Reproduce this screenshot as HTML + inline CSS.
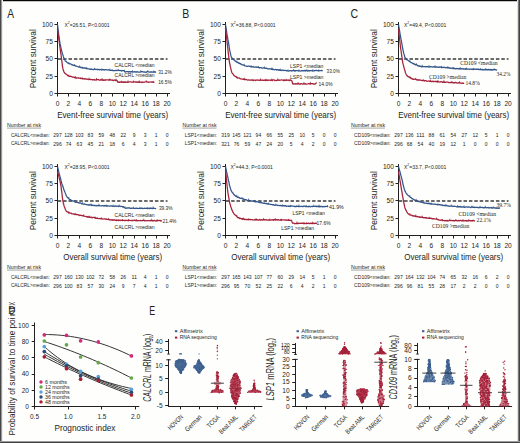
<!DOCTYPE html><html><head><meta charset="utf-8"><style>html,body{margin:0;padding:0;background:#fff;width:520px;height:443px;overflow:hidden}svg{display:block;font-family:"Liberation Sans",sans-serif}</style></head><body><svg width="520" height="443" viewBox="0 0 520 443" font-family="Liberation Sans, sans-serif">
<rect x="0" y="0" width="520" height="443" fill="#fefefd"/>
<line x1="57.50" y1="22.00" x2="57.50" y2="94.00" stroke="#231f20" stroke-width="1.0" />
<line x1="57.00" y1="93.50" x2="170.00" y2="93.50" stroke="#231f20" stroke-width="1.0" />
<line x1="54.50" y1="93.50" x2="57.50" y2="93.50" stroke="#231f20" stroke-width="1.0" />
<text x="52.90" y="95.90" font-size="6.6" fill="#231f20" text-anchor="end" >0</text>
<line x1="54.50" y1="76.50" x2="57.50" y2="76.50" stroke="#231f20" stroke-width="1.0" />
<text x="52.90" y="78.65" font-size="6.6" fill="#231f20" text-anchor="end" >25</text>
<line x1="54.50" y1="58.50" x2="57.50" y2="58.50" stroke="#231f20" stroke-width="1.0" />
<text x="52.90" y="61.40" font-size="6.6" fill="#231f20" text-anchor="end" >50</text>
<line x1="54.50" y1="41.50" x2="57.50" y2="41.50" stroke="#231f20" stroke-width="1.0" />
<text x="52.90" y="44.15" font-size="6.6" fill="#231f20" text-anchor="end" >75</text>
<line x1="54.50" y1="24.50" x2="57.50" y2="24.50" stroke="#231f20" stroke-width="1.0" />
<text x="52.90" y="26.90" font-size="6.6" fill="#231f20" text-anchor="end" >100</text>
<line x1="57.50" y1="93.50" x2="57.50" y2="96.50" stroke="#231f20" stroke-width="1.0" />
<text x="57.50" y="105.80" font-size="6.6" fill="#231f20" text-anchor="middle" >0</text>
<line x1="68.50" y1="93.50" x2="68.50" y2="96.50" stroke="#231f20" stroke-width="1.0" />
<text x="68.46" y="105.80" font-size="6.6" fill="#231f20" text-anchor="middle" >2</text>
<line x1="79.50" y1="93.50" x2="79.50" y2="96.50" stroke="#231f20" stroke-width="1.0" />
<text x="79.42" y="105.80" font-size="6.6" fill="#231f20" text-anchor="middle" >4</text>
<line x1="90.50" y1="93.50" x2="90.50" y2="96.50" stroke="#231f20" stroke-width="1.0" />
<text x="90.38" y="105.80" font-size="6.6" fill="#231f20" text-anchor="middle" >6</text>
<line x1="101.50" y1="93.50" x2="101.50" y2="96.50" stroke="#231f20" stroke-width="1.0" />
<text x="101.34" y="105.80" font-size="6.6" fill="#231f20" text-anchor="middle" >8</text>
<line x1="112.50" y1="93.50" x2="112.50" y2="96.50" stroke="#231f20" stroke-width="1.0" />
<text x="112.30" y="105.80" font-size="6.6" fill="#231f20" text-anchor="middle" >10</text>
<line x1="123.50" y1="93.50" x2="123.50" y2="96.50" stroke="#231f20" stroke-width="1.0" />
<text x="123.26" y="105.80" font-size="6.6" fill="#231f20" text-anchor="middle" >12</text>
<line x1="134.50" y1="93.50" x2="134.50" y2="96.50" stroke="#231f20" stroke-width="1.0" />
<text x="134.22" y="105.80" font-size="6.6" fill="#231f20" text-anchor="middle" >14</text>
<line x1="145.50" y1="93.50" x2="145.50" y2="96.50" stroke="#231f20" stroke-width="1.0" />
<text x="145.18" y="105.80" font-size="6.6" fill="#231f20" text-anchor="middle" >16</text>
<line x1="156.50" y1="93.50" x2="156.50" y2="96.50" stroke="#231f20" stroke-width="1.0" />
<text x="156.14" y="105.80" font-size="6.6" fill="#231f20" text-anchor="middle" >18</text>
<line x1="167.50" y1="93.50" x2="167.50" y2="96.50" stroke="#231f20" stroke-width="1.0" />
<text x="167.10" y="105.80" font-size="6.6" fill="#231f20" text-anchor="middle" >20</text>
<line x1="57.70" y1="59.00" x2="167.50" y2="59.00" stroke="#3a3a3a" stroke-width="1.4" stroke-dasharray="3.5 1.9"/>
<text x="0" y="0" font-size="9.6" fill="#231f20" text-anchor="middle" transform="translate(35.60,58.70) rotate(-90)" textLength="59" lengthAdjust="spacingAndGlyphs">Percent survival</text>
<text x="112.70" y="118.10" font-size="8.8" fill="#231f20" text-anchor="middle" textLength="111.00" lengthAdjust="spacingAndGlyphs" >Event-free survival time (years)</text>
<line x1="57.50" y1="164.00" x2="57.50" y2="236.00" stroke="#231f20" stroke-width="1.0" />
<line x1="57.00" y1="235.50" x2="170.00" y2="235.50" stroke="#231f20" stroke-width="1.0" />
<line x1="54.50" y1="235.50" x2="57.50" y2="235.50" stroke="#231f20" stroke-width="1.0" />
<text x="52.90" y="237.90" font-size="6.6" fill="#231f20" text-anchor="end" >0</text>
<line x1="54.50" y1="218.50" x2="57.50" y2="218.50" stroke="#231f20" stroke-width="1.0" />
<text x="52.90" y="220.65" font-size="6.6" fill="#231f20" text-anchor="end" >25</text>
<line x1="54.50" y1="200.50" x2="57.50" y2="200.50" stroke="#231f20" stroke-width="1.0" />
<text x="52.90" y="203.40" font-size="6.6" fill="#231f20" text-anchor="end" >50</text>
<line x1="54.50" y1="183.50" x2="57.50" y2="183.50" stroke="#231f20" stroke-width="1.0" />
<text x="52.90" y="186.15" font-size="6.6" fill="#231f20" text-anchor="end" >75</text>
<line x1="54.50" y1="166.50" x2="57.50" y2="166.50" stroke="#231f20" stroke-width="1.0" />
<text x="52.90" y="168.90" font-size="6.6" fill="#231f20" text-anchor="end" >100</text>
<line x1="57.50" y1="235.50" x2="57.50" y2="238.50" stroke="#231f20" stroke-width="1.0" />
<text x="57.50" y="247.80" font-size="6.6" fill="#231f20" text-anchor="middle" >0</text>
<line x1="68.50" y1="235.50" x2="68.50" y2="238.50" stroke="#231f20" stroke-width="1.0" />
<text x="68.46" y="247.80" font-size="6.6" fill="#231f20" text-anchor="middle" >2</text>
<line x1="79.50" y1="235.50" x2="79.50" y2="238.50" stroke="#231f20" stroke-width="1.0" />
<text x="79.42" y="247.80" font-size="6.6" fill="#231f20" text-anchor="middle" >4</text>
<line x1="90.50" y1="235.50" x2="90.50" y2="238.50" stroke="#231f20" stroke-width="1.0" />
<text x="90.38" y="247.80" font-size="6.6" fill="#231f20" text-anchor="middle" >6</text>
<line x1="101.50" y1="235.50" x2="101.50" y2="238.50" stroke="#231f20" stroke-width="1.0" />
<text x="101.34" y="247.80" font-size="6.6" fill="#231f20" text-anchor="middle" >8</text>
<line x1="112.50" y1="235.50" x2="112.50" y2="238.50" stroke="#231f20" stroke-width="1.0" />
<text x="112.30" y="247.80" font-size="6.6" fill="#231f20" text-anchor="middle" >10</text>
<line x1="123.50" y1="235.50" x2="123.50" y2="238.50" stroke="#231f20" stroke-width="1.0" />
<text x="123.26" y="247.80" font-size="6.6" fill="#231f20" text-anchor="middle" >12</text>
<line x1="134.50" y1="235.50" x2="134.50" y2="238.50" stroke="#231f20" stroke-width="1.0" />
<text x="134.22" y="247.80" font-size="6.6" fill="#231f20" text-anchor="middle" >14</text>
<line x1="145.50" y1="235.50" x2="145.50" y2="238.50" stroke="#231f20" stroke-width="1.0" />
<text x="145.18" y="247.80" font-size="6.6" fill="#231f20" text-anchor="middle" >16</text>
<line x1="156.50" y1="235.50" x2="156.50" y2="238.50" stroke="#231f20" stroke-width="1.0" />
<text x="156.14" y="247.80" font-size="6.6" fill="#231f20" text-anchor="middle" >18</text>
<line x1="167.50" y1="235.50" x2="167.50" y2="238.50" stroke="#231f20" stroke-width="1.0" />
<text x="167.10" y="247.80" font-size="6.6" fill="#231f20" text-anchor="middle" >20</text>
<line x1="57.70" y1="201.00" x2="167.50" y2="201.00" stroke="#3a3a3a" stroke-width="1.4" stroke-dasharray="3.5 1.9"/>
<text x="0" y="0" font-size="9.6" fill="#231f20" text-anchor="middle" transform="translate(35.60,200.70) rotate(-90)" textLength="59" lengthAdjust="spacingAndGlyphs">Percent survival</text>
<text x="112.70" y="260.10" font-size="8.8" fill="#231f20" text-anchor="middle" textLength="99.00" lengthAdjust="spacingAndGlyphs" >Overall survival time (years)</text>
<line x1="225.50" y1="22.00" x2="225.50" y2="94.00" stroke="#231f20" stroke-width="1.0" />
<line x1="225.00" y1="93.50" x2="338.00" y2="93.50" stroke="#231f20" stroke-width="1.0" />
<line x1="222.50" y1="93.50" x2="225.50" y2="93.50" stroke="#231f20" stroke-width="1.0" />
<text x="220.90" y="95.90" font-size="6.6" fill="#231f20" text-anchor="end" >0</text>
<line x1="222.50" y1="76.50" x2="225.50" y2="76.50" stroke="#231f20" stroke-width="1.0" />
<text x="220.90" y="78.65" font-size="6.6" fill="#231f20" text-anchor="end" >25</text>
<line x1="222.50" y1="58.50" x2="225.50" y2="58.50" stroke="#231f20" stroke-width="1.0" />
<text x="220.90" y="61.40" font-size="6.6" fill="#231f20" text-anchor="end" >50</text>
<line x1="222.50" y1="41.50" x2="225.50" y2="41.50" stroke="#231f20" stroke-width="1.0" />
<text x="220.90" y="44.15" font-size="6.6" fill="#231f20" text-anchor="end" >75</text>
<line x1="222.50" y1="24.50" x2="225.50" y2="24.50" stroke="#231f20" stroke-width="1.0" />
<text x="220.90" y="26.90" font-size="6.6" fill="#231f20" text-anchor="end" >100</text>
<line x1="225.50" y1="93.50" x2="225.50" y2="96.50" stroke="#231f20" stroke-width="1.0" />
<text x="225.50" y="105.80" font-size="6.6" fill="#231f20" text-anchor="middle" >0</text>
<line x1="236.50" y1="93.50" x2="236.50" y2="96.50" stroke="#231f20" stroke-width="1.0" />
<text x="236.46" y="105.80" font-size="6.6" fill="#231f20" text-anchor="middle" >2</text>
<line x1="247.50" y1="93.50" x2="247.50" y2="96.50" stroke="#231f20" stroke-width="1.0" />
<text x="247.42" y="105.80" font-size="6.6" fill="#231f20" text-anchor="middle" >4</text>
<line x1="258.50" y1="93.50" x2="258.50" y2="96.50" stroke="#231f20" stroke-width="1.0" />
<text x="258.38" y="105.80" font-size="6.6" fill="#231f20" text-anchor="middle" >6</text>
<line x1="269.50" y1="93.50" x2="269.50" y2="96.50" stroke="#231f20" stroke-width="1.0" />
<text x="269.34" y="105.80" font-size="6.6" fill="#231f20" text-anchor="middle" >8</text>
<line x1="280.50" y1="93.50" x2="280.50" y2="96.50" stroke="#231f20" stroke-width="1.0" />
<text x="280.30" y="105.80" font-size="6.6" fill="#231f20" text-anchor="middle" >10</text>
<line x1="291.50" y1="93.50" x2="291.50" y2="96.50" stroke="#231f20" stroke-width="1.0" />
<text x="291.26" y="105.80" font-size="6.6" fill="#231f20" text-anchor="middle" >12</text>
<line x1="302.50" y1="93.50" x2="302.50" y2="96.50" stroke="#231f20" stroke-width="1.0" />
<text x="302.22" y="105.80" font-size="6.6" fill="#231f20" text-anchor="middle" >14</text>
<line x1="313.50" y1="93.50" x2="313.50" y2="96.50" stroke="#231f20" stroke-width="1.0" />
<text x="313.18" y="105.80" font-size="6.6" fill="#231f20" text-anchor="middle" >16</text>
<line x1="324.50" y1="93.50" x2="324.50" y2="96.50" stroke="#231f20" stroke-width="1.0" />
<text x="324.14" y="105.80" font-size="6.6" fill="#231f20" text-anchor="middle" >18</text>
<line x1="335.50" y1="93.50" x2="335.50" y2="96.50" stroke="#231f20" stroke-width="1.0" />
<text x="335.10" y="105.80" font-size="6.6" fill="#231f20" text-anchor="middle" >20</text>
<line x1="225.70" y1="59.00" x2="335.50" y2="59.00" stroke="#3a3a3a" stroke-width="1.4" stroke-dasharray="3.5 1.9"/>
<text x="0" y="0" font-size="9.6" fill="#231f20" text-anchor="middle" transform="translate(203.60,58.70) rotate(-90)" textLength="59" lengthAdjust="spacingAndGlyphs">Percent survival</text>
<text x="280.70" y="118.10" font-size="8.8" fill="#231f20" text-anchor="middle" textLength="111.00" lengthAdjust="spacingAndGlyphs" >Event-free survival time (years)</text>
<line x1="225.50" y1="164.00" x2="225.50" y2="236.00" stroke="#231f20" stroke-width="1.0" />
<line x1="225.00" y1="235.50" x2="338.00" y2="235.50" stroke="#231f20" stroke-width="1.0" />
<line x1="222.50" y1="235.50" x2="225.50" y2="235.50" stroke="#231f20" stroke-width="1.0" />
<text x="220.90" y="237.90" font-size="6.6" fill="#231f20" text-anchor="end" >0</text>
<line x1="222.50" y1="218.50" x2="225.50" y2="218.50" stroke="#231f20" stroke-width="1.0" />
<text x="220.90" y="220.65" font-size="6.6" fill="#231f20" text-anchor="end" >25</text>
<line x1="222.50" y1="200.50" x2="225.50" y2="200.50" stroke="#231f20" stroke-width="1.0" />
<text x="220.90" y="203.40" font-size="6.6" fill="#231f20" text-anchor="end" >50</text>
<line x1="222.50" y1="183.50" x2="225.50" y2="183.50" stroke="#231f20" stroke-width="1.0" />
<text x="220.90" y="186.15" font-size="6.6" fill="#231f20" text-anchor="end" >75</text>
<line x1="222.50" y1="166.50" x2="225.50" y2="166.50" stroke="#231f20" stroke-width="1.0" />
<text x="220.90" y="168.90" font-size="6.6" fill="#231f20" text-anchor="end" >100</text>
<line x1="225.50" y1="235.50" x2="225.50" y2="238.50" stroke="#231f20" stroke-width="1.0" />
<text x="225.50" y="247.80" font-size="6.6" fill="#231f20" text-anchor="middle" >0</text>
<line x1="236.50" y1="235.50" x2="236.50" y2="238.50" stroke="#231f20" stroke-width="1.0" />
<text x="236.46" y="247.80" font-size="6.6" fill="#231f20" text-anchor="middle" >2</text>
<line x1="247.50" y1="235.50" x2="247.50" y2="238.50" stroke="#231f20" stroke-width="1.0" />
<text x="247.42" y="247.80" font-size="6.6" fill="#231f20" text-anchor="middle" >4</text>
<line x1="258.50" y1="235.50" x2="258.50" y2="238.50" stroke="#231f20" stroke-width="1.0" />
<text x="258.38" y="247.80" font-size="6.6" fill="#231f20" text-anchor="middle" >6</text>
<line x1="269.50" y1="235.50" x2="269.50" y2="238.50" stroke="#231f20" stroke-width="1.0" />
<text x="269.34" y="247.80" font-size="6.6" fill="#231f20" text-anchor="middle" >8</text>
<line x1="280.50" y1="235.50" x2="280.50" y2="238.50" stroke="#231f20" stroke-width="1.0" />
<text x="280.30" y="247.80" font-size="6.6" fill="#231f20" text-anchor="middle" >10</text>
<line x1="291.50" y1="235.50" x2="291.50" y2="238.50" stroke="#231f20" stroke-width="1.0" />
<text x="291.26" y="247.80" font-size="6.6" fill="#231f20" text-anchor="middle" >12</text>
<line x1="302.50" y1="235.50" x2="302.50" y2="238.50" stroke="#231f20" stroke-width="1.0" />
<text x="302.22" y="247.80" font-size="6.6" fill="#231f20" text-anchor="middle" >14</text>
<line x1="313.50" y1="235.50" x2="313.50" y2="238.50" stroke="#231f20" stroke-width="1.0" />
<text x="313.18" y="247.80" font-size="6.6" fill="#231f20" text-anchor="middle" >16</text>
<line x1="324.50" y1="235.50" x2="324.50" y2="238.50" stroke="#231f20" stroke-width="1.0" />
<text x="324.14" y="247.80" font-size="6.6" fill="#231f20" text-anchor="middle" >18</text>
<line x1="335.50" y1="235.50" x2="335.50" y2="238.50" stroke="#231f20" stroke-width="1.0" />
<text x="335.10" y="247.80" font-size="6.6" fill="#231f20" text-anchor="middle" >20</text>
<line x1="225.70" y1="201.00" x2="335.50" y2="201.00" stroke="#3a3a3a" stroke-width="1.4" stroke-dasharray="3.5 1.9"/>
<text x="0" y="0" font-size="9.6" fill="#231f20" text-anchor="middle" transform="translate(203.60,200.70) rotate(-90)" textLength="59" lengthAdjust="spacingAndGlyphs">Percent survival</text>
<text x="280.70" y="260.10" font-size="8.8" fill="#231f20" text-anchor="middle" textLength="99.00" lengthAdjust="spacingAndGlyphs" >Overall survival time (years)</text>
<line x1="398.50" y1="22.00" x2="398.50" y2="94.00" stroke="#231f20" stroke-width="1.0" />
<line x1="398.00" y1="93.50" x2="511.00" y2="93.50" stroke="#231f20" stroke-width="1.0" />
<line x1="395.50" y1="93.50" x2="398.50" y2="93.50" stroke="#231f20" stroke-width="1.0" />
<text x="393.90" y="95.90" font-size="6.6" fill="#231f20" text-anchor="end" >0</text>
<line x1="395.50" y1="76.50" x2="398.50" y2="76.50" stroke="#231f20" stroke-width="1.0" />
<text x="393.90" y="78.65" font-size="6.6" fill="#231f20" text-anchor="end" >25</text>
<line x1="395.50" y1="58.50" x2="398.50" y2="58.50" stroke="#231f20" stroke-width="1.0" />
<text x="393.90" y="61.40" font-size="6.6" fill="#231f20" text-anchor="end" >50</text>
<line x1="395.50" y1="41.50" x2="398.50" y2="41.50" stroke="#231f20" stroke-width="1.0" />
<text x="393.90" y="44.15" font-size="6.6" fill="#231f20" text-anchor="end" >75</text>
<line x1="395.50" y1="24.50" x2="398.50" y2="24.50" stroke="#231f20" stroke-width="1.0" />
<text x="393.90" y="26.90" font-size="6.6" fill="#231f20" text-anchor="end" >100</text>
<line x1="398.50" y1="93.50" x2="398.50" y2="96.50" stroke="#231f20" stroke-width="1.0" />
<text x="398.50" y="105.80" font-size="6.6" fill="#231f20" text-anchor="middle" >0</text>
<line x1="409.50" y1="93.50" x2="409.50" y2="96.50" stroke="#231f20" stroke-width="1.0" />
<text x="409.46" y="105.80" font-size="6.6" fill="#231f20" text-anchor="middle" >2</text>
<line x1="420.50" y1="93.50" x2="420.50" y2="96.50" stroke="#231f20" stroke-width="1.0" />
<text x="420.42" y="105.80" font-size="6.6" fill="#231f20" text-anchor="middle" >4</text>
<line x1="431.50" y1="93.50" x2="431.50" y2="96.50" stroke="#231f20" stroke-width="1.0" />
<text x="431.38" y="105.80" font-size="6.6" fill="#231f20" text-anchor="middle" >6</text>
<line x1="442.50" y1="93.50" x2="442.50" y2="96.50" stroke="#231f20" stroke-width="1.0" />
<text x="442.34" y="105.80" font-size="6.6" fill="#231f20" text-anchor="middle" >8</text>
<line x1="453.50" y1="93.50" x2="453.50" y2="96.50" stroke="#231f20" stroke-width="1.0" />
<text x="453.30" y="105.80" font-size="6.6" fill="#231f20" text-anchor="middle" >10</text>
<line x1="464.50" y1="93.50" x2="464.50" y2="96.50" stroke="#231f20" stroke-width="1.0" />
<text x="464.26" y="105.80" font-size="6.6" fill="#231f20" text-anchor="middle" >12</text>
<line x1="475.50" y1="93.50" x2="475.50" y2="96.50" stroke="#231f20" stroke-width="1.0" />
<text x="475.22" y="105.80" font-size="6.6" fill="#231f20" text-anchor="middle" >14</text>
<line x1="486.50" y1="93.50" x2="486.50" y2="96.50" stroke="#231f20" stroke-width="1.0" />
<text x="486.18" y="105.80" font-size="6.6" fill="#231f20" text-anchor="middle" >16</text>
<line x1="497.50" y1="93.50" x2="497.50" y2="96.50" stroke="#231f20" stroke-width="1.0" />
<text x="497.14" y="105.80" font-size="6.6" fill="#231f20" text-anchor="middle" >18</text>
<line x1="508.50" y1="93.50" x2="508.50" y2="96.50" stroke="#231f20" stroke-width="1.0" />
<text x="508.10" y="105.80" font-size="6.6" fill="#231f20" text-anchor="middle" >20</text>
<line x1="398.70" y1="59.00" x2="508.50" y2="59.00" stroke="#3a3a3a" stroke-width="1.4" stroke-dasharray="3.5 1.9"/>
<text x="0" y="0" font-size="9.6" fill="#231f20" text-anchor="middle" transform="translate(376.60,58.70) rotate(-90)" textLength="59" lengthAdjust="spacingAndGlyphs">Percent survival</text>
<text x="453.70" y="118.10" font-size="8.8" fill="#231f20" text-anchor="middle" textLength="111.00" lengthAdjust="spacingAndGlyphs" >Event-free survival time (years)</text>
<line x1="398.50" y1="164.00" x2="398.50" y2="236.00" stroke="#231f20" stroke-width="1.0" />
<line x1="398.00" y1="235.50" x2="511.00" y2="235.50" stroke="#231f20" stroke-width="1.0" />
<line x1="395.50" y1="235.50" x2="398.50" y2="235.50" stroke="#231f20" stroke-width="1.0" />
<text x="393.90" y="237.90" font-size="6.6" fill="#231f20" text-anchor="end" >0</text>
<line x1="395.50" y1="218.50" x2="398.50" y2="218.50" stroke="#231f20" stroke-width="1.0" />
<text x="393.90" y="220.65" font-size="6.6" fill="#231f20" text-anchor="end" >25</text>
<line x1="395.50" y1="200.50" x2="398.50" y2="200.50" stroke="#231f20" stroke-width="1.0" />
<text x="393.90" y="203.40" font-size="6.6" fill="#231f20" text-anchor="end" >50</text>
<line x1="395.50" y1="183.50" x2="398.50" y2="183.50" stroke="#231f20" stroke-width="1.0" />
<text x="393.90" y="186.15" font-size="6.6" fill="#231f20" text-anchor="end" >75</text>
<line x1="395.50" y1="166.50" x2="398.50" y2="166.50" stroke="#231f20" stroke-width="1.0" />
<text x="393.90" y="168.90" font-size="6.6" fill="#231f20" text-anchor="end" >100</text>
<line x1="398.50" y1="235.50" x2="398.50" y2="238.50" stroke="#231f20" stroke-width="1.0" />
<text x="398.50" y="247.80" font-size="6.6" fill="#231f20" text-anchor="middle" >0</text>
<line x1="409.50" y1="235.50" x2="409.50" y2="238.50" stroke="#231f20" stroke-width="1.0" />
<text x="409.46" y="247.80" font-size="6.6" fill="#231f20" text-anchor="middle" >2</text>
<line x1="420.50" y1="235.50" x2="420.50" y2="238.50" stroke="#231f20" stroke-width="1.0" />
<text x="420.42" y="247.80" font-size="6.6" fill="#231f20" text-anchor="middle" >4</text>
<line x1="431.50" y1="235.50" x2="431.50" y2="238.50" stroke="#231f20" stroke-width="1.0" />
<text x="431.38" y="247.80" font-size="6.6" fill="#231f20" text-anchor="middle" >6</text>
<line x1="442.50" y1="235.50" x2="442.50" y2="238.50" stroke="#231f20" stroke-width="1.0" />
<text x="442.34" y="247.80" font-size="6.6" fill="#231f20" text-anchor="middle" >8</text>
<line x1="453.50" y1="235.50" x2="453.50" y2="238.50" stroke="#231f20" stroke-width="1.0" />
<text x="453.30" y="247.80" font-size="6.6" fill="#231f20" text-anchor="middle" >10</text>
<line x1="464.50" y1="235.50" x2="464.50" y2="238.50" stroke="#231f20" stroke-width="1.0" />
<text x="464.26" y="247.80" font-size="6.6" fill="#231f20" text-anchor="middle" >12</text>
<line x1="475.50" y1="235.50" x2="475.50" y2="238.50" stroke="#231f20" stroke-width="1.0" />
<text x="475.22" y="247.80" font-size="6.6" fill="#231f20" text-anchor="middle" >14</text>
<line x1="486.50" y1="235.50" x2="486.50" y2="238.50" stroke="#231f20" stroke-width="1.0" />
<text x="486.18" y="247.80" font-size="6.6" fill="#231f20" text-anchor="middle" >16</text>
<line x1="497.50" y1="235.50" x2="497.50" y2="238.50" stroke="#231f20" stroke-width="1.0" />
<text x="497.14" y="247.80" font-size="6.6" fill="#231f20" text-anchor="middle" >18</text>
<line x1="508.50" y1="235.50" x2="508.50" y2="238.50" stroke="#231f20" stroke-width="1.0" />
<text x="508.10" y="247.80" font-size="6.6" fill="#231f20" text-anchor="middle" >20</text>
<line x1="398.70" y1="201.00" x2="508.50" y2="201.00" stroke="#3a3a3a" stroke-width="1.4" stroke-dasharray="3.5 1.9"/>
<text x="0" y="0" font-size="9.6" fill="#231f20" text-anchor="middle" transform="translate(376.60,200.70) rotate(-90)" textLength="59" lengthAdjust="spacingAndGlyphs">Percent survival</text>
<text x="453.70" y="260.10" font-size="8.8" fill="#231f20" text-anchor="middle" textLength="99.00" lengthAdjust="spacingAndGlyphs" >Overall survival time (years)</text>
<text x="0" y="0" font-size="12" fill="#231f20" transform="translate(7.2,17.9) scale(0.85,1)">A</text>
<text x="0" y="0" font-size="12" fill="#231f20" transform="translate(182.3,17.9) scale(0.88,1)">B</text>
<text x="0" y="0" font-size="12" fill="#231f20" transform="translate(350.6,17.9) scale(0.88,1)">C</text>
<polyline points="57.5,24.5 58.0,28.6 58.5,32.8 59.0,36.8 59.5,40.2 60.0,43.4 60.5,45.5 61.0,48.0 61.4,50.0 61.9,51.6 62.4,53.6 62.9,54.9 63.4,56.7 63.9,57.9 64.4,59.1 64.9,60.3 65.4,61.2 65.9,61.2 66.4,61.7 66.9,62.3 67.4,62.9 67.9,62.9 68.4,63.0 68.8,63.7 69.3,63.8 69.8,63.7 70.3,63.8 70.8,64.0 71.3,64.3 71.8,64.9 72.3,64.6 72.8,65.1 73.3,65.3 73.8,65.3 74.3,65.6 74.8,65.4 75.3,65.7 75.7,66.2 76.2,66.1 76.7,66.2 77.2,66.5 77.7,66.6 78.2,66.6 78.7,67.1 79.2,67.1 79.7,66.9 80.2,67.2 80.7,67.6 81.2,67.6 81.7,67.4 82.2,68.0 82.7,67.5 83.1,67.8 83.6,68.1 84.1,67.8 84.6,68.1 85.1,67.9 85.6,68.4 86.1,68.6 86.6,68.6 87.1,68.5 87.6,68.8 88.1,68.8 88.6,68.9 89.1,68.9 89.6,69.2 90.1,69.4 90.5,69.1 91.0,69.3 91.5,68.9 92.0,69.4 92.5,69.4 93.0,69.7 93.5,69.6 94.0,69.3 94.5,69.4 95.0,69.2 95.5,69.5 96.0,69.3 96.5,69.3 97.0,69.3 97.4,69.8 97.9,69.3 98.4,69.4 98.9,69.5 99.4,69.9 99.9,69.4 100.4,69.6 100.9,69.7 101.4,70.0 101.9,69.9 102.4,69.6 102.9,69.7 103.4,69.6 103.9,70.0 104.4,70.1 104.8,69.6 105.3,69.6 105.8,69.7 106.3,69.7 106.8,69.9 107.3,70.0 107.8,69.8 108.3,69.7 108.8,70.0 109.3,70.0 109.8,70.2 110.3,70.3 110.8,70.2 111.3,70.3 111.8,70.4 112.2,70.0 112.7,70.7 113.2,70.6 113.7,70.7 114.2,70.7 114.7,70.5 115.2,70.5 115.7,70.3 116.2,70.7 116.7,70.3 117.2,70.4 117.7,70.5 118.2,70.5 118.7,70.4 119.1,70.4 119.6,70.5 120.1,70.5 120.6,70.6 121.1,70.4 121.6,71.0 122.1,70.8 122.6,70.5 123.1,70.6 123.6,70.6 124.1,70.8 124.6,71.3 125.1,72.1 125.6,71.8 126.1,71.8 126.5,71.5 127.0,71.5 127.5,71.7 128.0,71.7 128.5,72.1 129.0,71.6 129.5,71.5 130.0,72.2 130.5,71.9 131.0,71.6 131.5,71.9 132.0,71.5 132.5,71.9 133.0,72.1 133.5,72.0 133.9,71.7 134.4,71.8 134.9,71.7 135.4,72.1 135.9,71.9 136.4,72.1 136.9,71.8 137.4,71.7 137.9,72.1 138.4,72.2 138.9,72.2 139.4,72.1 139.9,72.1 140.4,72.1 140.9,71.7 141.3,71.8 141.8,71.6 142.3,71.6 142.8,71.8 143.3,71.8 143.8,72.1 144.3,72.2 144.8,71.9 145.3,72.2 145.8,72.3 146.3,72.3 146.8,71.8 147.3,71.7 147.8,71.7 148.2,71.7 148.7,72.0 149.2,72.2 149.7,72.2 150.2,71.9 150.7,72.1 151.2,72.2 151.7,71.7 152.2,72.1 152.7,72.2 153.2,72.2 153.7,72.1 154.2,71.7 154.7,72.2 155.2,71.8 155.6,72.2 156.1,72.3" fill="none" stroke="#34568a" stroke-width="1.25" stroke-linejoin="round"/>
<line x1="68.84" y1="62.06" x2="68.84" y2="63.86" stroke="#34568a" stroke-width="0.75" />
<line x1="74.27" y1="64.00" x2="74.27" y2="65.80" stroke="#34568a" stroke-width="0.75" />
<line x1="79.69" y1="65.32" x2="79.69" y2="67.12" stroke="#34568a" stroke-width="0.75" />
<line x1="86.60" y1="66.96" x2="86.60" y2="68.76" stroke="#34568a" stroke-width="0.75" />
<line x1="94.49" y1="67.79" x2="94.49" y2="69.59" stroke="#34568a" stroke-width="0.75" />
<line x1="101.89" y1="68.32" x2="101.89" y2="70.12" stroke="#34568a" stroke-width="0.75" />
<line x1="109.78" y1="68.58" x2="109.78" y2="70.38" stroke="#34568a" stroke-width="0.75" />
<line x1="118.16" y1="68.87" x2="118.16" y2="70.67" stroke="#34568a" stroke-width="0.75" />
<line x1="124.58" y1="69.67" x2="124.58" y2="71.47" stroke="#34568a" stroke-width="0.75" />
<line x1="132.47" y1="70.29" x2="132.47" y2="72.09" stroke="#34568a" stroke-width="0.75" />
<line x1="140.85" y1="70.13" x2="140.85" y2="71.93" stroke="#34568a" stroke-width="0.75" />
<line x1="147.76" y1="70.15" x2="147.76" y2="71.95" stroke="#34568a" stroke-width="0.75" />
<line x1="153.67" y1="70.53" x2="153.67" y2="72.33" stroke="#34568a" stroke-width="0.75" />
<polyline points="57.5,29.3 58.0,33.0 58.5,36.7 59.0,40.3 59.5,44.0 60.0,48.0 60.5,51.3 61.0,54.3 61.4,57.9 61.9,61.7 62.4,65.8 62.9,68.7 63.4,70.2 63.9,71.7 64.4,72.7 64.9,73.2 65.4,73.6 65.9,74.2 66.4,74.3 66.9,74.6 67.4,75.5 67.9,75.5 68.4,75.7 68.8,76.2 69.3,76.3 69.8,76.5 70.3,76.2 70.8,76.4 71.3,76.6 71.8,76.7 72.3,77.1 72.8,77.0 73.3,77.2 73.8,77.1 74.3,77.7 74.8,77.4 75.3,77.6 75.7,78.0 76.2,77.7 76.7,78.2 77.2,77.9 77.7,78.0 78.2,78.1 78.7,77.8 79.2,78.2 79.7,78.1 80.2,78.0 80.7,78.6 81.2,78.3 81.7,78.5 82.2,78.8 82.7,78.6 83.1,78.8 83.6,78.8 84.1,79.1 84.6,78.6 85.1,79.0 85.6,78.8 86.1,78.9 86.6,79.3 87.1,79.2 87.6,79.2 88.1,79.4 88.6,79.6 89.1,79.3 89.6,79.4 90.1,79.4 90.5,79.6 91.0,79.4 91.5,79.5 92.0,79.5 92.5,79.9 93.0,79.7 93.5,79.9 94.0,80.0 94.5,79.5 95.0,79.8 95.5,80.0 96.0,80.0 96.5,79.5 97.0,79.8 97.4,79.5 97.9,79.7 98.4,79.5 98.9,80.0 99.4,80.1 99.9,80.2 100.4,79.7 100.9,80.1 101.4,80.0 101.9,79.7 102.4,80.3 102.9,79.7 103.4,80.3 103.9,79.9 104.4,79.9 104.8,80.3 105.3,80.2 105.8,79.7 106.3,79.9 106.8,80.0 107.3,79.9 107.8,79.8 108.3,79.9 108.8,80.2 109.3,79.7 109.8,80.1 110.3,79.7 110.8,80.0 111.3,80.2 111.8,80.1 112.2,79.8 112.7,80.5 113.2,80.4 113.7,80.6 114.2,80.0 114.7,80.1 115.2,80.0 115.7,80.6 116.2,80.3 116.7,80.4 117.2,80.8 117.7,82.2 118.2,81.9 118.7,81.9 119.1,82.4 119.6,82.2 120.1,82.3 120.6,81.8 121.1,81.8 121.6,82.2 122.1,81.8 122.6,82.4 123.1,82.2 123.6,82.3 124.1,81.8 124.6,82.4 125.1,81.8 125.6,82.4 126.1,82.1 126.5,82.0 127.0,82.2 127.5,82.4 128.0,82.0 128.5,82.1 129.0,81.9 129.5,81.8 130.0,81.9 130.5,81.8 131.0,81.9 131.5,82.0 132.0,82.0 132.5,82.3 133.0,82.0 133.5,82.1 133.9,82.0 134.4,81.8 134.9,81.9 135.4,81.8 135.9,82.3 136.4,82.2 136.9,81.9 137.4,82.1 137.9,82.4 138.4,81.8 138.9,82.3 139.4,82.1 139.9,82.3 140.4,82.0 140.9,82.1 141.3,82.2 141.8,82.5 142.3,82.0 142.8,82.3 143.3,82.3 143.8,82.2 144.3,82.0 144.8,82.0 145.3,81.8 145.8,81.9 146.3,81.8 146.8,81.9 147.3,81.9 147.8,81.8 148.2,82.4 148.7,82.4 149.2,82.2 149.7,82.0 150.2,81.9 150.7,82.0 151.2,82.1 151.7,81.9 152.2,82.1 152.7,81.9 153.2,82.4 153.7,82.4 154.2,81.9" fill="none" stroke="#a5223b" stroke-width="1.25" stroke-linejoin="round"/>
<line x1="68.84" y1="74.57" x2="68.84" y2="76.37" stroke="#a5223b" stroke-width="0.75" />
<line x1="75.26" y1="75.99" x2="75.26" y2="77.79" stroke="#a5223b" stroke-width="0.75" />
<line x1="82.16" y1="77.18" x2="82.16" y2="78.98" stroke="#a5223b" stroke-width="0.75" />
<line x1="89.06" y1="77.68" x2="89.06" y2="79.48" stroke="#a5223b" stroke-width="0.75" />
<line x1="96.46" y1="77.93" x2="96.46" y2="79.73" stroke="#a5223b" stroke-width="0.75" />
<line x1="101.89" y1="78.07" x2="101.89" y2="79.87" stroke="#a5223b" stroke-width="0.75" />
<line x1="109.78" y1="78.49" x2="109.78" y2="80.29" stroke="#a5223b" stroke-width="0.75" />
<line x1="116.19" y1="78.66" x2="116.19" y2="80.46" stroke="#a5223b" stroke-width="0.75" />
<line x1="121.62" y1="80.65" x2="121.62" y2="82.45" stroke="#a5223b" stroke-width="0.75" />
<line x1="128.03" y1="80.35" x2="128.03" y2="82.15" stroke="#a5223b" stroke-width="0.75" />
<line x1="133.45" y1="80.52" x2="133.45" y2="82.32" stroke="#a5223b" stroke-width="0.75" />
<line x1="139.37" y1="80.47" x2="139.37" y2="82.27" stroke="#a5223b" stroke-width="0.75" />
<line x1="146.28" y1="80.21" x2="146.28" y2="82.01" stroke="#a5223b" stroke-width="0.75" />
<line x1="153.67" y1="80.85" x2="153.67" y2="82.65" stroke="#a5223b" stroke-width="0.75" />
<polyline points="225.5,24.5 226.0,27.7 226.5,30.9 227.0,34.5 227.5,37.2 228.0,40.1 228.5,42.6 229.0,45.6 229.4,48.5 229.9,51.2 230.4,53.4 230.9,55.7 231.4,56.9 231.9,58.0 232.4,58.5 232.9,59.2 233.4,59.4 233.9,59.8 234.4,60.4 234.9,60.7 235.4,61.2 235.9,61.4 236.4,61.9 236.8,62.1 237.3,62.5 237.8,62.4 238.3,62.7 238.8,63.4 239.3,63.0 239.8,63.7 240.3,63.9 240.8,63.7 241.3,64.5 241.8,64.7 242.3,64.7 242.8,65.0 243.3,65.2 243.7,64.9 244.2,65.4 244.7,65.8 245.2,65.9 245.7,66.0 246.2,66.0 246.7,66.3 247.2,66.3 247.7,66.4 248.2,66.1 248.7,66.1 249.2,66.2 249.7,66.4 250.2,66.3 250.7,66.9 251.1,66.7 251.6,66.8 252.1,66.9 252.6,66.8 253.1,66.5 253.6,67.1 254.1,67.2 254.6,67.0 255.1,67.1 255.6,67.2 256.1,66.9 256.6,67.4 257.1,67.1 257.6,67.0 258.1,67.2 258.5,67.6 259.0,67.7 259.5,67.9 260.0,67.6 260.5,67.6 261.0,67.7 261.5,67.9 262.0,68.1 262.5,68.0 263.0,68.1 263.5,67.8 264.0,67.9 264.5,68.1 265.0,68.2 265.4,68.4 265.9,68.1 266.4,68.2 266.9,68.4 267.4,68.8 267.9,68.8 268.4,68.9 268.9,68.7 269.4,68.9 269.9,68.9 270.4,69.0 270.9,68.8 271.4,69.4 271.9,69.0 272.4,69.6 272.8,69.0 273.3,69.3 273.8,69.6 274.3,69.8 274.8,69.5 275.3,69.4 275.8,69.4 276.3,70.0 276.8,69.6 277.3,69.9 277.8,69.6 278.3,69.9 278.8,70.3 279.3,69.8 279.8,70.3 280.2,70.2 280.7,70.3 281.2,70.1 281.7,70.6 282.2,70.3 282.7,70.1 283.2,70.1 283.7,70.5 284.2,70.5 284.7,70.4 285.2,70.3 285.7,70.5 286.2,70.5 286.7,70.9 287.1,70.3 287.6,70.9 288.1,71.0 288.6,71.0 289.1,70.9 289.6,71.0 290.1,70.6 290.6,70.6 291.1,70.7 291.6,71.1 292.1,70.8 292.6,70.6 293.1,70.7 293.6,70.6 294.1,70.5 294.5,71.0 295.0,70.6 295.5,71.0 296.0,70.6 296.5,70.6 297.0,70.7 297.5,70.5 298.0,70.6 298.5,71.0 299.0,71.0 299.5,70.8 300.0,71.0 300.5,71.0 301.0,70.8 301.5,70.9 301.9,70.4 302.4,70.9 302.9,70.7 303.4,70.9 303.9,70.8 304.4,70.6 304.9,70.4 305.4,71.0 305.9,70.5 306.4,70.7 306.9,70.6 307.4,70.9 307.9,71.1 308.4,70.6 308.9,70.8 309.3,70.6 309.8,70.8 310.3,70.7 310.8,70.5 311.3,70.5 311.8,70.5 312.3,71.0 312.8,70.7 313.3,71.0 313.8,71.1 314.3,70.7 314.8,70.5 315.3,70.5 315.8,70.4 316.2,70.6 316.7,70.4 317.2,70.5 317.7,70.6 318.2,70.8 318.7,71.0 319.2,70.7 319.7,70.7 320.2,70.7 320.7,70.6 321.2,70.6 321.7,70.4 322.2,70.6 322.7,71.1" fill="none" stroke="#34568a" stroke-width="1.25" stroke-linejoin="round"/>
<line x1="236.84" y1="60.49" x2="236.84" y2="62.29" stroke="#34568a" stroke-width="0.75" />
<line x1="244.24" y1="63.78" x2="244.24" y2="65.58" stroke="#34568a" stroke-width="0.75" />
<line x1="251.15" y1="65.14" x2="251.15" y2="66.94" stroke="#34568a" stroke-width="0.75" />
<line x1="258.54" y1="66.00" x2="258.54" y2="67.80" stroke="#34568a" stroke-width="0.75" />
<line x1="264.46" y1="66.46" x2="264.46" y2="68.26" stroke="#34568a" stroke-width="0.75" />
<line x1="271.86" y1="67.40" x2="271.86" y2="69.20" stroke="#34568a" stroke-width="0.75" />
<line x1="280.25" y1="68.56" x2="280.25" y2="70.36" stroke="#34568a" stroke-width="0.75" />
<line x1="288.14" y1="69.36" x2="288.14" y2="71.16" stroke="#34568a" stroke-width="0.75" />
<line x1="293.56" y1="68.97" x2="293.56" y2="70.77" stroke="#34568a" stroke-width="0.75" />
<line x1="298.99" y1="69.40" x2="298.99" y2="71.20" stroke="#34568a" stroke-width="0.75" />
<line x1="306.88" y1="69.02" x2="306.88" y2="70.82" stroke="#34568a" stroke-width="0.75" />
<line x1="312.80" y1="69.13" x2="312.80" y2="70.93" stroke="#34568a" stroke-width="0.75" />
<line x1="318.71" y1="69.40" x2="318.71" y2="71.20" stroke="#34568a" stroke-width="0.75" />
<polyline points="225.5,27.9 226.0,32.4 226.5,36.9 227.0,41.1 227.5,45.7 228.0,50.2 228.5,54.9 229.0,58.7 229.4,62.1 229.9,64.5 230.4,66.9 230.9,68.9 231.4,71.1 231.9,72.5 232.4,73.6 232.9,73.8 233.4,74.4 233.9,75.4 234.4,76.0 234.9,76.1 235.4,76.6 235.9,76.5 236.4,77.1 236.8,77.7 237.3,77.9 237.8,78.1 238.3,77.8 238.8,77.8 239.3,78.0 239.8,78.4 240.3,78.7 240.8,79.0 241.3,78.9 241.8,79.0 242.3,79.2 242.8,79.1 243.3,79.3 243.7,79.0 244.2,79.6 244.7,79.4 245.2,79.7 245.7,79.6 246.2,79.5 246.7,79.7 247.2,80.0 247.7,80.1 248.2,79.8 248.7,79.8 249.2,80.1 249.7,80.2 250.2,80.1 250.7,80.0 251.1,80.3 251.6,79.8 252.1,80.0 252.6,80.2 253.1,80.5 253.6,80.5 254.1,80.2 254.6,80.0 255.1,80.0 255.6,80.5 256.1,80.3 256.6,80.0 257.1,79.8 257.6,80.2 258.1,80.3 258.5,80.1 259.0,80.0 259.5,80.3 260.0,80.5 260.5,80.0 261.0,80.1 261.5,80.1 262.0,80.3 262.5,80.0 263.0,80.4 263.5,80.4 264.0,80.2 264.5,80.0 265.0,80.5 265.4,80.1 265.9,80.4 266.4,80.0 266.9,80.4 267.4,80.0 267.9,80.5 268.4,80.2 268.9,80.0 269.4,80.0 269.9,80.1 270.4,80.3 270.9,80.5 271.4,79.9 271.9,80.1 272.4,80.5 272.8,79.9 273.3,79.9 273.8,79.9 274.3,80.1 274.8,80.5 275.3,80.5 275.8,80.3 276.3,80.5 276.8,80.5 277.3,80.1 277.8,80.0 278.3,80.4 278.8,79.9 279.3,80.3 279.8,80.1 280.2,80.1 280.7,80.1 281.2,80.0 281.7,79.8 282.2,80.0 282.7,80.1 283.2,80.5 283.7,79.9 284.2,80.5 284.7,80.0 285.2,80.1 285.7,80.4 286.2,80.4 286.7,79.9 287.1,80.2 287.6,80.1 288.1,80.5 288.6,80.0 289.1,80.1 289.6,80.5 290.1,79.9 290.6,80.1 291.1,80.4 291.6,80.4 292.1,81.7 292.6,83.5 293.1,84.1 293.6,83.7 294.1,84.0 294.5,84.1 295.0,83.7 295.5,83.7 296.0,84.2 296.5,83.9 297.0,83.7 297.5,84.0 298.0,83.7 298.5,83.5 299.0,84.0 299.5,84.1 300.0,83.9 300.5,84.2 301.0,83.5 301.5,83.7 301.9,83.8 302.4,84.2 302.9,84.2 303.4,83.8 303.9,83.7 304.4,83.8 304.9,84.1 305.4,83.6 305.9,84.1 306.4,84.0 306.9,84.1 307.4,84.0 307.9,83.9 308.4,83.7 308.9,83.7 309.3,83.7 309.8,84.0 310.3,83.5 310.8,84.0 311.3,83.7 311.8,83.5 312.3,83.5 312.8,83.9 313.3,83.7 313.8,84.2 314.3,84.1 314.8,84.2 315.3,83.7 315.8,83.5 316.2,83.6" fill="none" stroke="#a5223b" stroke-width="1.25" stroke-linejoin="round"/>
<line x1="236.84" y1="76.09" x2="236.84" y2="77.89" stroke="#a5223b" stroke-width="0.75" />
<line x1="244.73" y1="77.76" x2="244.73" y2="79.56" stroke="#a5223b" stroke-width="0.75" />
<line x1="253.12" y1="78.90" x2="253.12" y2="80.70" stroke="#a5223b" stroke-width="0.75" />
<line x1="260.52" y1="78.39" x2="260.52" y2="80.19" stroke="#a5223b" stroke-width="0.75" />
<line x1="265.94" y1="78.81" x2="265.94" y2="80.61" stroke="#a5223b" stroke-width="0.75" />
<line x1="271.86" y1="78.51" x2="271.86" y2="80.31" stroke="#a5223b" stroke-width="0.75" />
<line x1="277.78" y1="78.36" x2="277.78" y2="80.16" stroke="#a5223b" stroke-width="0.75" />
<line x1="286.16" y1="78.81" x2="286.16" y2="80.61" stroke="#a5223b" stroke-width="0.75" />
<line x1="292.58" y1="81.91" x2="292.58" y2="83.71" stroke="#a5223b" stroke-width="0.75" />
<line x1="298.00" y1="82.11" x2="298.00" y2="83.91" stroke="#a5223b" stroke-width="0.75" />
<line x1="303.92" y1="82.07" x2="303.92" y2="83.87" stroke="#a5223b" stroke-width="0.75" />
<line x1="310.33" y1="81.95" x2="310.33" y2="83.75" stroke="#a5223b" stroke-width="0.75" />
<line x1="316.25" y1="81.96" x2="316.25" y2="83.76" stroke="#a5223b" stroke-width="0.75" />
<polyline points="398.5,24.5 399.0,27.4 399.5,30.4 400.0,33.5 400.5,36.3 401.0,39.0 401.5,41.8 402.0,44.4 402.4,46.8 402.9,49.4 403.4,51.8 403.9,53.9 404.4,55.4 404.9,57.3 405.4,57.9 405.9,58.7 406.4,59.1 406.9,59.9 407.4,59.9 407.9,60.3 408.4,60.6 408.9,60.8 409.4,61.6 409.8,61.7 410.3,61.8 410.8,62.5 411.3,62.5 411.8,62.5 412.3,63.2 412.8,63.4 413.3,63.9 413.8,63.5 414.3,64.0 414.8,64.5 415.3,64.7 415.8,65.0 416.3,64.6 416.7,64.9 417.2,65.1 417.7,65.8 418.2,65.7 418.7,66.1 419.2,65.9 419.7,66.4 420.2,66.2 420.7,66.2 421.2,66.7 421.7,66.9 422.2,66.3 422.7,66.8 423.2,66.5 423.7,66.6 424.1,66.5 424.6,66.6 425.1,66.6 425.6,66.9 426.1,66.9 426.6,66.6 427.1,66.5 427.6,66.7 428.1,67.0 428.6,66.7 429.1,66.8 429.6,67.1 430.1,66.9 430.6,66.6 431.1,66.6 431.5,66.9 432.0,67.0 432.5,67.0 433.0,66.7 433.5,66.7 434.0,67.1 434.5,66.9 435.0,66.8 435.5,67.3 436.0,66.9 436.5,67.1 437.0,66.9 437.5,67.0 438.0,67.3 438.4,67.4 438.9,67.0 439.4,66.9 439.9,67.3 440.4,67.0 440.9,66.9 441.4,67.5 441.9,67.5 442.4,67.3 442.9,67.6 443.4,67.4 443.9,67.2 444.4,67.1 444.9,67.6 445.4,67.7 445.8,67.9 446.3,67.4 446.8,67.8 447.3,67.6 447.8,67.8 448.3,67.7 448.8,67.9 449.3,68.2 449.8,67.7 450.3,68.0 450.8,68.3 451.3,68.4 451.8,68.0 452.3,68.0 452.8,68.6 453.2,68.6 453.7,68.0 454.2,68.7 454.7,68.4 455.2,68.8 455.7,68.6 456.2,68.8 456.7,68.4 457.2,68.8 457.7,68.5 458.2,68.6 458.7,69.0 459.2,69.0 459.7,68.6 460.1,68.6 460.6,68.9 461.1,68.8 461.6,68.6 462.1,68.7 462.6,69.1 463.1,69.2 463.6,68.7 464.1,69.0 464.6,69.2 465.1,68.7 465.6,69.3 466.1,68.8 466.6,69.2 467.1,69.2 467.5,69.0 468.0,69.1 468.5,69.2 469.0,69.1 469.5,69.3 470.0,69.2 470.5,69.2 471.0,68.9 471.5,69.3 472.0,69.3 472.5,69.1 473.0,69.5 473.5,69.5 474.0,69.1 474.5,69.3 474.9,69.1 475.4,69.1 475.9,69.3 476.4,69.1 476.9,69.4 477.4,69.4 477.9,69.1 478.4,69.5 478.9,69.2 479.4,69.6 479.9,69.7 480.4,69.5 480.9,69.5 481.4,69.4 481.9,69.8 482.3,69.3 482.8,69.8 483.3,69.9 483.8,69.7 484.3,69.8 484.8,69.4 485.3,69.9 485.8,69.6 486.3,69.9 486.8,69.4 487.3,69.9 487.8,70.0 488.3,69.4 488.8,69.6 489.2,69.9 489.7,69.5 490.2,70.0 490.7,69.6 491.2,70.0 491.7,69.5 492.2,69.8 492.7,70.1 493.2,69.6 493.7,69.6 494.2,69.8 494.7,69.5 495.2,69.6 495.7,69.6 496.2,70.2 496.6,70.0 497.1,70.2" fill="none" stroke="#34568a" stroke-width="1.25" stroke-linejoin="round"/>
<line x1="409.84" y1="60.07" x2="409.84" y2="61.87" stroke="#34568a" stroke-width="0.75" />
<line x1="416.26" y1="62.99" x2="416.26" y2="64.79" stroke="#34568a" stroke-width="0.75" />
<line x1="422.17" y1="64.74" x2="422.17" y2="66.54" stroke="#34568a" stroke-width="0.75" />
<line x1="429.08" y1="65.16" x2="429.08" y2="66.96" stroke="#34568a" stroke-width="0.75" />
<line x1="435.00" y1="65.24" x2="435.00" y2="67.04" stroke="#34568a" stroke-width="0.75" />
<line x1="441.41" y1="65.93" x2="441.41" y2="67.73" stroke="#34568a" stroke-width="0.75" />
<line x1="447.82" y1="66.19" x2="447.82" y2="67.99" stroke="#34568a" stroke-width="0.75" />
<line x1="453.25" y1="67.04" x2="453.25" y2="68.84" stroke="#34568a" stroke-width="0.75" />
<line x1="460.15" y1="67.03" x2="460.15" y2="68.83" stroke="#34568a" stroke-width="0.75" />
<line x1="466.56" y1="67.56" x2="466.56" y2="69.36" stroke="#34568a" stroke-width="0.75" />
<line x1="473.47" y1="67.90" x2="473.47" y2="69.70" stroke="#34568a" stroke-width="0.75" />
<line x1="480.37" y1="67.89" x2="480.37" y2="69.69" stroke="#34568a" stroke-width="0.75" />
<line x1="485.80" y1="68.01" x2="485.80" y2="69.81" stroke="#34568a" stroke-width="0.75" />
<line x1="494.18" y1="68.22" x2="494.18" y2="70.02" stroke="#34568a" stroke-width="0.75" />
<polyline points="398.5,29.3 399.0,33.7 399.5,38.3 400.0,42.5 400.5,47.2 401.0,50.5 401.5,54.1 402.0,57.5 402.4,60.3 402.9,63.3 403.4,65.2 403.9,67.2 404.4,69.3 404.9,70.5 405.4,72.7 405.9,73.8 406.4,74.7 406.9,75.7 407.4,75.7 407.9,76.6 408.4,76.7 408.9,76.9 409.4,77.5 409.8,77.6 410.3,78.0 410.8,77.8 411.3,78.6 411.8,78.4 412.3,78.8 412.8,79.3 413.3,79.1 413.8,79.3 414.3,79.2 414.8,79.1 415.3,79.2 415.8,79.4 416.3,79.7 416.7,79.8 417.2,80.2 417.7,79.7 418.2,79.9 418.7,80.2 419.2,79.9 419.7,79.9 420.2,80.2 420.7,80.1 421.2,80.3 421.7,80.3 422.2,80.6 422.7,80.7 423.2,80.5 423.7,80.7 424.1,80.5 424.6,81.1 425.1,80.7 425.6,80.7 426.1,80.7 426.6,81.1 427.1,81.3 427.6,81.3 428.1,81.0 428.6,81.0 429.1,80.8 429.6,81.3 430.1,81.3 430.6,81.2 431.1,81.3 431.5,81.7 432.0,81.5 432.5,81.2 433.0,81.7 433.5,81.2 434.0,81.5 434.5,81.5 435.0,81.4 435.5,81.3 436.0,81.8 436.5,81.3 437.0,81.8 437.5,82.1 438.0,81.5 438.4,81.9 438.9,81.8 439.4,82.0 439.9,82.1 440.4,81.7 440.9,81.8 441.4,81.9 441.9,81.7 442.4,82.3 442.9,82.3 443.4,82.3 443.9,81.8 444.4,82.3 444.9,82.2 445.4,82.4 445.8,82.2 446.3,82.1 446.8,82.0 447.3,82.1 447.8,82.0 448.3,82.3 448.8,82.6 449.3,82.6 449.8,82.7 450.3,82.6 450.8,82.3 451.3,82.6 451.8,82.5 452.3,82.6 452.8,82.4 453.2,82.7 453.7,83.0 454.2,82.5 454.7,82.9 455.2,82.4 455.7,82.6 456.2,82.6 456.7,82.9 457.2,83.1 457.7,83.0 458.2,82.7 458.7,83.1 459.2,82.8 459.7,82.7 460.1,83.0 460.6,83.1 461.1,83.1 461.6,83.3 462.1,83.0 462.6,83.3 463.1,83.2 463.6,83.4 464.1,83.1" fill="none" stroke="#a5223b" stroke-width="1.25" stroke-linejoin="round"/>
<line x1="409.84" y1="75.97" x2="409.84" y2="77.77" stroke="#a5223b" stroke-width="0.75" />
<line x1="415.76" y1="77.81" x2="415.76" y2="79.61" stroke="#a5223b" stroke-width="0.75" />
<line x1="423.16" y1="78.86" x2="423.16" y2="80.66" stroke="#a5223b" stroke-width="0.75" />
<line x1="430.56" y1="79.57" x2="430.56" y2="81.37" stroke="#a5223b" stroke-width="0.75" />
<line x1="437.96" y1="79.93" x2="437.96" y2="81.73" stroke="#a5223b" stroke-width="0.75" />
<line x1="443.87" y1="80.19" x2="443.87" y2="81.99" stroke="#a5223b" stroke-width="0.75" />
<line x1="451.77" y1="80.89" x2="451.77" y2="82.69" stroke="#a5223b" stroke-width="0.75" />
<line x1="459.66" y1="81.13" x2="459.66" y2="82.93" stroke="#a5223b" stroke-width="0.75" />
<polyline points="57.5,166.5 58.0,168.6 58.5,170.7 59.0,173.0 59.5,174.9 60.0,176.7 60.5,178.4 61.0,180.4 61.4,181.7 61.9,184.0 62.4,185.0 62.9,186.5 63.4,188.0 63.9,189.9 64.4,190.9 64.9,192.1 65.4,193.4 65.9,194.6 66.4,196.1 66.9,196.7 67.4,197.3 67.9,197.9 68.4,197.9 68.8,198.7 69.3,199.2 69.8,199.6 70.3,200.0 70.8,199.7 71.3,200.6 71.8,200.9 72.3,201.1 72.8,200.7 73.3,201.0 73.8,201.1 74.3,201.2 74.8,202.0 75.3,202.1 75.7,202.3 76.2,202.3 76.7,202.2 77.2,202.2 77.7,202.3 78.2,202.9 78.7,202.7 79.2,202.9 79.7,203.1 80.2,202.9 80.7,203.2 81.2,203.4 81.7,203.8 82.2,203.6 82.7,203.7 83.1,204.0 83.6,204.3 84.1,204.2 84.6,203.9 85.1,204.3 85.6,204.4 86.1,204.7 86.6,204.5 87.1,204.8 87.6,204.8 88.1,204.6 88.6,205.1 89.1,204.7 89.6,205.2 90.1,204.8 90.5,204.8 91.0,205.0 91.5,205.6 92.0,204.9 92.5,205.3 93.0,205.4 93.5,205.6 94.0,205.2 94.5,205.5 95.0,205.4 95.5,205.8 96.0,205.4 96.5,205.9 97.0,205.5 97.4,205.4 97.9,205.8 98.4,205.7 98.9,205.4 99.4,205.4 99.9,205.9 100.4,205.9 100.9,206.0 101.4,205.9 101.9,205.7 102.4,205.7 102.9,205.7 103.4,206.1 103.9,205.6 104.4,206.1 104.8,205.5 105.3,205.7 105.8,205.7 106.3,206.2 106.8,205.8 107.3,206.2 107.8,205.7 108.3,205.9 108.8,206.0 109.3,206.1 109.8,206.1 110.3,206.1 110.8,205.9 111.3,205.9 111.8,205.8 112.2,206.3 112.7,206.1 113.2,206.2 113.7,206.0 114.2,206.3 114.7,206.2 115.2,205.9 115.7,206.1 116.2,206.4 116.7,206.0 117.2,206.0 117.7,206.1 118.2,206.4 118.7,206.6 119.1,206.1 119.6,206.2 120.1,206.3 120.6,206.5 121.1,206.3 121.6,206.4 122.1,206.4 122.6,207.0 123.1,206.9 123.6,206.6 124.1,207.7 124.6,207.6 125.1,208.0 125.6,208.3 126.1,208.2 126.5,208.0 127.0,207.9 127.5,208.2 128.0,207.8 128.5,207.9 129.0,208.1 129.5,207.8 130.0,208.1 130.5,208.4 131.0,208.3 131.5,208.2 132.0,208.3 132.5,208.2 133.0,208.0 133.5,208.3 133.9,208.4 134.4,208.5 134.9,208.2 135.4,208.3 135.9,208.4 136.4,208.2 136.9,208.1 137.4,208.4 137.9,208.5 138.4,208.5 138.9,208.4 139.4,208.5 139.9,208.4 140.4,208.3 140.9,208.2 141.3,208.4 141.8,208.0 142.3,208.2 142.8,208.5 143.3,208.5 143.8,208.4 144.3,208.1 144.8,208.3 145.3,208.3 145.8,208.4 146.3,208.3 146.8,208.4 147.3,208.6 147.8,208.4 148.2,208.5 148.7,208.2 149.2,208.3 149.7,208.7 150.2,208.0 150.7,208.4 151.2,208.1 151.7,208.5 152.2,208.7 152.7,208.4 153.2,208.1 153.7,208.4 154.2,208.5 154.7,208.4 155.2,208.5 155.6,208.6 156.1,208.4" fill="none" stroke="#34568a" stroke-width="1.25" stroke-linejoin="round"/>
<line x1="68.84" y1="197.08" x2="68.84" y2="198.88" stroke="#34568a" stroke-width="0.75" />
<line x1="75.26" y1="200.49" x2="75.26" y2="202.29" stroke="#34568a" stroke-width="0.75" />
<line x1="82.65" y1="202.12" x2="82.65" y2="203.92" stroke="#34568a" stroke-width="0.75" />
<line x1="91.04" y1="203.37" x2="91.04" y2="205.17" stroke="#34568a" stroke-width="0.75" />
<line x1="98.93" y1="203.83" x2="98.93" y2="205.63" stroke="#34568a" stroke-width="0.75" />
<line x1="106.33" y1="204.57" x2="106.33" y2="206.37" stroke="#34568a" stroke-width="0.75" />
<line x1="113.23" y1="204.62" x2="113.23" y2="206.42" stroke="#34568a" stroke-width="0.75" />
<line x1="119.15" y1="204.50" x2="119.15" y2="206.30" stroke="#34568a" stroke-width="0.75" />
<line x1="125.07" y1="206.36" x2="125.07" y2="208.16" stroke="#34568a" stroke-width="0.75" />
<line x1="133.45" y1="206.69" x2="133.45" y2="208.49" stroke="#34568a" stroke-width="0.75" />
<line x1="139.86" y1="206.81" x2="139.86" y2="208.61" stroke="#34568a" stroke-width="0.75" />
<line x1="147.26" y1="207.02" x2="147.26" y2="208.82" stroke="#34568a" stroke-width="0.75" />
<line x1="153.18" y1="206.48" x2="153.18" y2="208.28" stroke="#34568a" stroke-width="0.75" />
<polyline points="57.5,171.3 58.0,173.3 58.5,175.3 59.0,177.1 59.5,179.4 60.0,181.0 60.5,183.6 61.0,186.0 61.4,189.6 61.9,193.1 62.4,197.7 62.9,200.8 63.4,203.3 63.9,205.2 64.4,206.9 64.9,208.0 65.4,209.5 65.9,210.5 66.4,211.4 66.9,211.6 67.4,211.8 67.9,212.0 68.4,212.6 68.8,213.0 69.3,212.6 69.8,213.2 70.3,213.1 70.8,213.1 71.3,213.2 71.8,213.8 72.3,213.9 72.8,213.9 73.3,213.9 73.8,214.1 74.3,213.9 74.8,214.5 75.3,214.2 75.7,214.5 76.2,214.7 76.7,214.6 77.2,214.5 77.7,214.8 78.2,214.6 78.7,215.2 79.2,215.0 79.7,215.5 80.2,215.2 80.7,215.3 81.2,215.4 81.7,215.6 82.2,215.5 82.7,215.5 83.1,216.1 83.6,215.9 84.1,216.0 84.6,216.2 85.1,216.3 85.6,216.5 86.1,216.6 86.6,216.5 87.1,217.0 87.6,217.0 88.1,216.5 88.6,217.1 89.1,217.3 89.6,217.3 90.1,217.4 90.5,217.3 91.0,217.0 91.5,217.0 92.0,217.8 92.5,217.6 93.0,217.4 93.5,217.4 94.0,217.5 94.5,217.6 95.0,218.1 95.5,217.7 96.0,218.3 96.5,218.3 97.0,217.9 97.4,218.5 97.9,218.3 98.4,218.5 98.9,218.5 99.4,218.7 99.9,218.7 100.4,218.8 100.9,218.4 101.4,218.8 101.9,218.9 102.4,218.8 102.9,219.1 103.4,219.0 103.9,218.8 104.4,218.9 104.8,218.9 105.3,219.2 105.8,218.9 106.3,219.3 106.8,219.1 107.3,219.4 107.8,219.5 108.3,219.5 108.8,219.2 109.3,219.9 109.8,219.6 110.3,219.8 110.8,219.9 111.3,220.1 111.8,219.8 112.2,219.8 112.7,220.3 113.2,219.7 113.7,220.1 114.2,220.1 114.7,219.8 115.2,220.2 115.7,220.3 116.2,220.5 116.7,220.5 117.2,220.2 117.7,220.2 118.2,220.5 118.7,220.0 119.1,220.5 119.6,220.4 120.1,220.2 120.6,220.6 121.1,220.2 121.6,220.3 122.1,220.4 122.6,220.6 123.1,220.3 123.6,220.3 124.1,220.4 124.6,220.6 125.1,220.3 125.6,220.6 126.1,220.4 126.5,220.4 127.0,220.3 127.5,220.4 128.0,220.8 128.5,220.6 129.0,220.3 129.5,220.3 130.0,220.3 130.5,220.5 131.0,220.6 131.5,220.7 132.0,220.2 132.5,220.7 133.0,220.8 133.5,220.5 133.9,220.2 134.4,220.4 134.9,220.2 135.4,220.3 135.9,220.8 136.4,220.6 136.9,220.7 137.4,220.8 137.9,220.6 138.4,220.6 138.9,220.7 139.4,220.7 139.9,220.6 140.4,220.7 140.9,220.4 141.3,220.7 141.8,220.6 142.3,220.8 142.8,220.3 143.3,220.4 143.8,220.3 144.3,220.9 144.8,220.7 145.3,220.5 145.8,220.8 146.3,220.8 146.8,220.7 147.3,220.5 147.8,220.5 148.2,220.6 148.7,220.5 149.2,220.6 149.7,220.7 150.2,220.9 150.7,220.3 151.2,220.7 151.7,220.3 152.2,220.9 152.7,220.7 153.2,221.0 153.7,220.6 154.2,220.3 154.7,220.6 155.2,220.7 155.6,221.0 156.1,221.0 156.6,220.7 157.1,220.6 157.6,220.8 158.1,220.5 158.6,220.5 159.1,220.4 159.6,220.4 160.1,220.8 160.6,220.5 161.1,221.1 161.6,220.4" fill="none" stroke="#a5223b" stroke-width="1.25" stroke-linejoin="round"/>
<line x1="68.84" y1="211.36" x2="68.84" y2="213.16" stroke="#a5223b" stroke-width="0.75" />
<line x1="75.75" y1="212.89" x2="75.75" y2="214.69" stroke="#a5223b" stroke-width="0.75" />
<line x1="83.64" y1="214.27" x2="83.64" y2="216.07" stroke="#a5223b" stroke-width="0.75" />
<line x1="89.56" y1="215.67" x2="89.56" y2="217.47" stroke="#a5223b" stroke-width="0.75" />
<line x1="94.98" y1="216.46" x2="94.98" y2="218.26" stroke="#a5223b" stroke-width="0.75" />
<line x1="101.39" y1="217.23" x2="101.39" y2="219.03" stroke="#a5223b" stroke-width="0.75" />
<line x1="108.30" y1="217.95" x2="108.30" y2="219.75" stroke="#a5223b" stroke-width="0.75" />
<line x1="116.19" y1="218.88" x2="116.19" y2="220.68" stroke="#a5223b" stroke-width="0.75" />
<line x1="122.60" y1="218.96" x2="122.60" y2="220.76" stroke="#a5223b" stroke-width="0.75" />
<line x1="128.52" y1="218.96" x2="128.52" y2="220.76" stroke="#a5223b" stroke-width="0.75" />
<line x1="136.41" y1="219.02" x2="136.41" y2="220.82" stroke="#a5223b" stroke-width="0.75" />
<line x1="143.81" y1="218.67" x2="143.81" y2="220.47" stroke="#a5223b" stroke-width="0.75" />
<line x1="151.70" y1="218.73" x2="151.70" y2="220.53" stroke="#a5223b" stroke-width="0.75" />
<line x1="157.13" y1="219.03" x2="157.13" y2="220.83" stroke="#a5223b" stroke-width="0.75" />
<polyline points="225.5,166.5 226.0,168.9 226.5,171.3 227.0,174.0 227.5,175.9 228.0,178.1 228.5,180.7 229.0,182.5 229.4,185.0 229.9,186.6 230.4,188.2 230.9,190.0 231.4,190.9 231.9,191.9 232.4,192.6 232.9,192.9 233.4,193.9 233.9,194.6 234.4,194.9 234.9,195.7 235.4,195.6 235.9,196.5 236.4,196.6 236.8,196.4 237.3,197.1 237.8,197.4 238.3,197.1 238.8,197.5 239.3,198.0 239.8,197.8 240.3,198.4 240.8,198.3 241.3,198.2 241.8,198.5 242.3,198.8 242.8,199.0 243.3,198.8 243.7,199.4 244.2,199.2 244.7,199.5 245.2,199.6 245.7,199.6 246.2,199.7 246.7,200.1 247.2,200.3 247.7,200.3 248.2,200.3 248.7,200.2 249.2,200.7 249.7,200.6 250.2,200.8 250.7,200.6 251.1,200.9 251.6,201.2 252.1,201.2 252.6,201.1 253.1,201.0 253.6,201.2 254.1,201.6 254.6,201.6 255.1,201.6 255.6,201.9 256.1,201.9 256.6,201.6 257.1,201.5 257.6,201.8 258.1,202.0 258.5,202.2 259.0,202.4 259.5,202.6 260.0,202.1 260.5,202.7 261.0,202.9 261.5,202.7 262.0,202.6 262.5,203.1 263.0,203.2 263.5,203.2 264.0,203.4 264.5,203.1 265.0,203.1 265.4,203.5 265.9,203.7 266.4,203.4 266.9,203.9 267.4,204.1 267.9,203.7 268.4,204.1 268.9,204.0 269.4,204.0 269.9,204.1 270.4,204.5 270.9,204.6 271.4,204.5 271.9,204.3 272.4,204.9 272.8,204.9 273.3,204.6 273.8,204.9 274.3,205.2 274.8,205.3 275.3,205.1 275.8,205.1 276.3,205.0 276.8,205.1 277.3,205.1 277.8,205.5 278.3,205.3 278.8,205.5 279.3,205.5 279.8,205.6 280.2,205.4 280.7,205.3 281.2,206.0 281.7,205.6 282.2,205.5 282.7,205.9 283.2,205.6 283.7,205.9 284.2,205.8 284.7,206.0 285.2,205.6 285.7,205.7 286.2,206.4 286.7,206.3 287.1,206.1 287.6,206.2 288.1,206.0 288.6,206.4 289.1,206.1 289.6,206.5 290.1,206.4 290.6,206.5 291.1,206.1 291.6,205.9 292.1,206.0 292.6,206.0 293.1,206.0 293.6,206.0 294.1,206.3 294.5,206.6 295.0,206.3 295.5,206.6 296.0,206.6 296.5,206.0 297.0,206.4 297.5,206.3 298.0,206.1 298.5,206.7 299.0,206.2 299.5,206.5 300.0,206.7 300.5,206.5 301.0,206.3 301.5,206.4 301.9,206.2 302.4,206.7 302.9,206.7 303.4,206.2 303.9,206.1 304.4,206.2 304.9,206.3 305.4,206.7 305.9,206.7 306.4,206.1 306.9,206.6 307.4,206.6 307.9,206.5 308.4,206.8 308.9,206.1 309.3,206.2 309.8,206.6 310.3,206.8 310.8,206.6 311.3,206.3 311.8,206.5 312.3,206.7 312.8,206.2 313.3,206.4 313.8,206.3 314.3,206.5 314.8,206.3 315.3,206.3 315.8,206.2 316.2,206.6 316.7,206.2 317.2,206.7 317.7,206.3 318.2,206.2 318.7,206.8 319.2,206.3 319.7,206.8 320.2,206.8 320.7,206.3 321.2,206.5 321.7,206.3 322.2,206.8 322.7,206.8 323.2,206.6 323.6,206.5 324.1,206.4 324.6,206.8 325.1,206.5 325.6,206.7 326.1,206.3 326.6,206.4 327.1,206.3 327.6,206.7 328.1,206.3" fill="none" stroke="#34568a" stroke-width="1.25" stroke-linejoin="round"/>
<line x1="236.84" y1="194.77" x2="236.84" y2="196.57" stroke="#34568a" stroke-width="0.75" />
<line x1="242.27" y1="197.20" x2="242.27" y2="199.00" stroke="#34568a" stroke-width="0.75" />
<line x1="248.68" y1="198.56" x2="248.68" y2="200.36" stroke="#34568a" stroke-width="0.75" />
<line x1="254.11" y1="200.01" x2="254.11" y2="201.81" stroke="#34568a" stroke-width="0.75" />
<line x1="260.52" y1="201.13" x2="260.52" y2="202.93" stroke="#34568a" stroke-width="0.75" />
<line x1="268.41" y1="202.46" x2="268.41" y2="204.26" stroke="#34568a" stroke-width="0.75" />
<line x1="275.81" y1="203.53" x2="275.81" y2="205.33" stroke="#34568a" stroke-width="0.75" />
<line x1="282.71" y1="204.30" x2="282.71" y2="206.10" stroke="#34568a" stroke-width="0.75" />
<line x1="290.60" y1="204.85" x2="290.60" y2="206.65" stroke="#34568a" stroke-width="0.75" />
<line x1="298.99" y1="204.59" x2="298.99" y2="206.39" stroke="#34568a" stroke-width="0.75" />
<line x1="305.89" y1="205.11" x2="305.89" y2="206.91" stroke="#34568a" stroke-width="0.75" />
<line x1="313.78" y1="204.71" x2="313.78" y2="206.51" stroke="#34568a" stroke-width="0.75" />
<line x1="319.21" y1="204.72" x2="319.21" y2="206.52" stroke="#34568a" stroke-width="0.75" />
<line x1="327.59" y1="205.13" x2="327.59" y2="206.93" stroke="#34568a" stroke-width="0.75" />
<polyline points="225.5,169.9 226.0,174.7 226.5,179.8 227.0,185.0 227.5,189.2 228.0,193.3 228.5,196.2 229.0,198.9 229.4,201.7 229.9,203.5 230.4,205.2 230.9,207.0 231.4,208.3 231.9,210.0 232.4,210.6 232.9,212.3 233.4,212.6 233.9,213.9 234.4,214.4 234.9,214.6 235.4,215.3 235.9,215.6 236.4,216.0 236.8,216.4 237.3,217.3 237.8,217.7 238.3,217.9 238.8,217.6 239.3,218.0 239.8,218.6 240.3,218.1 240.8,218.7 241.3,218.6 241.8,219.2 242.3,218.6 242.8,219.3 243.3,219.0 243.7,218.9 244.2,219.6 244.7,219.4 245.2,219.2 245.7,219.5 246.2,219.8 246.7,219.4 247.2,219.7 247.7,219.4 248.2,219.4 248.7,219.9 249.2,219.5 249.7,219.4 250.2,219.4 250.7,219.8 251.1,219.7 251.6,219.6 252.1,219.6 252.6,219.9 253.1,219.9 253.6,220.0 254.1,219.9 254.6,219.6 255.1,219.5 255.6,220.0 256.1,219.8 256.6,219.5 257.1,220.1 257.6,219.7 258.1,220.1 258.5,220.1 259.0,219.9 259.5,219.5 260.0,220.2 260.5,219.9 261.0,220.1 261.5,219.7 262.0,219.7 262.5,220.1 263.0,219.8 263.5,219.7 264.0,220.0 264.5,219.6 265.0,219.9 265.4,219.9 265.9,219.9 266.4,219.6 266.9,220.1 267.4,220.1 267.9,220.2 268.4,219.8 268.9,220.1 269.4,219.8 269.9,220.1 270.4,220.2 270.9,220.2 271.4,219.9 271.9,219.9 272.4,219.9 272.8,220.0 273.3,219.6 273.8,220.3 274.3,219.7 274.8,219.7 275.3,219.7 275.8,220.2 276.3,219.6 276.8,219.7 277.3,220.1 277.8,219.8 278.3,219.6 278.8,220.0 279.3,220.0 279.8,220.0 280.2,220.1 280.7,219.7 281.2,220.3 281.7,219.7 282.2,219.8 282.7,220.0 283.2,220.0 283.7,219.9 284.2,219.8 284.7,220.0 285.2,219.8 285.7,220.2 286.2,220.4 286.7,219.9 287.1,220.2 287.6,220.3 288.1,219.9 288.6,220.4 289.1,220.1 289.6,220.2 290.1,220.5 290.6,220.3 291.1,220.2 291.6,220.6 292.1,222.0 292.6,223.2 293.1,223.2 293.6,223.2 294.1,223.3 294.5,223.7 295.0,223.6 295.5,223.6 296.0,223.6 296.5,223.6 297.0,223.0 297.5,223.7 298.0,223.7 298.5,223.2 299.0,223.3 299.5,223.4 300.0,223.3 300.5,223.4 301.0,223.1 301.5,223.3 301.9,223.4 302.4,223.0 302.9,223.1 303.4,223.7 303.9,223.5 304.4,223.4 304.9,223.6 305.4,223.6 305.9,223.6 306.4,223.0 306.9,223.5 307.4,223.2 307.9,223.5 308.4,223.2 308.9,223.4 309.3,223.7 309.8,223.4 310.3,223.2 310.8,223.4 311.3,223.3 311.8,223.7 312.3,223.2 312.8,223.5 313.3,223.1 313.8,223.4 314.3,223.7 314.8,223.4 315.3,223.2 315.8,223.3 316.2,223.4 316.7,223.1 317.2,223.1" fill="none" stroke="#a5223b" stroke-width="1.25" stroke-linejoin="round"/>
<line x1="236.84" y1="214.78" x2="236.84" y2="216.58" stroke="#a5223b" stroke-width="0.75" />
<line x1="243.26" y1="217.44" x2="243.26" y2="219.24" stroke="#a5223b" stroke-width="0.75" />
<line x1="248.68" y1="218.26" x2="248.68" y2="220.06" stroke="#a5223b" stroke-width="0.75" />
<line x1="256.08" y1="218.17" x2="256.08" y2="219.97" stroke="#a5223b" stroke-width="0.75" />
<line x1="263.48" y1="218.06" x2="263.48" y2="219.86" stroke="#a5223b" stroke-width="0.75" />
<line x1="269.89" y1="218.49" x2="269.89" y2="220.29" stroke="#a5223b" stroke-width="0.75" />
<line x1="275.31" y1="218.07" x2="275.31" y2="219.87" stroke="#a5223b" stroke-width="0.75" />
<line x1="281.23" y1="218.67" x2="281.23" y2="220.47" stroke="#a5223b" stroke-width="0.75" />
<line x1="288.63" y1="218.82" x2="288.63" y2="220.62" stroke="#a5223b" stroke-width="0.75" />
<line x1="297.01" y1="221.44" x2="297.01" y2="223.24" stroke="#a5223b" stroke-width="0.75" />
<line x1="303.92" y1="221.95" x2="303.92" y2="223.75" stroke="#a5223b" stroke-width="0.75" />
<line x1="312.30" y1="221.61" x2="312.30" y2="223.41" stroke="#a5223b" stroke-width="0.75" />
<polyline points="398.5,166.5 399.0,168.4 399.5,170.2 400.0,171.9 400.5,173.9 401.0,175.8 401.5,177.6 402.0,179.4 402.4,181.2 402.9,183.6 403.4,185.8 403.9,187.6 404.4,189.3 404.9,190.8 405.4,191.6 405.9,192.8 406.4,193.4 406.9,194.1 407.4,194.8 407.9,195.2 408.4,195.6 408.9,195.9 409.4,196.3 409.8,196.9 410.3,197.4 410.8,197.3 411.3,197.9 411.8,198.6 412.3,198.5 412.8,199.0 413.3,199.3 413.8,199.4 414.3,200.2 414.8,200.0 415.3,200.5 415.8,200.3 416.3,200.5 416.7,200.9 417.2,200.8 417.7,201.2 418.2,201.4 418.7,201.7 419.2,201.4 419.7,201.6 420.2,202.2 420.7,202.2 421.2,201.9 421.7,202.1 422.2,202.3 422.7,202.6 423.2,202.6 423.7,202.9 424.1,203.0 424.6,203.0 425.1,203.1 425.6,203.2 426.1,203.1 426.6,203.4 427.1,203.4 427.6,203.6 428.1,203.1 428.6,203.7 429.1,203.2 429.6,203.8 430.1,203.7 430.6,203.7 431.1,204.1 431.5,203.8 432.0,204.1 432.5,204.2 433.0,204.1 433.5,204.0 434.0,204.1 434.5,204.2 435.0,204.4 435.5,204.2 436.0,204.3 436.5,204.5 437.0,204.5 437.5,204.5 438.0,204.9 438.4,204.7 438.9,204.7 439.4,204.6 439.9,204.8 440.4,204.7 440.9,205.1 441.4,205.1 441.9,204.8 442.4,205.5 442.9,205.1 443.4,205.5 443.9,205.6 444.4,205.7 444.9,205.2 445.4,205.5 445.8,205.8 446.3,205.3 446.8,205.7 447.3,205.7 447.8,206.1 448.3,206.0 448.8,205.9 449.3,206.3 449.8,206.0 450.3,206.0 450.8,206.2 451.3,206.0 451.8,206.2 452.3,206.1 452.8,206.5 453.2,206.4 453.7,206.3 454.2,206.1 454.7,206.3 455.2,206.4 455.7,206.5 456.2,206.6 456.7,206.8 457.2,206.9 457.7,206.6 458.2,206.7 458.7,207.0 459.2,206.6 459.7,206.7 460.1,207.0 460.6,206.5 461.1,206.7 461.6,207.2 462.1,207.1 462.6,206.9 463.1,206.6 463.6,207.2 464.1,207.1 464.6,207.3 465.1,207.3 465.6,207.0 466.1,206.8 466.6,206.9 467.1,207.1 467.5,207.1 468.0,206.9 468.5,206.9 469.0,207.2 469.5,207.2 470.0,207.1 470.5,207.6 471.0,207.3 471.5,206.9 472.0,207.2 472.5,207.1 473.0,207.4 473.5,207.0 474.0,207.2 474.5,207.6 474.9,207.4 475.4,207.5 475.9,207.2 476.4,207.4 476.9,207.5 477.4,207.3 477.9,207.6 478.4,207.5 478.9,207.8 479.4,207.6 479.9,207.5 480.4,207.3 480.9,207.7 481.4,207.3 481.9,207.3 482.3,207.4 482.8,207.6 483.3,207.8 483.8,207.7 484.3,207.9 484.8,207.3 485.3,207.3 485.8,207.6 486.3,207.8 486.8,207.6 487.3,207.5 487.8,207.6 488.3,207.5 488.8,208.0 489.2,207.8 489.7,207.7 490.2,207.8 490.7,207.7 491.2,207.5 491.7,208.1 492.2,207.9 492.7,208.2 493.2,207.8 493.7,207.7 494.2,207.6 494.7,208.2 495.2,208.2 495.7,207.8 496.2,208.3 496.6,208.2 497.1,207.9 497.6,208.1 498.1,208.4 498.6,208.0 499.1,208.4 499.6,207.9 500.1,208.0" fill="none" stroke="#34568a" stroke-width="1.25" stroke-linejoin="round"/>
<line x1="409.84" y1="195.33" x2="409.84" y2="197.13" stroke="#34568a" stroke-width="0.75" />
<line x1="416.26" y1="198.87" x2="416.26" y2="200.67" stroke="#34568a" stroke-width="0.75" />
<line x1="424.15" y1="201.38" x2="424.15" y2="203.18" stroke="#34568a" stroke-width="0.75" />
<line x1="431.05" y1="202.52" x2="431.05" y2="204.32" stroke="#34568a" stroke-width="0.75" />
<line x1="437.96" y1="203.25" x2="437.96" y2="205.05" stroke="#34568a" stroke-width="0.75" />
<line x1="445.85" y1="204.25" x2="445.85" y2="206.05" stroke="#34568a" stroke-width="0.75" />
<line x1="451.27" y1="204.42" x2="451.27" y2="206.22" stroke="#34568a" stroke-width="0.75" />
<line x1="457.68" y1="204.99" x2="457.68" y2="206.79" stroke="#34568a" stroke-width="0.75" />
<line x1="464.10" y1="205.48" x2="464.10" y2="207.28" stroke="#34568a" stroke-width="0.75" />
<line x1="471.99" y1="205.60" x2="471.99" y2="207.40" stroke="#34568a" stroke-width="0.75" />
<line x1="479.88" y1="205.85" x2="479.88" y2="207.65" stroke="#34568a" stroke-width="0.75" />
<line x1="485.30" y1="205.73" x2="485.30" y2="207.53" stroke="#34568a" stroke-width="0.75" />
<line x1="493.19" y1="206.24" x2="493.19" y2="208.04" stroke="#34568a" stroke-width="0.75" />
<polyline points="398.5,171.3 399.0,174.3 399.5,177.4 400.0,180.6 400.5,183.3 401.0,186.3 401.5,189.6 402.0,192.1 402.4,195.1 402.9,197.5 403.4,200.3 403.9,203.1 404.4,205.4 404.9,208.0 405.4,208.9 405.9,210.2 406.4,210.9 406.9,212.1 407.4,212.8 407.9,213.5 408.4,213.8 408.9,214.2 409.4,214.9 409.8,214.8 410.3,214.8 410.8,215.1 411.3,215.2 411.8,215.2 412.3,215.8 412.8,215.7 413.3,215.7 413.8,216.2 414.3,215.8 414.8,216.0 415.3,216.5 415.8,216.1 416.3,216.7 416.7,216.7 417.2,216.4 417.7,216.6 418.2,216.9 418.7,216.8 419.2,217.3 419.7,216.8 420.2,217.4 420.7,217.2 421.2,217.1 421.7,217.3 422.2,217.2 422.7,217.3 423.2,217.8 423.7,217.7 424.1,217.6 424.6,217.6 425.1,217.9 425.6,217.7 426.1,218.2 426.6,217.7 427.1,218.1 427.6,218.1 428.1,218.0 428.6,218.4 429.1,218.2 429.6,218.4 430.1,218.3 430.6,218.4 431.1,218.2 431.5,218.3 432.0,218.9 432.5,218.6 433.0,218.9 433.5,218.6 434.0,218.9 434.5,218.9 435.0,219.0 435.5,219.0 436.0,218.9 436.5,219.1 437.0,219.1 437.5,219.6 438.0,219.4 438.4,219.5 438.9,220.0 439.4,220.0 439.9,220.2 440.4,220.3 440.9,219.9 441.4,220.1 441.9,220.0 442.4,220.6 442.9,220.4 443.4,220.5 443.9,220.7 444.4,220.8 444.9,220.5 445.4,220.9 445.8,220.6 446.3,220.8 446.8,220.4 447.3,220.4 447.8,221.0 448.3,220.8 448.8,220.8 449.3,220.3 449.8,220.3 450.3,220.5 450.8,220.5 451.3,220.6 451.8,220.3 452.3,220.5 452.8,220.8 453.2,220.4 453.7,220.9 454.2,220.7 454.7,220.8 455.2,220.5 455.7,220.6 456.2,220.6 456.7,220.3 457.2,220.9 457.7,220.9 458.2,220.5 458.7,220.3 459.2,220.9 459.7,220.7 460.1,220.3 460.6,220.5 461.1,220.4 461.6,220.9 462.1,220.5 462.6,221.0 463.1,220.8 463.6,220.8 464.1,220.6 464.6,220.8 465.1,220.9 465.6,220.5 466.1,220.4 466.6,221.0 467.1,220.6 467.5,221.0 468.0,220.8 468.5,220.8 469.0,220.8 469.5,220.6 470.0,220.4 470.5,220.8 471.0,220.6 471.5,220.7 472.0,221.0 472.5,220.4 473.0,220.8 473.5,220.3 474.0,220.8 474.5,220.9 474.9,220.5" fill="none" stroke="#a5223b" stroke-width="1.25" stroke-linejoin="round"/>
<line x1="409.84" y1="213.17" x2="409.84" y2="214.97" stroke="#a5223b" stroke-width="0.75" />
<line x1="415.76" y1="214.50" x2="415.76" y2="216.30" stroke="#a5223b" stroke-width="0.75" />
<line x1="422.17" y1="215.55" x2="422.17" y2="217.35" stroke="#a5223b" stroke-width="0.75" />
<line x1="429.57" y1="216.85" x2="429.57" y2="218.65" stroke="#a5223b" stroke-width="0.75" />
<line x1="436.48" y1="217.51" x2="436.48" y2="219.31" stroke="#a5223b" stroke-width="0.75" />
<line x1="442.39" y1="218.95" x2="442.39" y2="220.75" stroke="#a5223b" stroke-width="0.75" />
<line x1="449.79" y1="218.74" x2="449.79" y2="220.54" stroke="#a5223b" stroke-width="0.75" />
<line x1="455.71" y1="219.02" x2="455.71" y2="220.82" stroke="#a5223b" stroke-width="0.75" />
<line x1="463.11" y1="219.24" x2="463.11" y2="221.04" stroke="#a5223b" stroke-width="0.75" />
<line x1="468.53" y1="219.23" x2="468.53" y2="221.03" stroke="#a5223b" stroke-width="0.75" />
<text x="64.50" y="26.50" font-size="5" fill="#231f20">X<tspan font-size="3.4" dy="-2.2">2</tspan><tspan dy="2.2">=26.51, P&lt;0.0001</tspan></text>
<text x="230.50" y="26.50" font-size="5" fill="#231f20">X<tspan font-size="3.4" dy="-2.2">2</tspan><tspan dy="2.2">=36.88, P&lt;0.0001</tspan></text>
<text x="404.00" y="26.50" font-size="5" fill="#231f20">X<tspan font-size="3.4" dy="-2.2">2</tspan><tspan dy="2.2">=49.4, P&lt;0.0001</tspan></text>
<text x="64.50" y="168.50" font-size="5" fill="#231f20">X<tspan font-size="3.4" dy="-2.2">2</tspan><tspan dy="2.2">=28.95, P&lt;0.0001</tspan></text>
<text x="230.50" y="168.50" font-size="5" fill="#231f20">X<tspan font-size="3.4" dy="-2.2">2</tspan><tspan dy="2.2">=44.3, P&lt;0.0001</tspan></text>
<text x="404.00" y="168.50" font-size="5" fill="#231f20">X<tspan font-size="3.4" dy="-2.2">2</tspan><tspan dy="2.2">=33.7, P&lt;0.0001</tspan></text>
<text x="114.60" y="66.80" font-size="5.4" fill="#231f20" text-anchor="start" textLength="39.90" lengthAdjust="spacingAndGlyphs" >CALCRL &lt;median</text>
<text x="114.60" y="77.30" font-size="5.4" fill="#231f20" text-anchor="start" textLength="39.90" lengthAdjust="spacingAndGlyphs" >CALCRL &gt;median</text>
<text x="158.20" y="73.50" font-size="5.4" fill="#231f20" text-anchor="start" textLength="13.60" lengthAdjust="spacingAndGlyphs" >31.2%</text>
<text x="158.20" y="83.80" font-size="5.4" fill="#231f20" text-anchor="start" textLength="13.60" lengthAdjust="spacingAndGlyphs" >16.5%</text>
<text x="290.00" y="67.80" font-size="5.4" fill="#231f20" text-anchor="start" textLength="33.40" lengthAdjust="spacingAndGlyphs" >LSP1 &lt;median</text>
<text x="290.00" y="78.80" font-size="5.4" fill="#231f20" text-anchor="start" textLength="33.40" lengthAdjust="spacingAndGlyphs" >LSP1 &gt;median</text>
<text x="326.60" y="72.70" font-size="5.4" fill="#231f20" text-anchor="start" textLength="13.20" lengthAdjust="spacingAndGlyphs" >33.0%</text>
<text x="318.60" y="85.80" font-size="5.4" fill="#231f20" text-anchor="start" textLength="14.00" lengthAdjust="spacingAndGlyphs" >14.0%</text>
<text x="460.20" y="65.10" font-size="5.4" fill="#231f20" text-anchor="start" textLength="37.40" lengthAdjust="spacingAndGlyphs" font-family="Liberation Serif, serif">CD109 &lt;median</text>
<text x="429.00" y="79.40" font-size="5.4" fill="#231f20" text-anchor="start" textLength="37.30" lengthAdjust="spacingAndGlyphs" font-family="Liberation Serif, serif">CD109 &gt;median</text>
<text x="496.50" y="76.00" font-size="5.4" fill="#231f20" text-anchor="start" textLength="13.90" lengthAdjust="spacingAndGlyphs" font-family="Liberation Serif, serif">34.2%</text>
<text x="465.40" y="85.00" font-size="5.4" fill="#231f20" text-anchor="start" textLength="14.40" lengthAdjust="spacingAndGlyphs" font-family="Liberation Serif, serif">14.8%</text>
<text x="114.60" y="216.50" font-size="5.4" fill="#231f20" text-anchor="start" textLength="39.90" lengthAdjust="spacingAndGlyphs" >CALCRL &lt;median</text>
<text x="114.60" y="229.20" font-size="5.4" fill="#231f20" text-anchor="start" textLength="39.90" lengthAdjust="spacingAndGlyphs" >CALCRL &gt;median</text>
<text x="158.90" y="210.30" font-size="5.4" fill="#231f20" text-anchor="start" textLength="13.70" lengthAdjust="spacingAndGlyphs" >39.3%</text>
<text x="162.50" y="223.10" font-size="5.4" fill="#231f20" text-anchor="start" textLength="14.00" lengthAdjust="spacingAndGlyphs" >21.4%</text>
<text x="292.50" y="214.50" font-size="5.4" fill="#231f20" text-anchor="start" textLength="32.40" lengthAdjust="spacingAndGlyphs" >LSP1 &lt;median</text>
<text x="281.20" y="230.30" font-size="5.4" fill="#231f20" text-anchor="start" textLength="32.90" lengthAdjust="spacingAndGlyphs" >LSP1 &gt;median</text>
<text x="328.90" y="208.80" font-size="5.4" fill="#231f20" text-anchor="start" textLength="14.90" lengthAdjust="spacingAndGlyphs" >41.9%</text>
<text x="316.60" y="225.20" font-size="5.4" fill="#231f20" text-anchor="start" textLength="14.00" lengthAdjust="spacingAndGlyphs" >17.6%</text>
<text x="458.40" y="215.50" font-size="5.4" fill="#231f20" text-anchor="start" textLength="37.80" lengthAdjust="spacingAndGlyphs" font-family="Liberation Serif, serif">CD109 &lt;median</text>
<text x="432.00" y="228.00" font-size="5.4" fill="#231f20" text-anchor="start" textLength="37.40" lengthAdjust="spacingAndGlyphs" font-family="Liberation Serif, serif">CD109 &gt;median</text>
<text x="496.50" y="206.70" font-size="5.4" fill="#231f20" text-anchor="start" textLength="14.40" lengthAdjust="spacingAndGlyphs" font-family="Liberation Serif, serif">39.7%</text>
<text x="476.60" y="222.40" font-size="5.4" fill="#231f20" text-anchor="start" textLength="14.40" lengthAdjust="spacingAndGlyphs" font-family="Liberation Serif, serif">22.1%</text>
<text x="7.00" y="127.30" font-size="4.6" fill="#231f20" text-anchor="start" textLength="34.00" lengthAdjust="spacingAndGlyphs" >Number at risk</text>
<line x1="7.00" y1="128.10" x2="41.00" y2="128.10" stroke="#231f20" stroke-width="0.4" />
<text x="49.90" y="136.60" font-size="5.6" fill="#231f20" text-anchor="end" textLength="39.00" lengthAdjust="spacingAndGlyphs" >CALCRL&lt;median:</text>
<text x="57.50" y="136.70" font-size="5.7" fill="#231f20" text-anchor="middle" textLength="8.40" lengthAdjust="spacingAndGlyphs" >297</text>
<text x="68.46" y="136.70" font-size="5.7" fill="#231f20" text-anchor="middle" textLength="8.40" lengthAdjust="spacingAndGlyphs" >128</text>
<text x="79.42" y="136.70" font-size="5.7" fill="#231f20" text-anchor="middle" textLength="8.40" lengthAdjust="spacingAndGlyphs" >103</text>
<text x="90.38" y="136.70" font-size="5.7" fill="#231f20" text-anchor="middle" textLength="5.60" lengthAdjust="spacingAndGlyphs" >83</text>
<text x="101.34" y="136.70" font-size="5.7" fill="#231f20" text-anchor="middle" textLength="5.60" lengthAdjust="spacingAndGlyphs" >59</text>
<text x="112.30" y="136.70" font-size="5.7" fill="#231f20" text-anchor="middle" textLength="5.60" lengthAdjust="spacingAndGlyphs" >48</text>
<text x="123.26" y="136.70" font-size="5.7" fill="#231f20" text-anchor="middle" textLength="5.60" lengthAdjust="spacingAndGlyphs" >22</text>
<text x="134.22" y="136.70" font-size="5.7" fill="#231f20" text-anchor="middle" textLength="2.80" lengthAdjust="spacingAndGlyphs" >9</text>
<text x="145.18" y="136.70" font-size="5.7" fill="#231f20" text-anchor="middle" textLength="2.80" lengthAdjust="spacingAndGlyphs" >3</text>
<text x="156.14" y="136.70" font-size="5.7" fill="#231f20" text-anchor="middle" textLength="2.80" lengthAdjust="spacingAndGlyphs" >1</text>
<text x="167.10" y="136.70" font-size="5.7" fill="#231f20" text-anchor="middle" textLength="2.80" lengthAdjust="spacingAndGlyphs" >0</text>
<text x="49.90" y="145.40" font-size="5.6" fill="#231f20" text-anchor="end" textLength="39.00" lengthAdjust="spacingAndGlyphs" >CALCRL&gt;median:</text>
<text x="57.50" y="145.50" font-size="5.7" fill="#231f20" text-anchor="middle" textLength="8.40" lengthAdjust="spacingAndGlyphs" >296</text>
<text x="68.46" y="145.50" font-size="5.7" fill="#231f20" text-anchor="middle" textLength="5.60" lengthAdjust="spacingAndGlyphs" >74</text>
<text x="79.42" y="145.50" font-size="5.7" fill="#231f20" text-anchor="middle" textLength="5.60" lengthAdjust="spacingAndGlyphs" >63</text>
<text x="90.38" y="145.50" font-size="5.7" fill="#231f20" text-anchor="middle" textLength="5.60" lengthAdjust="spacingAndGlyphs" >45</text>
<text x="101.34" y="145.50" font-size="5.7" fill="#231f20" text-anchor="middle" textLength="5.60" lengthAdjust="spacingAndGlyphs" >21</text>
<text x="112.30" y="145.50" font-size="5.7" fill="#231f20" text-anchor="middle" textLength="5.60" lengthAdjust="spacingAndGlyphs" >18</text>
<text x="123.26" y="145.50" font-size="5.7" fill="#231f20" text-anchor="middle" textLength="2.80" lengthAdjust="spacingAndGlyphs" >6</text>
<text x="134.22" y="145.50" font-size="5.7" fill="#231f20" text-anchor="middle" textLength="2.80" lengthAdjust="spacingAndGlyphs" >4</text>
<text x="145.18" y="145.50" font-size="5.7" fill="#231f20" text-anchor="middle" textLength="2.80" lengthAdjust="spacingAndGlyphs" >3</text>
<text x="156.14" y="145.50" font-size="5.7" fill="#231f20" text-anchor="middle" textLength="2.80" lengthAdjust="spacingAndGlyphs" >1</text>
<text x="167.10" y="145.50" font-size="5.7" fill="#231f20" text-anchor="middle" textLength="2.80" lengthAdjust="spacingAndGlyphs" >0</text>
<text x="182.50" y="127.30" font-size="4.6" fill="#231f20" text-anchor="start" textLength="34.00" lengthAdjust="spacingAndGlyphs" >Number at risk</text>
<line x1="182.50" y1="128.10" x2="216.50" y2="128.10" stroke="#231f20" stroke-width="0.4" />
<text x="217.10" y="136.60" font-size="5.6" fill="#231f20" text-anchor="end" textLength="32.30" lengthAdjust="spacingAndGlyphs" >LSP1&lt;median:</text>
<text x="225.50" y="136.70" font-size="5.7" fill="#231f20" text-anchor="middle" textLength="8.40" lengthAdjust="spacingAndGlyphs" >319</text>
<text x="236.46" y="136.70" font-size="5.7" fill="#231f20" text-anchor="middle" textLength="8.40" lengthAdjust="spacingAndGlyphs" >145</text>
<text x="247.42" y="136.70" font-size="5.7" fill="#231f20" text-anchor="middle" textLength="8.40" lengthAdjust="spacingAndGlyphs" >121</text>
<text x="258.38" y="136.70" font-size="5.7" fill="#231f20" text-anchor="middle" textLength="5.60" lengthAdjust="spacingAndGlyphs" >94</text>
<text x="269.34" y="136.70" font-size="5.7" fill="#231f20" text-anchor="middle" textLength="5.60" lengthAdjust="spacingAndGlyphs" >66</text>
<text x="280.30" y="136.70" font-size="5.7" fill="#231f20" text-anchor="middle" textLength="5.60" lengthAdjust="spacingAndGlyphs" >55</text>
<text x="291.26" y="136.70" font-size="5.7" fill="#231f20" text-anchor="middle" textLength="5.60" lengthAdjust="spacingAndGlyphs" >25</text>
<text x="302.22" y="136.70" font-size="5.7" fill="#231f20" text-anchor="middle" textLength="5.60" lengthAdjust="spacingAndGlyphs" >10</text>
<text x="313.18" y="136.70" font-size="5.7" fill="#231f20" text-anchor="middle" textLength="2.80" lengthAdjust="spacingAndGlyphs" >5</text>
<text x="324.14" y="136.70" font-size="5.7" fill="#231f20" text-anchor="middle" textLength="2.80" lengthAdjust="spacingAndGlyphs" >0</text>
<text x="335.10" y="136.70" font-size="5.7" fill="#231f20" text-anchor="middle" textLength="2.80" lengthAdjust="spacingAndGlyphs" >0</text>
<text x="217.10" y="145.40" font-size="5.6" fill="#231f20" text-anchor="end" textLength="32.30" lengthAdjust="spacingAndGlyphs" >LSP1&gt;median:</text>
<text x="225.50" y="145.50" font-size="5.7" fill="#231f20" text-anchor="middle" textLength="8.40" lengthAdjust="spacingAndGlyphs" >321</text>
<text x="236.46" y="145.50" font-size="5.7" fill="#231f20" text-anchor="middle" textLength="5.60" lengthAdjust="spacingAndGlyphs" >76</text>
<text x="247.42" y="145.50" font-size="5.7" fill="#231f20" text-anchor="middle" textLength="5.60" lengthAdjust="spacingAndGlyphs" >59</text>
<text x="258.38" y="145.50" font-size="5.7" fill="#231f20" text-anchor="middle" textLength="5.60" lengthAdjust="spacingAndGlyphs" >47</text>
<text x="269.34" y="145.50" font-size="5.7" fill="#231f20" text-anchor="middle" textLength="5.60" lengthAdjust="spacingAndGlyphs" >24</text>
<text x="280.30" y="145.50" font-size="5.7" fill="#231f20" text-anchor="middle" textLength="5.60" lengthAdjust="spacingAndGlyphs" >20</text>
<text x="291.26" y="145.50" font-size="5.7" fill="#231f20" text-anchor="middle" textLength="2.80" lengthAdjust="spacingAndGlyphs" >5</text>
<text x="302.22" y="145.50" font-size="5.7" fill="#231f20" text-anchor="middle" textLength="2.80" lengthAdjust="spacingAndGlyphs" >4</text>
<text x="313.18" y="145.50" font-size="5.7" fill="#231f20" text-anchor="middle" textLength="2.80" lengthAdjust="spacingAndGlyphs" >2</text>
<text x="324.14" y="145.50" font-size="5.7" fill="#231f20" text-anchor="middle" textLength="2.80" lengthAdjust="spacingAndGlyphs" >0</text>
<text x="335.10" y="145.50" font-size="5.7" fill="#231f20" text-anchor="middle" textLength="2.80" lengthAdjust="spacingAndGlyphs" >0</text>
<text x="351.00" y="127.30" font-size="4.6" fill="#231f20" text-anchor="start" textLength="34.00" lengthAdjust="spacingAndGlyphs" >Number at risk</text>
<line x1="351.00" y1="128.10" x2="385.00" y2="128.10" stroke="#231f20" stroke-width="0.4" />
<text x="390.70" y="136.60" font-size="5.6" fill="#231f20" text-anchor="end" textLength="36.60" lengthAdjust="spacingAndGlyphs" >CD109&lt;median:</text>
<text x="398.50" y="136.70" font-size="5.7" fill="#231f20" text-anchor="middle" textLength="8.40" lengthAdjust="spacingAndGlyphs" >297</text>
<text x="409.46" y="136.70" font-size="5.7" fill="#231f20" text-anchor="middle" textLength="8.40" lengthAdjust="spacingAndGlyphs" >136</text>
<text x="420.42" y="136.70" font-size="5.7" fill="#231f20" text-anchor="middle" textLength="8.40" lengthAdjust="spacingAndGlyphs" >111</text>
<text x="431.38" y="136.70" font-size="5.7" fill="#231f20" text-anchor="middle" textLength="5.60" lengthAdjust="spacingAndGlyphs" >88</text>
<text x="442.34" y="136.70" font-size="5.7" fill="#231f20" text-anchor="middle" textLength="5.60" lengthAdjust="spacingAndGlyphs" >61</text>
<text x="453.30" y="136.70" font-size="5.7" fill="#231f20" text-anchor="middle" textLength="5.60" lengthAdjust="spacingAndGlyphs" >54</text>
<text x="464.26" y="136.70" font-size="5.7" fill="#231f20" text-anchor="middle" textLength="5.60" lengthAdjust="spacingAndGlyphs" >27</text>
<text x="475.22" y="136.70" font-size="5.7" fill="#231f20" text-anchor="middle" textLength="5.60" lengthAdjust="spacingAndGlyphs" >12</text>
<text x="486.18" y="136.70" font-size="5.7" fill="#231f20" text-anchor="middle" textLength="2.80" lengthAdjust="spacingAndGlyphs" >5</text>
<text x="497.14" y="136.70" font-size="5.7" fill="#231f20" text-anchor="middle" textLength="2.80" lengthAdjust="spacingAndGlyphs" >1</text>
<text x="508.10" y="136.70" font-size="5.7" fill="#231f20" text-anchor="middle" textLength="2.80" lengthAdjust="spacingAndGlyphs" >0</text>
<text x="390.70" y="145.40" font-size="5.6" fill="#231f20" text-anchor="end" textLength="36.60" lengthAdjust="spacingAndGlyphs" >CD109&gt;median:</text>
<text x="398.50" y="145.50" font-size="5.7" fill="#231f20" text-anchor="middle" textLength="8.40" lengthAdjust="spacingAndGlyphs" >296</text>
<text x="409.46" y="145.50" font-size="5.7" fill="#231f20" text-anchor="middle" textLength="5.60" lengthAdjust="spacingAndGlyphs" >68</text>
<text x="420.42" y="145.50" font-size="5.7" fill="#231f20" text-anchor="middle" textLength="5.60" lengthAdjust="spacingAndGlyphs" >54</text>
<text x="431.38" y="145.50" font-size="5.7" fill="#231f20" text-anchor="middle" textLength="5.60" lengthAdjust="spacingAndGlyphs" >40</text>
<text x="442.34" y="145.50" font-size="5.7" fill="#231f20" text-anchor="middle" textLength="5.60" lengthAdjust="spacingAndGlyphs" >19</text>
<text x="453.30" y="145.50" font-size="5.7" fill="#231f20" text-anchor="middle" textLength="5.60" lengthAdjust="spacingAndGlyphs" >12</text>
<text x="464.26" y="145.50" font-size="5.7" fill="#231f20" text-anchor="middle" textLength="2.80" lengthAdjust="spacingAndGlyphs" >1</text>
<text x="475.22" y="145.50" font-size="5.7" fill="#231f20" text-anchor="middle" textLength="2.80" lengthAdjust="spacingAndGlyphs" >0</text>
<text x="486.18" y="145.50" font-size="5.7" fill="#231f20" text-anchor="middle" textLength="2.80" lengthAdjust="spacingAndGlyphs" >0</text>
<text x="497.14" y="145.50" font-size="5.7" fill="#231f20" text-anchor="middle" textLength="2.80" lengthAdjust="spacingAndGlyphs" >0</text>
<text x="508.10" y="145.50" font-size="5.7" fill="#231f20" text-anchor="middle" textLength="2.80" lengthAdjust="spacingAndGlyphs" >0</text>
<text x="7.00" y="269.30" font-size="4.6" fill="#231f20" text-anchor="start" textLength="34.00" lengthAdjust="spacingAndGlyphs" >Number at risk</text>
<line x1="7.00" y1="270.10" x2="41.00" y2="270.10" stroke="#231f20" stroke-width="0.4" />
<text x="49.90" y="278.60" font-size="5.6" fill="#231f20" text-anchor="end" textLength="39.00" lengthAdjust="spacingAndGlyphs" >CALCRL&lt;median:</text>
<text x="57.50" y="278.70" font-size="5.7" fill="#231f20" text-anchor="middle" textLength="8.40" lengthAdjust="spacingAndGlyphs" >297</text>
<text x="68.46" y="278.70" font-size="5.7" fill="#231f20" text-anchor="middle" textLength="8.40" lengthAdjust="spacingAndGlyphs" >160</text>
<text x="79.42" y="278.70" font-size="5.7" fill="#231f20" text-anchor="middle" textLength="8.40" lengthAdjust="spacingAndGlyphs" >130</text>
<text x="90.38" y="278.70" font-size="5.7" fill="#231f20" text-anchor="middle" textLength="8.40" lengthAdjust="spacingAndGlyphs" >102</text>
<text x="101.34" y="278.70" font-size="5.7" fill="#231f20" text-anchor="middle" textLength="5.60" lengthAdjust="spacingAndGlyphs" >72</text>
<text x="112.30" y="278.70" font-size="5.7" fill="#231f20" text-anchor="middle" textLength="5.60" lengthAdjust="spacingAndGlyphs" >58</text>
<text x="123.26" y="278.70" font-size="5.7" fill="#231f20" text-anchor="middle" textLength="5.60" lengthAdjust="spacingAndGlyphs" >26</text>
<text x="134.22" y="278.70" font-size="5.7" fill="#231f20" text-anchor="middle" textLength="5.60" lengthAdjust="spacingAndGlyphs" >11</text>
<text x="145.18" y="278.70" font-size="5.7" fill="#231f20" text-anchor="middle" textLength="2.80" lengthAdjust="spacingAndGlyphs" >4</text>
<text x="156.14" y="278.70" font-size="5.7" fill="#231f20" text-anchor="middle" textLength="2.80" lengthAdjust="spacingAndGlyphs" >1</text>
<text x="167.10" y="278.70" font-size="5.7" fill="#231f20" text-anchor="middle" textLength="2.80" lengthAdjust="spacingAndGlyphs" >0</text>
<text x="49.90" y="287.40" font-size="5.6" fill="#231f20" text-anchor="end" textLength="39.00" lengthAdjust="spacingAndGlyphs" >CALCRL&gt;median:</text>
<text x="57.50" y="287.50" font-size="5.7" fill="#231f20" text-anchor="middle" textLength="8.40" lengthAdjust="spacingAndGlyphs" >296</text>
<text x="68.46" y="287.50" font-size="5.7" fill="#231f20" text-anchor="middle" textLength="8.40" lengthAdjust="spacingAndGlyphs" >100</text>
<text x="79.42" y="287.50" font-size="5.7" fill="#231f20" text-anchor="middle" textLength="5.60" lengthAdjust="spacingAndGlyphs" >83</text>
<text x="90.38" y="287.50" font-size="5.7" fill="#231f20" text-anchor="middle" textLength="5.60" lengthAdjust="spacingAndGlyphs" >57</text>
<text x="101.34" y="287.50" font-size="5.7" fill="#231f20" text-anchor="middle" textLength="5.60" lengthAdjust="spacingAndGlyphs" >30</text>
<text x="112.30" y="287.50" font-size="5.7" fill="#231f20" text-anchor="middle" textLength="5.60" lengthAdjust="spacingAndGlyphs" >24</text>
<text x="123.26" y="287.50" font-size="5.7" fill="#231f20" text-anchor="middle" textLength="2.80" lengthAdjust="spacingAndGlyphs" >9</text>
<text x="134.22" y="287.50" font-size="5.7" fill="#231f20" text-anchor="middle" textLength="2.80" lengthAdjust="spacingAndGlyphs" >7</text>
<text x="145.18" y="287.50" font-size="5.7" fill="#231f20" text-anchor="middle" textLength="2.80" lengthAdjust="spacingAndGlyphs" >4</text>
<text x="156.14" y="287.50" font-size="5.7" fill="#231f20" text-anchor="middle" textLength="2.80" lengthAdjust="spacingAndGlyphs" >1</text>
<text x="167.10" y="287.50" font-size="5.7" fill="#231f20" text-anchor="middle" textLength="2.80" lengthAdjust="spacingAndGlyphs" >0</text>
<text x="182.50" y="269.30" font-size="4.6" fill="#231f20" text-anchor="start" textLength="34.00" lengthAdjust="spacingAndGlyphs" >Number at risk</text>
<line x1="182.50" y1="270.10" x2="216.50" y2="270.10" stroke="#231f20" stroke-width="0.4" />
<text x="217.10" y="278.60" font-size="5.6" fill="#231f20" text-anchor="end" textLength="32.30" lengthAdjust="spacingAndGlyphs" >LSP1&lt;median:</text>
<text x="225.50" y="278.70" font-size="5.7" fill="#231f20" text-anchor="middle" textLength="8.40" lengthAdjust="spacingAndGlyphs" >297</text>
<text x="236.46" y="278.70" font-size="5.7" fill="#231f20" text-anchor="middle" textLength="8.40" lengthAdjust="spacingAndGlyphs" >165</text>
<text x="247.42" y="278.70" font-size="5.7" fill="#231f20" text-anchor="middle" textLength="8.40" lengthAdjust="spacingAndGlyphs" >143</text>
<text x="258.38" y="278.70" font-size="5.7" fill="#231f20" text-anchor="middle" textLength="8.40" lengthAdjust="spacingAndGlyphs" >107</text>
<text x="269.34" y="278.70" font-size="5.7" fill="#231f20" text-anchor="middle" textLength="5.60" lengthAdjust="spacingAndGlyphs" >77</text>
<text x="280.30" y="278.70" font-size="5.7" fill="#231f20" text-anchor="middle" textLength="5.60" lengthAdjust="spacingAndGlyphs" >60</text>
<text x="291.26" y="278.70" font-size="5.7" fill="#231f20" text-anchor="middle" textLength="5.60" lengthAdjust="spacingAndGlyphs" >29</text>
<text x="302.22" y="278.70" font-size="5.7" fill="#231f20" text-anchor="middle" textLength="5.60" lengthAdjust="spacingAndGlyphs" >14</text>
<text x="313.18" y="278.70" font-size="5.7" fill="#231f20" text-anchor="middle" textLength="2.80" lengthAdjust="spacingAndGlyphs" >5</text>
<text x="324.14" y="278.70" font-size="5.7" fill="#231f20" text-anchor="middle" textLength="2.80" lengthAdjust="spacingAndGlyphs" >1</text>
<text x="335.10" y="278.70" font-size="5.7" fill="#231f20" text-anchor="middle" textLength="2.80" lengthAdjust="spacingAndGlyphs" >0</text>
<text x="217.10" y="287.40" font-size="5.6" fill="#231f20" text-anchor="end" textLength="32.30" lengthAdjust="spacingAndGlyphs" >LSP1&gt;median:</text>
<text x="225.50" y="287.50" font-size="5.7" fill="#231f20" text-anchor="middle" textLength="8.40" lengthAdjust="spacingAndGlyphs" >296</text>
<text x="236.46" y="287.50" font-size="5.7" fill="#231f20" text-anchor="middle" textLength="5.60" lengthAdjust="spacingAndGlyphs" >95</text>
<text x="247.42" y="287.50" font-size="5.7" fill="#231f20" text-anchor="middle" textLength="5.60" lengthAdjust="spacingAndGlyphs" >70</text>
<text x="258.38" y="287.50" font-size="5.7" fill="#231f20" text-anchor="middle" textLength="5.60" lengthAdjust="spacingAndGlyphs" >52</text>
<text x="269.34" y="287.50" font-size="5.7" fill="#231f20" text-anchor="middle" textLength="5.60" lengthAdjust="spacingAndGlyphs" >25</text>
<text x="280.30" y="287.50" font-size="5.7" fill="#231f20" text-anchor="middle" textLength="5.60" lengthAdjust="spacingAndGlyphs" >22</text>
<text x="291.26" y="287.50" font-size="5.7" fill="#231f20" text-anchor="middle" textLength="2.80" lengthAdjust="spacingAndGlyphs" >6</text>
<text x="302.22" y="287.50" font-size="5.7" fill="#231f20" text-anchor="middle" textLength="2.80" lengthAdjust="spacingAndGlyphs" >4</text>
<text x="313.18" y="287.50" font-size="5.7" fill="#231f20" text-anchor="middle" textLength="2.80" lengthAdjust="spacingAndGlyphs" >2</text>
<text x="324.14" y="287.50" font-size="5.7" fill="#231f20" text-anchor="middle" textLength="2.80" lengthAdjust="spacingAndGlyphs" >1</text>
<text x="335.10" y="287.50" font-size="5.7" fill="#231f20" text-anchor="middle" textLength="2.80" lengthAdjust="spacingAndGlyphs" >0</text>
<text x="351.00" y="269.30" font-size="4.6" fill="#231f20" text-anchor="start" textLength="34.00" lengthAdjust="spacingAndGlyphs" >Number at risk</text>
<line x1="351.00" y1="270.10" x2="385.00" y2="270.10" stroke="#231f20" stroke-width="0.4" />
<text x="390.70" y="278.60" font-size="5.6" fill="#231f20" text-anchor="end" textLength="36.60" lengthAdjust="spacingAndGlyphs" >CD109&lt;median:</text>
<text x="398.50" y="278.70" font-size="5.7" fill="#231f20" text-anchor="middle" textLength="8.40" lengthAdjust="spacingAndGlyphs" >297</text>
<text x="409.46" y="278.70" font-size="5.7" fill="#231f20" text-anchor="middle" textLength="8.40" lengthAdjust="spacingAndGlyphs" >164</text>
<text x="420.42" y="278.70" font-size="5.7" fill="#231f20" text-anchor="middle" textLength="8.40" lengthAdjust="spacingAndGlyphs" >132</text>
<text x="431.38" y="278.70" font-size="5.7" fill="#231f20" text-anchor="middle" textLength="8.40" lengthAdjust="spacingAndGlyphs" >104</text>
<text x="442.34" y="278.70" font-size="5.7" fill="#231f20" text-anchor="middle" textLength="5.60" lengthAdjust="spacingAndGlyphs" >74</text>
<text x="453.30" y="278.70" font-size="5.7" fill="#231f20" text-anchor="middle" textLength="5.60" lengthAdjust="spacingAndGlyphs" >65</text>
<text x="464.26" y="278.70" font-size="5.7" fill="#231f20" text-anchor="middle" textLength="5.60" lengthAdjust="spacingAndGlyphs" >32</text>
<text x="475.22" y="278.70" font-size="5.7" fill="#231f20" text-anchor="middle" textLength="5.60" lengthAdjust="spacingAndGlyphs" >16</text>
<text x="486.18" y="278.70" font-size="5.7" fill="#231f20" text-anchor="middle" textLength="2.80" lengthAdjust="spacingAndGlyphs" >6</text>
<text x="497.14" y="278.70" font-size="5.7" fill="#231f20" text-anchor="middle" textLength="2.80" lengthAdjust="spacingAndGlyphs" >2</text>
<text x="508.10" y="278.70" font-size="5.7" fill="#231f20" text-anchor="middle" textLength="2.80" lengthAdjust="spacingAndGlyphs" >0</text>
<text x="390.70" y="287.40" font-size="5.6" fill="#231f20" text-anchor="end" textLength="36.60" lengthAdjust="spacingAndGlyphs" >CD109&gt;median:</text>
<text x="398.50" y="287.50" font-size="5.7" fill="#231f20" text-anchor="middle" textLength="8.40" lengthAdjust="spacingAndGlyphs" >296</text>
<text x="409.46" y="287.50" font-size="5.7" fill="#231f20" text-anchor="middle" textLength="5.60" lengthAdjust="spacingAndGlyphs" >96</text>
<text x="420.42" y="287.50" font-size="5.7" fill="#231f20" text-anchor="middle" textLength="5.60" lengthAdjust="spacingAndGlyphs" >81</text>
<text x="431.38" y="287.50" font-size="5.7" fill="#231f20" text-anchor="middle" textLength="5.60" lengthAdjust="spacingAndGlyphs" >55</text>
<text x="442.34" y="287.50" font-size="5.7" fill="#231f20" text-anchor="middle" textLength="5.60" lengthAdjust="spacingAndGlyphs" >28</text>
<text x="453.30" y="287.50" font-size="5.7" fill="#231f20" text-anchor="middle" textLength="5.60" lengthAdjust="spacingAndGlyphs" >17</text>
<text x="464.26" y="287.50" font-size="5.7" fill="#231f20" text-anchor="middle" textLength="2.80" lengthAdjust="spacingAndGlyphs" >2</text>
<text x="475.22" y="287.50" font-size="5.7" fill="#231f20" text-anchor="middle" textLength="2.80" lengthAdjust="spacingAndGlyphs" >2</text>
<text x="486.18" y="287.50" font-size="5.7" fill="#231f20" text-anchor="middle" textLength="2.80" lengthAdjust="spacingAndGlyphs" >0</text>
<text x="497.14" y="287.50" font-size="5.7" fill="#231f20" text-anchor="middle" textLength="2.80" lengthAdjust="spacingAndGlyphs" >0</text>
<text x="508.10" y="287.50" font-size="5.7" fill="#231f20" text-anchor="middle" textLength="2.80" lengthAdjust="spacingAndGlyphs" >0</text>
<line x1="34.50" y1="322.50" x2="34.50" y2="407.00" stroke="#231f20" stroke-width="1.0" />
<line x1="34.00" y1="406.50" x2="139.30" y2="406.50" stroke="#231f20" stroke-width="1.0" />
<line x1="31.70" y1="406.50" x2="34.50" y2="406.50" stroke="#231f20" stroke-width="1.0" />
<text x="28.90" y="408.80" font-size="6.5" fill="#231f20" text-anchor="end" >0</text>
<line x1="31.70" y1="390.50" x2="34.50" y2="390.50" stroke="#231f20" stroke-width="1.0" />
<text x="28.90" y="392.59" font-size="6.5" fill="#231f20" text-anchor="end" >20</text>
<line x1="31.70" y1="374.50" x2="34.50" y2="374.50" stroke="#231f20" stroke-width="1.0" />
<text x="28.90" y="376.38" font-size="6.5" fill="#231f20" text-anchor="end" >40</text>
<line x1="31.70" y1="357.50" x2="34.50" y2="357.50" stroke="#231f20" stroke-width="1.0" />
<text x="28.90" y="360.16" font-size="6.5" fill="#231f20" text-anchor="end" >60</text>
<line x1="31.70" y1="341.50" x2="34.50" y2="341.50" stroke="#231f20" stroke-width="1.0" />
<text x="28.90" y="343.95" font-size="6.5" fill="#231f20" text-anchor="end" >80</text>
<line x1="31.70" y1="325.50" x2="34.50" y2="325.50" stroke="#231f20" stroke-width="1.0" />
<text x="28.90" y="327.74" font-size="6.5" fill="#231f20" text-anchor="end" >100</text>
<line x1="34.50" y1="406.50" x2="34.50" y2="409.50" stroke="#231f20" stroke-width="1.0" />
<text x="34.50" y="418.60" font-size="6.5" fill="#231f20" text-anchor="middle" >0.5</text>
<line x1="68.50" y1="406.50" x2="68.50" y2="409.50" stroke="#231f20" stroke-width="1.0" />
<text x="68.20" y="418.60" font-size="6.5" fill="#231f20" text-anchor="middle" >1.0</text>
<line x1="101.50" y1="406.50" x2="101.50" y2="409.50" stroke="#231f20" stroke-width="1.0" />
<text x="101.90" y="418.60" font-size="6.5" fill="#231f20" text-anchor="middle" >1.5</text>
<line x1="135.50" y1="406.50" x2="135.50" y2="409.50" stroke="#231f20" stroke-width="1.0" />
<text x="135.60" y="418.60" font-size="6.5" fill="#231f20" text-anchor="middle" >2.0</text>
<text x="85.00" y="430.50" font-size="9.0" fill="#231f20" text-anchor="middle" textLength="61.00" lengthAdjust="spacingAndGlyphs" >Prognostic index</text>
<text x="0" y="0" font-size="9" fill="#231f20" transform="translate(15.4,435.5) rotate(-90)" textLength="118" lengthAdjust="spacingAndGlyphs">Probability of survival to time poi</text>
<text x="0" y="0" font-size="9" fill="#231f20" transform="translate(15.4,316.2) rotate(-90)" textLength="9.6" lengthAdjust="spacingAndGlyphs">nt</text>
<text x="0" y="0" font-size="11.4" fill="#231f20" transform="translate(8.2,314.4) scale(0.86,1)">D</text>
<text x="0" y="0" font-size="8.4" fill="#231f20" transform="translate(15.0,305.4) rotate(-90)" textLength="3.6" lengthAdjust="spacingAndGlyphs">X</text>
<path d="M44.30,334.50 C45.03,334.51 47.20,334.52 48.65,334.55 C50.11,334.59 51.56,334.64 53.01,334.71 C54.46,334.79 55.91,334.88 57.36,334.98 C58.82,335.09 60.27,335.22 61.72,335.36 C63.17,335.50 64.62,335.66 66.07,335.84 C67.53,336.02 68.98,336.22 70.43,336.43 C71.88,336.65 73.33,336.88 74.78,337.13 C76.24,337.38 77.69,337.65 79.14,337.94 C80.59,338.23 82.04,338.53 83.50,338.85 C84.95,339.18 86.40,339.52 87.85,339.87 C89.30,340.23 90.75,340.61 92.20,341.00 C93.66,341.40 95.11,341.81 96.56,342.24 C98.01,342.67 99.46,343.12 100.91,343.58 C102.37,344.05 103.82,344.53 105.27,345.03 C106.72,345.54 108.17,346.06 109.62,346.59 C111.08,347.13 112.53,347.69 113.98,348.26 C115.43,348.83 116.88,349.42 118.33,350.03 C119.79,350.64 121.24,351.27 122.69,351.91 C124.14,352.56 125.59,353.22 127.04,353.90 C128.50,354.58 130.67,355.65 131.40,356.00" fill="none" stroke="#2a2a2a" stroke-width="0.95"/>
<path d="M44.30,341.50 C45.03,341.74 47.20,342.44 48.65,342.92 C50.11,343.40 51.56,343.89 53.01,344.39 C54.46,344.88 55.91,345.38 57.36,345.89 C58.82,346.40 60.27,346.92 61.72,347.44 C63.17,347.97 64.62,348.50 66.07,349.04 C67.53,349.57 68.98,350.12 70.43,350.67 C71.88,351.22 73.33,351.78 74.78,352.35 C76.24,352.91 77.69,353.48 79.14,354.07 C80.59,354.65 82.04,355.23 83.50,355.83 C84.95,356.42 86.40,357.02 87.85,357.63 C89.30,358.24 90.75,358.85 92.20,359.48 C93.66,360.10 95.11,360.73 96.56,361.37 C98.01,362.00 99.46,362.65 100.91,363.30 C102.37,363.95 103.82,364.61 105.27,365.27 C106.72,365.93 108.17,366.61 109.62,367.29 C111.08,367.96 112.53,368.65 113.98,369.34 C115.43,370.04 116.88,370.74 118.33,371.45 C119.79,372.15 121.24,372.87 122.69,373.59 C124.14,374.31 125.59,375.04 127.04,375.77 C128.50,376.51 130.67,377.63 131.40,378.00" fill="none" stroke="#2a2a2a" stroke-width="0.95"/>
<path d="M44.30,346.60 C45.03,347.24 47.20,349.20 48.65,350.43 C50.11,351.66 51.56,352.85 53.01,353.99 C54.46,355.14 55.91,356.24 57.36,357.31 C58.82,358.37 60.27,359.40 61.72,360.39 C63.17,361.38 64.62,362.33 66.07,363.25 C67.53,364.17 68.98,365.06 70.43,365.92 C71.88,366.77 73.33,367.60 74.78,368.39 C76.24,369.19 77.69,369.96 79.14,370.70 C80.59,371.44 82.04,372.15 83.50,372.84 C84.95,373.53 86.40,374.19 87.85,374.84 C89.30,375.48 90.75,376.09 92.20,376.69 C93.66,377.29 95.11,377.86 96.56,378.41 C98.01,378.97 99.46,379.50 100.91,380.02 C102.37,380.53 103.82,381.03 105.27,381.51 C106.72,381.99 108.17,382.45 109.62,382.89 C111.08,383.34 112.53,383.77 113.98,384.18 C115.43,384.60 116.88,385.00 118.33,385.38 C119.79,385.77 121.24,386.14 122.69,386.50 C124.14,386.86 125.59,387.20 127.04,387.54 C128.50,387.87 130.67,388.34 131.40,388.50" fill="none" stroke="#2a2a2a" stroke-width="0.95"/>
<path d="M44.30,351.60 C45.03,352.06 47.20,353.44 48.65,354.33 C50.11,355.23 51.56,356.11 53.01,356.97 C54.46,357.84 55.91,358.68 57.36,359.52 C58.82,360.35 60.27,361.17 61.72,361.97 C63.17,362.77 64.62,363.56 66.07,364.33 C67.53,365.11 68.98,365.87 70.43,366.61 C71.88,367.36 73.33,368.09 74.78,368.81 C76.24,369.53 77.69,370.24 79.14,370.94 C80.59,371.63 82.04,372.31 83.50,372.98 C84.95,373.65 86.40,374.31 87.85,374.95 C89.30,375.60 90.75,376.23 92.20,376.86 C93.66,377.48 95.11,378.09 96.56,378.69 C98.01,379.29 99.46,379.88 100.91,380.46 C102.37,381.04 103.82,381.61 105.27,382.17 C106.72,382.73 108.17,383.27 109.62,383.81 C111.08,384.35 112.53,384.88 113.98,385.40 C115.43,385.92 116.88,386.43 118.33,386.93 C119.79,387.43 121.24,387.92 122.69,388.40 C124.14,388.89 125.59,389.36 127.04,389.83 C128.50,390.29 130.67,390.97 131.40,391.20" fill="none" stroke="#2a2a2a" stroke-width="0.95"/>
<path d="M44.30,354.20 C45.03,354.61 47.20,355.85 48.65,356.66 C50.11,357.47 51.56,358.27 53.01,359.06 C54.46,359.85 55.91,360.63 57.36,361.40 C58.82,362.17 60.27,362.92 61.72,363.67 C63.17,364.42 64.62,365.16 66.07,365.90 C67.53,366.63 68.98,367.35 70.43,368.06 C71.88,368.77 73.33,369.48 74.78,370.17 C76.24,370.86 77.69,371.55 79.14,372.23 C80.59,372.90 82.04,373.57 83.50,374.23 C84.95,374.89 86.40,375.54 87.85,376.18 C89.30,376.83 90.75,377.46 92.20,378.09 C93.66,378.72 95.11,379.33 96.56,379.94 C98.01,380.56 99.46,381.16 100.91,381.75 C102.37,382.35 103.82,382.94 105.27,383.52 C106.72,384.10 108.17,384.67 109.62,385.24 C111.08,385.80 112.53,386.36 113.98,386.91 C115.43,387.46 116.88,388.01 118.33,388.54 C119.79,389.08 121.24,389.61 122.69,390.14 C124.14,390.66 125.59,391.18 127.04,391.69 C128.50,392.20 130.67,392.95 131.40,393.20" fill="none" stroke="#2a2a2a" stroke-width="0.95"/>
<path d="M44.30,356.80 C45.03,357.17 47.20,358.30 48.65,359.04 C50.11,359.78 51.56,360.52 53.01,361.25 C54.46,361.97 55.91,362.70 57.36,363.41 C58.82,364.13 60.27,364.84 61.72,365.54 C63.17,366.24 64.62,366.94 66.07,367.63 C67.53,368.32 68.98,369.01 70.43,369.69 C71.88,370.37 73.33,371.04 74.78,371.71 C76.24,372.37 77.69,373.04 79.14,373.69 C80.59,374.35 82.04,375.00 83.50,375.64 C84.95,376.29 86.40,376.93 87.85,377.56 C89.30,378.19 90.75,378.82 92.20,379.44 C93.66,380.07 95.11,380.68 96.56,381.29 C98.01,381.91 99.46,382.51 100.91,383.11 C102.37,383.72 103.82,384.31 105.27,384.90 C106.72,385.49 108.17,386.08 109.62,386.66 C111.08,387.24 112.53,387.82 113.98,388.39 C115.43,388.96 116.88,389.52 118.33,390.08 C119.79,390.64 121.24,391.20 122.69,391.75 C124.14,392.30 125.59,392.85 127.04,393.39 C128.50,393.93 130.67,394.73 131.40,395.00" fill="none" stroke="#2a2a2a" stroke-width="0.95"/>
<circle cx="44.3" cy="334.9" r="1.85" fill="#d42a7c"/>
<circle cx="66.5" cy="335.3" r="1.85" fill="#d42a7c"/>
<circle cx="80.6" cy="340.8" r="1.85" fill="#d42a7c"/>
<circle cx="98.3" cy="341.9" r="1.85" fill="#d42a7c"/>
<circle cx="131.4" cy="355.9" r="1.85" fill="#d42a7c"/>
<circle cx="44.3" cy="341.0" r="1.85" fill="#63a845"/>
<circle cx="66.5" cy="344.8" r="1.85" fill="#63a845"/>
<circle cx="80.6" cy="357.0" r="1.85" fill="#63a845"/>
<circle cx="98.3" cy="362.7" r="1.85" fill="#63a845"/>
<circle cx="131.4" cy="378.0" r="1.85" fill="#63a845"/>
<circle cx="44.3" cy="346.6" r="1.85" fill="#5aa2dc"/>
<circle cx="66.5" cy="364.2" r="1.85" fill="#5aa2dc"/>
<circle cx="80.6" cy="371.3" r="1.85" fill="#5aa2dc"/>
<circle cx="98.3" cy="376.5" r="1.85" fill="#5aa2dc"/>
<circle cx="131.4" cy="389.3" r="1.85" fill="#5aa2dc"/>
<circle cx="44.3" cy="351.6" r="1.85" fill="#2b4a78"/>
<circle cx="66.5" cy="365.8" r="1.85" fill="#2b4a78"/>
<circle cx="80.6" cy="375.8" r="1.85" fill="#2b4a78"/>
<circle cx="98.3" cy="379.2" r="1.85" fill="#2b4a78"/>
<circle cx="131.4" cy="392.3" r="1.85" fill="#2b4a78"/>
<circle cx="44.3" cy="356.8" r="1.85" fill="#a81f33"/>
<circle cx="66.5" cy="368.7" r="1.85" fill="#a81f33"/>
<circle cx="80.6" cy="379.2" r="1.85" fill="#a81f33"/>
<circle cx="98.3" cy="380.5" r="1.85" fill="#a81f33"/>
<circle cx="131.4" cy="395.0" r="1.85" fill="#a81f33"/>
<circle cx="41" cy="382.00" r="1.7" fill="#d42a7c"/>
<text x="45.00" y="383.70" font-size="4.9" fill="#231f20" text-anchor="start" textLength="22.00" lengthAdjust="spacingAndGlyphs" >6 months</text>
<circle cx="41" cy="386.98" r="1.7" fill="#63a845"/>
<text x="45.00" y="388.68" font-size="4.9" fill="#231f20" text-anchor="start" textLength="24.60" lengthAdjust="spacingAndGlyphs" >12 months</text>
<circle cx="41" cy="391.96" r="1.7" fill="#5aa2dc"/>
<text x="45.00" y="393.66" font-size="4.9" fill="#231f20" text-anchor="start" textLength="24.60" lengthAdjust="spacingAndGlyphs" >24 months</text>
<circle cx="41" cy="396.94" r="1.7" fill="#2b4a78"/>
<text x="45.00" y="398.64" font-size="4.9" fill="#231f20" text-anchor="start" textLength="24.60" lengthAdjust="spacingAndGlyphs" >36 months</text>
<circle cx="41" cy="401.92" r="1.7" fill="#a81f33"/>
<text x="45.00" y="403.62" font-size="4.9" fill="#231f20" text-anchor="start" textLength="24.60" lengthAdjust="spacingAndGlyphs" >48 months</text>
<text x="0" y="0" font-size="12" fill="#231f20" transform="translate(149.2,315.4) scale(0.74,1)">E</text>
<line x1="168.50" y1="339.00" x2="168.50" y2="353.90" stroke="#231f20" stroke-width="1.0" />
<line x1="168.50" y1="359.30" x2="168.50" y2="407.00" stroke="#231f20" stroke-width="1.0" />
<line x1="168.00" y1="406.50" x2="262.30" y2="406.50" stroke="#231f20" stroke-width="1.0" />
<line x1="165.20" y1="341.50" x2="168.50" y2="341.50" stroke="#231f20" stroke-width="1.0" />
<text x="162.70" y="344.20" font-size="6.6" fill="#231f20" text-anchor="end" >40</text>
<line x1="165.20" y1="350.50" x2="168.50" y2="350.50" stroke="#231f20" stroke-width="1.0" />
<text x="162.70" y="352.60" font-size="6.6" fill="#231f20" text-anchor="end" >20</text>
<line x1="165.20" y1="365.50" x2="168.50" y2="365.50" stroke="#231f20" stroke-width="1.0" />
<text x="162.70" y="367.50" font-size="6.6" fill="#231f20" text-anchor="end" >10</text>
<line x1="165.20" y1="378.50" x2="168.50" y2="378.50" stroke="#231f20" stroke-width="1.0" />
<text x="162.70" y="381.00" font-size="6.6" fill="#231f20" text-anchor="end" >5</text>
<line x1="165.20" y1="392.50" x2="168.50" y2="392.50" stroke="#231f20" stroke-width="1.0" />
<text x="162.70" y="394.60" font-size="6.6" fill="#231f20" text-anchor="end" >0</text>
<line x1="165.20" y1="405.50" x2="168.50" y2="405.50" stroke="#231f20" stroke-width="1.0" />
<text x="162.70" y="408.10" font-size="6.6" fill="#231f20" text-anchor="end" >-5</text>
<path d="M166.90,354.50 L168.50,352.50 L170.10,354.50 Z" fill="#231f20"/>
<line x1="166.30" y1="359.80" x2="170.70" y2="359.80" stroke="#231f20" stroke-width="1.0" />
<line x1="180.50" y1="406.50" x2="180.50" y2="409.30" stroke="#231f20" stroke-width="1.0" />
<text x="0" y="0" font-size="6.8" fill="#231f20" text-anchor="end" transform="translate(183.60,417.50) rotate(-45)" textLength="18.5" lengthAdjust="spacingAndGlyphs">HOVON</text>
<line x1="199.50" y1="406.50" x2="199.50" y2="409.30" stroke="#231f20" stroke-width="1.0" />
<text x="0" y="0" font-size="6.8" fill="#231f20" text-anchor="end" transform="translate(202.10,417.50) rotate(-45)" textLength="20.5" lengthAdjust="spacingAndGlyphs">German</text>
<line x1="217.50" y1="406.50" x2="217.50" y2="409.30" stroke="#231f20" stroke-width="1.0" />
<text x="0" y="0" font-size="6.8" fill="#231f20" text-anchor="end" transform="translate(220.40,417.50) rotate(-45)" textLength="15.5" lengthAdjust="spacingAndGlyphs">TCGA</text>
<line x1="235.50" y1="406.50" x2="235.50" y2="409.30" stroke="#231f20" stroke-width="1.0" />
<text x="0" y="0" font-size="6.8" fill="#231f20" text-anchor="end" transform="translate(238.40,417.50) rotate(-45)" textLength="24" lengthAdjust="spacingAndGlyphs">Beat AML</text>
<line x1="254.50" y1="406.50" x2="254.50" y2="409.30" stroke="#231f20" stroke-width="1.0" />
<text x="0" y="0" font-size="6.8" fill="#231f20" text-anchor="end" transform="translate(257.20,417.50) rotate(-45)" textLength="21" lengthAdjust="spacingAndGlyphs">TARGET</text>
<text x="0" y="0" font-size="10.4" fill="#231f20" transform="translate(151.40,401.70) rotate(-90)" textLength="68.1" lengthAdjust="spacingAndGlyphs"><tspan font-style="italic">CALCRL</tspan> mRNA (log<tspan font-size="6" dy="2">2</tspan><tspan dy="-2">)</tspan></text>
<rect x="174.90" y="330.20" width="2.4" height="2.0" fill="#3c5f8e"/>
<text x="179.70" y="333.10" font-size="5.6" fill="#231f20" text-anchor="start" textLength="23.00" lengthAdjust="spacingAndGlyphs" >Affimetrix</text>
<rect x="174.90" y="336.60" width="2.4" height="2.0" fill="#a51f38"/>
<text x="179.70" y="339.40" font-size="5.6" fill="#231f20" text-anchor="start" textLength="37.00" lengthAdjust="spacingAndGlyphs" >RNA sequencing</text>
<polygon points="178.10,359.20 176.10,360.50 175.00,362.50 174.50,365.00 175.40,367.00 177.40,369.00 178.80,371.00 180.20,373.50 181.00,373.50 182.40,371.00 183.80,369.00 185.80,367.00 186.70,365.00 186.20,362.50 185.10,360.50 183.10,359.20" fill="#3c5f8e" opacity="0.92"/>
<circle cx="181.3" cy="365.7" r="0.62" fill="#3c5f8e"/>
<circle cx="180.5" cy="372.4" r="0.62" fill="#3c5f8e"/>
<circle cx="181.6" cy="366.5" r="0.62" fill="#3c5f8e"/>
<circle cx="180.7" cy="361.8" r="0.62" fill="#3c5f8e"/>
<circle cx="183.1" cy="368.2" r="0.62" fill="#3c5f8e"/>
<circle cx="178.7" cy="360.5" r="0.62" fill="#3c5f8e"/>
<circle cx="183.6" cy="360.5" r="0.62" fill="#3c5f8e"/>
<circle cx="177.5" cy="369.1" r="0.62" fill="#3c5f8e"/>
<circle cx="181.4" cy="373.2" r="0.62" fill="#3c5f8e"/>
<circle cx="181.5" cy="368.6" r="0.62" fill="#3c5f8e"/>
<circle cx="175.4" cy="361.5" r="0.62" fill="#3c5f8e"/>
<circle cx="175.7" cy="366.8" r="0.62" fill="#3c5f8e"/>
<circle cx="177.7" cy="361.9" r="0.62" fill="#3c5f8e"/>
<circle cx="180.4" cy="359.6" r="0.62" fill="#3c5f8e"/>
<circle cx="184.8" cy="365.5" r="0.62" fill="#3c5f8e"/>
<circle cx="182.2" cy="366.6" r="0.62" fill="#3c5f8e"/>
<circle cx="182.5" cy="366.3" r="0.62" fill="#3c5f8e"/>
<circle cx="177.9" cy="365.7" r="0.62" fill="#3c5f8e"/>
<circle cx="181.3" cy="373.5" r="0.62" fill="#3c5f8e"/>
<circle cx="181.4" cy="371.2" r="0.62" fill="#3c5f8e"/>
<circle cx="177.3" cy="363.7" r="0.62" fill="#3c5f8e"/>
<circle cx="175.4" cy="363.3" r="0.62" fill="#3c5f8e"/>
<circle cx="180.1" cy="370.2" r="0.62" fill="#3c5f8e"/>
<circle cx="180.2" cy="371.3" r="0.62" fill="#3c5f8e"/>
<circle cx="181.3" cy="372.9" r="0.62" fill="#3c5f8e"/>
<circle cx="179.0" cy="359.2" r="0.62" fill="#3c5f8e"/>
<circle cx="180.5" cy="372.2" r="0.62" fill="#3c5f8e"/>
<circle cx="180.4" cy="373.2" r="0.62" fill="#3c5f8e"/>
<circle cx="181.7" cy="360.2" r="0.62" fill="#3c5f8e"/>
<circle cx="179.4" cy="370.3" r="0.62" fill="#3c5f8e"/>
<circle cx="179.0" cy="360.4" r="0.62" fill="#3c5f8e"/>
<circle cx="181.1" cy="373.0" r="0.62" fill="#3c5f8e"/>
<circle cx="178.1" cy="360.9" r="0.62" fill="#3c5f8e"/>
<circle cx="176.3" cy="360.6" r="0.62" fill="#3c5f8e"/>
<circle cx="179.1" cy="370.6" r="0.62" fill="#3c5f8e"/>
<circle cx="180.0" cy="367.2" r="0.62" fill="#3c5f8e"/>
<circle cx="183.2" cy="361.9" r="0.62" fill="#3c5f8e"/>
<circle cx="182.1" cy="361.1" r="0.62" fill="#3c5f8e"/>
<circle cx="179.8" cy="360.9" r="0.62" fill="#3c5f8e"/>
<circle cx="177.9" cy="362.2" r="0.62" fill="#3c5f8e"/>
<circle cx="181.2" cy="373.1" r="0.62" fill="#3c5f8e"/>
<circle cx="185.3" cy="363.5" r="0.62" fill="#3c5f8e"/>
<circle cx="179.4" cy="362.2" r="0.62" fill="#3c5f8e"/>
<circle cx="181.1" cy="371.4" r="0.62" fill="#3c5f8e"/>
<circle cx="185.4" cy="360.6" r="0.62" fill="#3c5f8e"/>
<circle cx="177.8" cy="362.2" r="0.62" fill="#3c5f8e"/>
<circle cx="179.7" cy="370.2" r="0.62" fill="#3c5f8e"/>
<circle cx="175.4" cy="363.4" r="0.62" fill="#3c5f8e"/>
<circle cx="181.4" cy="360.5" r="0.62" fill="#3c5f8e"/>
<circle cx="181.8" cy="362.7" r="0.62" fill="#3c5f8e"/>
<circle cx="180.0" cy="364.5" r="0.62" fill="#3c5f8e"/>
<circle cx="180.6" cy="372.9" r="0.62" fill="#3c5f8e"/>
<circle cx="184.3" cy="367.4" r="0.62" fill="#3c5f8e"/>
<circle cx="176.8" cy="361.8" r="0.62" fill="#3c5f8e"/>
<circle cx="181.5" cy="372.2" r="0.62" fill="#3c5f8e"/>
<circle cx="176.9" cy="362.8" r="0.62" fill="#3c5f8e"/>
<circle cx="183.2" cy="369.8" r="0.62" fill="#3c5f8e"/>
<circle cx="185.7" cy="362.0" r="0.62" fill="#3c5f8e"/>
<circle cx="180.9" cy="371.8" r="0.62" fill="#3c5f8e"/>
<circle cx="175.6" cy="365.2" r="0.62" fill="#3c5f8e"/>
<circle cx="184.0" cy="359.8" r="0.62" fill="#3c5f8e"/>
<circle cx="183.0" cy="362.6" r="0.62" fill="#3c5f8e"/>
<circle cx="184.5" cy="362.9" r="0.62" fill="#3c5f8e"/>
<circle cx="178.6" cy="367.7" r="0.62" fill="#3c5f8e"/>
<circle cx="183.0" cy="361.7" r="0.62" fill="#3c5f8e"/>
<circle cx="178.3" cy="360.2" r="0.62" fill="#3c5f8e"/>
<circle cx="184.3" cy="367.2" r="0.62" fill="#3c5f8e"/>
<circle cx="178.6" cy="368.0" r="0.62" fill="#3c5f8e"/>
<circle cx="179.8" cy="372.3" r="0.62" fill="#3c5f8e"/>
<circle cx="179.1" cy="359.4" r="0.62" fill="#3c5f8e"/>
<circle cx="175.2" cy="365.6" r="0.62" fill="#3c5f8e"/>
<circle cx="179.2" cy="361.7" r="0.62" fill="#3c5f8e"/>
<circle cx="176.8" cy="367.4" r="0.62" fill="#3c5f8e"/>
<circle cx="185.5" cy="364.4" r="0.62" fill="#3c5f8e"/>
<circle cx="180.9" cy="373.2" r="0.62" fill="#3c5f8e"/>
<circle cx="181.2" cy="369.1" r="0.62" fill="#3c5f8e"/>
<circle cx="175.8" cy="361.2" r="0.62" fill="#3c5f8e"/>
<circle cx="183.2" cy="359.5" r="0.62" fill="#3c5f8e"/>
<circle cx="183.7" cy="369.2" r="0.62" fill="#3c5f8e"/>
<circle cx="181.5" cy="359.5" r="0.62" fill="#3c5f8e"/>
<circle cx="183.3" cy="366.1" r="0.62" fill="#3c5f8e"/>
<circle cx="186.7" cy="363.8" r="0.62" fill="#3c5f8e"/>
<circle cx="181.0" cy="360.3" r="0.62" fill="#3c5f8e"/>
<circle cx="183.0" cy="369.7" r="0.62" fill="#3c5f8e"/>
<circle cx="181.8" cy="369.7" r="0.62" fill="#3c5f8e"/>
<circle cx="182.6" cy="370.5" r="0.62" fill="#3c5f8e"/>
<circle cx="182.9" cy="364.2" r="0.62" fill="#3c5f8e"/>
<circle cx="181.7" cy="372.1" r="0.62" fill="#3c5f8e"/>
<circle cx="184.3" cy="365.2" r="0.62" fill="#3c5f8e"/>
<circle cx="180.9" cy="371.5" r="0.62" fill="#3c5f8e"/>
<circle cx="179.6" cy="368.1" r="0.62" fill="#3c5f8e"/>
<circle cx="181.7" cy="367.5" r="0.62" fill="#3c5f8e"/>
<circle cx="181.9" cy="360.3" r="0.62" fill="#3c5f8e"/>
<circle cx="181.2" cy="373.4" r="0.62" fill="#3c5f8e"/>
<circle cx="179.9" cy="369.6" r="0.62" fill="#3c5f8e"/>
<circle cx="181.1" cy="369.7" r="0.62" fill="#3c5f8e"/>
<circle cx="184.8" cy="365.5" r="0.62" fill="#3c5f8e"/>
<circle cx="182.9" cy="360.4" r="0.62" fill="#3c5f8e"/>
<circle cx="181.3" cy="359.6" r="0.62" fill="#3c5f8e"/>
<circle cx="177.4" cy="366.1" r="0.62" fill="#3c5f8e"/>
<rect x="179.2" y="353.2" width="2.8" height="1.3" fill="#3c5f8e"/>
<polygon points="198.50,359.50 197.70,362.00 196.30,364.00 194.10,366.00 193.10,367.30 194.50,368.50 196.50,370.00 197.90,371.50 198.70,373.20 199.50,373.20 200.30,371.50 201.70,370.00 203.70,368.50 205.10,367.30 204.10,366.00 201.90,364.00 200.50,362.00 199.70,359.50" fill="#3c5f8e" opacity="0.92"/>
<circle cx="199.1" cy="369.1" r="0.62" fill="#3c5f8e"/>
<circle cx="203.8" cy="367.9" r="0.62" fill="#3c5f8e"/>
<circle cx="196.8" cy="363.0" r="0.62" fill="#3c5f8e"/>
<circle cx="200.1" cy="363.6" r="0.62" fill="#3c5f8e"/>
<circle cx="197.8" cy="362.3" r="0.62" fill="#3c5f8e"/>
<circle cx="199.5" cy="371.9" r="0.62" fill="#3c5f8e"/>
<circle cx="202.9" cy="365.6" r="0.62" fill="#3c5f8e"/>
<circle cx="200.1" cy="364.0" r="0.62" fill="#3c5f8e"/>
<circle cx="198.8" cy="362.2" r="0.62" fill="#3c5f8e"/>
<circle cx="201.1" cy="370.5" r="0.62" fill="#3c5f8e"/>
<circle cx="198.8" cy="371.6" r="0.62" fill="#3c5f8e"/>
<circle cx="196.9" cy="367.5" r="0.62" fill="#3c5f8e"/>
<circle cx="199.1" cy="361.4" r="0.62" fill="#3c5f8e"/>
<circle cx="200.5" cy="371.0" r="0.62" fill="#3c5f8e"/>
<circle cx="202.6" cy="369.2" r="0.62" fill="#3c5f8e"/>
<circle cx="197.4" cy="363.3" r="0.62" fill="#3c5f8e"/>
<circle cx="196.9" cy="365.7" r="0.62" fill="#3c5f8e"/>
<circle cx="198.8" cy="362.4" r="0.62" fill="#3c5f8e"/>
<circle cx="199.0" cy="368.1" r="0.62" fill="#3c5f8e"/>
<circle cx="201.1" cy="363.8" r="0.62" fill="#3c5f8e"/>
<circle cx="199.0" cy="373.0" r="0.62" fill="#3c5f8e"/>
<circle cx="197.9" cy="360.5" r="0.62" fill="#3c5f8e"/>
<circle cx="197.7" cy="371.5" r="0.62" fill="#3c5f8e"/>
<circle cx="199.7" cy="369.2" r="0.62" fill="#3c5f8e"/>
<circle cx="200.8" cy="363.7" r="0.62" fill="#3c5f8e"/>
<circle cx="198.4" cy="359.8" r="0.62" fill="#3c5f8e"/>
<circle cx="194.3" cy="365.7" r="0.62" fill="#3c5f8e"/>
<circle cx="198.0" cy="370.9" r="0.62" fill="#3c5f8e"/>
<circle cx="197.7" cy="361.4" r="0.62" fill="#3c5f8e"/>
<circle cx="198.5" cy="368.1" r="0.62" fill="#3c5f8e"/>
<circle cx="200.8" cy="368.1" r="0.62" fill="#3c5f8e"/>
<circle cx="201.3" cy="370.6" r="0.62" fill="#3c5f8e"/>
<circle cx="196.5" cy="368.9" r="0.62" fill="#3c5f8e"/>
<circle cx="195.7" cy="366.0" r="0.62" fill="#3c5f8e"/>
<circle cx="199.0" cy="359.6" r="0.62" fill="#3c5f8e"/>
<circle cx="196.6" cy="369.3" r="0.62" fill="#3c5f8e"/>
<circle cx="198.3" cy="363.2" r="0.62" fill="#3c5f8e"/>
<circle cx="199.3" cy="369.1" r="0.62" fill="#3c5f8e"/>
<circle cx="202.0" cy="367.9" r="0.62" fill="#3c5f8e"/>
<circle cx="201.5" cy="364.9" r="0.62" fill="#3c5f8e"/>
<circle cx="198.0" cy="371.9" r="0.62" fill="#3c5f8e"/>
<circle cx="199.6" cy="372.3" r="0.62" fill="#3c5f8e"/>
<circle cx="199.0" cy="361.3" r="0.62" fill="#3c5f8e"/>
<circle cx="203.5" cy="368.1" r="0.62" fill="#3c5f8e"/>
<circle cx="199.6" cy="364.7" r="0.62" fill="#3c5f8e"/>
<circle cx="200.0" cy="371.5" r="0.62" fill="#3c5f8e"/>
<circle cx="199.0" cy="372.4" r="0.62" fill="#3c5f8e"/>
<circle cx="196.2" cy="368.4" r="0.62" fill="#3c5f8e"/>
<circle cx="201.5" cy="369.4" r="0.62" fill="#3c5f8e"/>
<circle cx="201.3" cy="368.3" r="0.62" fill="#3c5f8e"/>
<circle cx="200.7" cy="362.4" r="0.62" fill="#3c5f8e"/>
<circle cx="199.9" cy="372.9" r="0.62" fill="#3c5f8e"/>
<circle cx="202.6" cy="366.9" r="0.62" fill="#3c5f8e"/>
<circle cx="201.6" cy="363.9" r="0.62" fill="#3c5f8e"/>
<circle cx="198.6" cy="371.2" r="0.62" fill="#3c5f8e"/>
<circle cx="199.0" cy="360.6" r="0.62" fill="#3c5f8e"/>
<circle cx="202.4" cy="367.0" r="0.62" fill="#3c5f8e"/>
<circle cx="194.0" cy="366.2" r="0.62" fill="#3c5f8e"/>
<circle cx="197.0" cy="370.6" r="0.62" fill="#3c5f8e"/>
<circle cx="197.5" cy="370.5" r="0.62" fill="#3c5f8e"/>
<circle cx="200.9" cy="364.1" r="0.62" fill="#3c5f8e"/>
<circle cx="198.0" cy="361.4" r="0.62" fill="#3c5f8e"/>
<circle cx="201.7" cy="366.6" r="0.62" fill="#3c5f8e"/>
<circle cx="199.8" cy="371.0" r="0.62" fill="#3c5f8e"/>
<circle cx="199.1" cy="372.5" r="0.62" fill="#3c5f8e"/>
<circle cx="198.2" cy="372.5" r="0.62" fill="#3c5f8e"/>
<circle cx="199.2" cy="362.5" r="0.62" fill="#3c5f8e"/>
<circle cx="200.4" cy="363.5" r="0.62" fill="#3c5f8e"/>
<circle cx="199.3" cy="368.3" r="0.62" fill="#3c5f8e"/>
<circle cx="199.3" cy="371.1" r="0.62" fill="#3c5f8e"/>
<circle cx="198.4" cy="363.8" r="0.62" fill="#3c5f8e"/>
<circle cx="200.6" cy="371.1" r="0.62" fill="#3c5f8e"/>
<circle cx="200.5" cy="362.4" r="0.62" fill="#3c5f8e"/>
<circle cx="199.1" cy="372.8" r="0.62" fill="#3c5f8e"/>
<circle cx="195.4" cy="367.3" r="0.62" fill="#3c5f8e"/>
<circle cx="199.1" cy="366.8" r="0.62" fill="#3c5f8e"/>
<circle cx="193.7" cy="367.8" r="0.62" fill="#3c5f8e"/>
<circle cx="199.1" cy="372.8" r="0.62" fill="#3c5f8e"/>
<circle cx="201.6" cy="365.0" r="0.62" fill="#3c5f8e"/>
<circle cx="199.0" cy="367.2" r="0.62" fill="#3c5f8e"/>
<circle cx="195.4" cy="369.0" r="0.62" fill="#3c5f8e"/>
<circle cx="198.1" cy="366.9" r="0.62" fill="#3c5f8e"/>
<circle cx="199.9" cy="372.6" r="0.62" fill="#3c5f8e"/>
<circle cx="199.0" cy="363.2" r="0.62" fill="#3c5f8e"/>
<circle cx="198.9" cy="361.2" r="0.62" fill="#3c5f8e"/>
<circle cx="200.9" cy="370.7" r="0.62" fill="#3c5f8e"/>
<circle cx="197.2" cy="366.0" r="0.62" fill="#3c5f8e"/>
<circle cx="199.5" cy="362.1" r="0.62" fill="#3c5f8e"/>
<circle cx="198.2" cy="372.2" r="0.62" fill="#3c5f8e"/>
<circle cx="196.5" cy="370.2" r="0.62" fill="#3c5f8e"/>
<rect x="198.5" y="353.2" width="1.2" height="1.3" fill="#3c5f8e" opacity="0.7"/>
<circle cx="217.2" cy="347.5" r="0.65" fill="#a51f38"/>
<circle cx="217.3" cy="358.8" r="0.65" fill="#a51f38"/>
<circle cx="217.5" cy="351.2" r="0.65" fill="#a51f38"/>
<circle cx="217.5" cy="345.4" r="0.65" fill="#a51f38"/>
<circle cx="217.4" cy="345.8" r="0.65" fill="#a51f38"/>
<circle cx="217.2" cy="348.8" r="0.65" fill="#a51f38"/>
<circle cx="217.4" cy="355.2" r="0.65" fill="#a51f38"/>
<circle cx="217.3" cy="351.6" r="0.65" fill="#a51f38"/>
<polygon points="216.60,371.60 216.30,380.00 216.10,387.00 215.60,389.20 211.90,389.90 211.20,390.40 211.10,392.80 223.70,392.80 223.60,390.40 222.90,389.90 219.20,389.20 218.70,387.00 218.50,380.00 218.20,371.60" fill="#a51f38" opacity="0.85"/>
<circle cx="216.4" cy="382.8" r="0.62" fill="#a51f38"/>
<circle cx="217.7" cy="375.9" r="0.62" fill="#a51f38"/>
<circle cx="217.5" cy="385.1" r="0.62" fill="#a51f38"/>
<circle cx="218.4" cy="389.6" r="0.62" fill="#a51f38"/>
<circle cx="214.7" cy="389.8" r="0.62" fill="#a51f38"/>
<circle cx="218.4" cy="387.3" r="0.62" fill="#a51f38"/>
<circle cx="215.0" cy="390.7" r="0.62" fill="#a51f38"/>
<circle cx="218.5" cy="378.3" r="0.62" fill="#a51f38"/>
<circle cx="218.7" cy="376.2" r="0.62" fill="#a51f38"/>
<circle cx="212.6" cy="390.4" r="0.62" fill="#a51f38"/>
<circle cx="218.0" cy="376.7" r="0.62" fill="#a51f38"/>
<circle cx="216.4" cy="377.1" r="0.62" fill="#a51f38"/>
<circle cx="217.0" cy="389.2" r="0.62" fill="#a51f38"/>
<circle cx="216.0" cy="388.3" r="0.62" fill="#a51f38"/>
<circle cx="217.9" cy="380.1" r="0.62" fill="#a51f38"/>
<circle cx="216.7" cy="372.0" r="0.62" fill="#a51f38"/>
<circle cx="218.7" cy="386.1" r="0.62" fill="#a51f38"/>
<circle cx="212.3" cy="392.1" r="0.62" fill="#a51f38"/>
<circle cx="218.2" cy="382.3" r="0.62" fill="#a51f38"/>
<circle cx="217.9" cy="382.3" r="0.62" fill="#a51f38"/>
<circle cx="216.3" cy="375.6" r="0.62" fill="#a51f38"/>
<circle cx="216.3" cy="373.9" r="0.62" fill="#a51f38"/>
<circle cx="217.4" cy="383.3" r="0.62" fill="#a51f38"/>
<circle cx="216.3" cy="383.7" r="0.62" fill="#a51f38"/>
<circle cx="216.7" cy="375.5" r="0.62" fill="#a51f38"/>
<circle cx="220.6" cy="389.4" r="0.62" fill="#a51f38"/>
<circle cx="212.1" cy="391.3" r="0.62" fill="#a51f38"/>
<circle cx="218.4" cy="372.9" r="0.62" fill="#a51f38"/>
<circle cx="218.2" cy="381.4" r="0.62" fill="#a51f38"/>
<circle cx="217.3" cy="378.5" r="0.62" fill="#a51f38"/>
<circle cx="217.2" cy="382.5" r="0.62" fill="#a51f38"/>
<circle cx="215.9" cy="384.3" r="0.62" fill="#a51f38"/>
<circle cx="218.5" cy="386.5" r="0.62" fill="#a51f38"/>
<circle cx="217.3" cy="375.4" r="0.62" fill="#a51f38"/>
<circle cx="217.1" cy="387.3" r="0.62" fill="#a51f38"/>
<circle cx="216.6" cy="375.7" r="0.62" fill="#a51f38"/>
<circle cx="216.0" cy="382.5" r="0.62" fill="#a51f38"/>
<circle cx="221.3" cy="390.5" r="0.62" fill="#a51f38"/>
<circle cx="218.5" cy="386.5" r="0.62" fill="#a51f38"/>
<circle cx="217.1" cy="384.9" r="0.62" fill="#a51f38"/>
<circle cx="217.4" cy="384.3" r="0.62" fill="#a51f38"/>
<circle cx="221.4" cy="392.4" r="0.62" fill="#a51f38"/>
<circle cx="218.5" cy="377.1" r="0.62" fill="#a51f38"/>
<circle cx="218.3" cy="387.4" r="0.62" fill="#a51f38"/>
<circle cx="217.0" cy="388.9" r="0.62" fill="#a51f38"/>
<circle cx="222.3" cy="390.6" r="0.62" fill="#a51f38"/>
<circle cx="218.2" cy="386.3" r="0.62" fill="#a51f38"/>
<circle cx="217.1" cy="387.8" r="0.62" fill="#a51f38"/>
<circle cx="216.0" cy="386.9" r="0.62" fill="#a51f38"/>
<circle cx="217.3" cy="378.8" r="0.62" fill="#a51f38"/>
<circle cx="217.1" cy="371.8" r="0.62" fill="#a51f38"/>
<circle cx="217.8" cy="385.1" r="0.62" fill="#a51f38"/>
<circle cx="218.5" cy="376.5" r="0.62" fill="#a51f38"/>
<circle cx="216.9" cy="385.7" r="0.62" fill="#a51f38"/>
<circle cx="217.6" cy="385.6" r="0.62" fill="#a51f38"/>
<circle cx="217.1" cy="382.9" r="0.62" fill="#a51f38"/>
<circle cx="219.3" cy="392.8" r="0.62" fill="#a51f38"/>
<circle cx="218.2" cy="386.5" r="0.62" fill="#a51f38"/>
<circle cx="211.1" cy="392.4" r="0.62" fill="#a51f38"/>
<circle cx="218.1" cy="384.6" r="0.62" fill="#a51f38"/>
<circle cx="217.1" cy="377.0" r="0.62" fill="#a51f38"/>
<circle cx="216.7" cy="372.7" r="0.62" fill="#a51f38"/>
<circle cx="216.3" cy="379.6" r="0.62" fill="#a51f38"/>
<circle cx="218.4" cy="376.9" r="0.62" fill="#a51f38"/>
<circle cx="217.4" cy="383.3" r="0.62" fill="#a51f38"/>
<circle cx="218.3" cy="392.1" r="0.62" fill="#a51f38"/>
<circle cx="219.2" cy="392.7" r="0.62" fill="#a51f38"/>
<circle cx="215.7" cy="388.8" r="0.62" fill="#a51f38"/>
<circle cx="218.2" cy="384.3" r="0.62" fill="#a51f38"/>
<circle cx="218.4" cy="372.6" r="0.62" fill="#a51f38"/>
<line x1="213.90" y1="383.20" x2="220.90" y2="383.20" stroke="#dd9aaa" stroke-width="2.8" />
<line x1="210.90" y1="383.20" x2="223.90" y2="383.20" stroke="#2b2b2b" stroke-width="0.9" />
<line x1="228.90" y1="388.20" x2="241.90" y2="388.20" stroke="#2b2b2b" stroke-width="0.9" />
<polygon points="234.60,373.20 232.90,376.00 230.90,380.00 230.20,385.00 230.40,392.00 231.90,398.00 233.60,402.00 234.80,404.20 236.00,404.20 237.20,402.00 238.90,398.00 240.40,392.00 240.60,385.00 239.90,380.00 237.90,376.00 236.20,373.20" fill="#a51f38" opacity="0.75"/>
<circle cx="235.2" cy="378.2" r="0.62" fill="#a51f38"/>
<circle cx="235.4" cy="378.4" r="0.62" fill="#a51f38"/>
<circle cx="230.8" cy="392.1" r="0.62" fill="#a51f38"/>
<circle cx="235.1" cy="402.5" r="0.62" fill="#a51f38"/>
<circle cx="236.5" cy="389.5" r="0.62" fill="#a51f38"/>
<circle cx="233.1" cy="384.5" r="0.62" fill="#a51f38"/>
<circle cx="236.0" cy="393.5" r="0.62" fill="#a51f38"/>
<circle cx="237.6" cy="382.0" r="0.62" fill="#a51f38"/>
<circle cx="230.4" cy="382.4" r="0.62" fill="#a51f38"/>
<circle cx="230.9" cy="380.8" r="0.62" fill="#a51f38"/>
<circle cx="237.3" cy="378.1" r="0.62" fill="#a51f38"/>
<circle cx="239.8" cy="385.3" r="0.62" fill="#a51f38"/>
<circle cx="231.6" cy="396.4" r="0.62" fill="#a51f38"/>
<circle cx="236.4" cy="403.9" r="0.62" fill="#a51f38"/>
<circle cx="237.4" cy="375.5" r="0.62" fill="#a51f38"/>
<circle cx="235.2" cy="386.5" r="0.62" fill="#a51f38"/>
<circle cx="234.7" cy="403.4" r="0.62" fill="#a51f38"/>
<circle cx="240.1" cy="389.4" r="0.62" fill="#a51f38"/>
<circle cx="235.1" cy="395.6" r="0.62" fill="#a51f38"/>
<circle cx="236.2" cy="403.5" r="0.62" fill="#a51f38"/>
<circle cx="231.3" cy="391.9" r="0.62" fill="#a51f38"/>
<circle cx="234.9" cy="392.6" r="0.62" fill="#a51f38"/>
<circle cx="231.3" cy="379.5" r="0.62" fill="#a51f38"/>
<circle cx="231.4" cy="389.6" r="0.62" fill="#a51f38"/>
<circle cx="237.2" cy="386.9" r="0.62" fill="#a51f38"/>
<circle cx="232.8" cy="387.3" r="0.62" fill="#a51f38"/>
<circle cx="234.5" cy="391.2" r="0.62" fill="#a51f38"/>
<circle cx="235.6" cy="397.3" r="0.62" fill="#a51f38"/>
<circle cx="236.3" cy="404.1" r="0.62" fill="#a51f38"/>
<circle cx="233.1" cy="396.0" r="0.62" fill="#a51f38"/>
<circle cx="237.9" cy="376.7" r="0.62" fill="#a51f38"/>
<circle cx="236.4" cy="397.5" r="0.62" fill="#a51f38"/>
<circle cx="232.9" cy="384.3" r="0.62" fill="#a51f38"/>
<circle cx="236.0" cy="394.4" r="0.62" fill="#a51f38"/>
<circle cx="236.8" cy="391.5" r="0.62" fill="#a51f38"/>
<circle cx="232.8" cy="396.6" r="0.62" fill="#a51f38"/>
<circle cx="240.1" cy="380.9" r="0.62" fill="#a51f38"/>
<circle cx="237.1" cy="401.6" r="0.62" fill="#a51f38"/>
<circle cx="233.8" cy="374.4" r="0.62" fill="#a51f38"/>
<circle cx="234.6" cy="381.6" r="0.62" fill="#a51f38"/>
<circle cx="231.3" cy="392.5" r="0.62" fill="#a51f38"/>
<circle cx="230.8" cy="390.0" r="0.62" fill="#a51f38"/>
<circle cx="236.4" cy="375.9" r="0.62" fill="#a51f38"/>
<circle cx="236.8" cy="390.3" r="0.62" fill="#a51f38"/>
<circle cx="235.2" cy="384.8" r="0.62" fill="#a51f38"/>
<circle cx="233.9" cy="379.7" r="0.62" fill="#a51f38"/>
<circle cx="238.3" cy="396.3" r="0.62" fill="#a51f38"/>
<circle cx="233.5" cy="375.5" r="0.62" fill="#a51f38"/>
<circle cx="236.3" cy="398.3" r="0.62" fill="#a51f38"/>
<circle cx="233.1" cy="397.0" r="0.62" fill="#a51f38"/>
<circle cx="232.8" cy="386.4" r="0.62" fill="#a51f38"/>
<circle cx="234.4" cy="398.3" r="0.62" fill="#a51f38"/>
<circle cx="240.2" cy="393.5" r="0.62" fill="#a51f38"/>
<circle cx="235.9" cy="383.3" r="0.62" fill="#a51f38"/>
<circle cx="238.9" cy="396.3" r="0.62" fill="#a51f38"/>
<circle cx="234.0" cy="386.5" r="0.62" fill="#a51f38"/>
<circle cx="237.6" cy="376.2" r="0.62" fill="#a51f38"/>
<circle cx="233.3" cy="375.6" r="0.62" fill="#a51f38"/>
<circle cx="235.2" cy="390.7" r="0.62" fill="#a51f38"/>
<circle cx="233.5" cy="394.4" r="0.62" fill="#a51f38"/>
<circle cx="232.0" cy="397.2" r="0.62" fill="#a51f38"/>
<circle cx="236.9" cy="379.8" r="0.62" fill="#a51f38"/>
<circle cx="234.4" cy="375.7" r="0.62" fill="#a51f38"/>
<circle cx="237.1" cy="395.7" r="0.62" fill="#a51f38"/>
<circle cx="231.8" cy="382.0" r="0.62" fill="#a51f38"/>
<circle cx="237.8" cy="384.3" r="0.62" fill="#a51f38"/>
<circle cx="231.2" cy="384.6" r="0.62" fill="#a51f38"/>
<circle cx="236.0" cy="395.2" r="0.62" fill="#a51f38"/>
<circle cx="237.4" cy="401.7" r="0.62" fill="#a51f38"/>
<circle cx="235.1" cy="401.5" r="0.62" fill="#a51f38"/>
<circle cx="233.9" cy="398.1" r="0.62" fill="#a51f38"/>
<circle cx="234.4" cy="383.0" r="0.62" fill="#a51f38"/>
<circle cx="237.0" cy="402.2" r="0.62" fill="#a51f38"/>
<circle cx="234.0" cy="380.9" r="0.62" fill="#a51f38"/>
<circle cx="233.9" cy="384.5" r="0.62" fill="#a51f38"/>
<circle cx="234.2" cy="385.5" r="0.62" fill="#a51f38"/>
<circle cx="236.0" cy="379.2" r="0.62" fill="#a51f38"/>
<circle cx="235.7" cy="397.9" r="0.62" fill="#a51f38"/>
<circle cx="235.8" cy="399.1" r="0.62" fill="#a51f38"/>
<circle cx="237.5" cy="378.7" r="0.62" fill="#a51f38"/>
<circle cx="234.2" cy="400.5" r="0.62" fill="#a51f38"/>
<circle cx="235.4" cy="373.9" r="0.62" fill="#a51f38"/>
<circle cx="236.1" cy="390.1" r="0.62" fill="#a51f38"/>
<circle cx="235.8" cy="403.2" r="0.62" fill="#a51f38"/>
<circle cx="232.1" cy="398.1" r="0.62" fill="#a51f38"/>
<circle cx="238.5" cy="390.2" r="0.62" fill="#a51f38"/>
<circle cx="233.2" cy="375.8" r="0.62" fill="#a51f38"/>
<circle cx="238.8" cy="396.0" r="0.62" fill="#a51f38"/>
<circle cx="236.1" cy="375.8" r="0.62" fill="#a51f38"/>
<circle cx="237.2" cy="377.7" r="0.62" fill="#a51f38"/>
<circle cx="232.9" cy="393.3" r="0.62" fill="#a51f38"/>
<circle cx="237.9" cy="380.0" r="0.62" fill="#a51f38"/>
<circle cx="238.2" cy="389.4" r="0.62" fill="#a51f38"/>
<circle cx="233.6" cy="385.4" r="0.62" fill="#a51f38"/>
<circle cx="235.9" cy="403.2" r="0.62" fill="#a51f38"/>
<circle cx="235.8" cy="388.5" r="0.62" fill="#a51f38"/>
<circle cx="237.2" cy="395.5" r="0.62" fill="#a51f38"/>
<circle cx="235.0" cy="401.6" r="0.62" fill="#a51f38"/>
<circle cx="236.6" cy="398.8" r="0.62" fill="#a51f38"/>
<circle cx="237.3" cy="399.7" r="0.62" fill="#a51f38"/>
<circle cx="238.0" cy="399.0" r="0.62" fill="#a51f38"/>
<circle cx="235.9" cy="402.9" r="0.62" fill="#a51f38"/>
<circle cx="237.7" cy="389.4" r="0.62" fill="#a51f38"/>
<circle cx="234.8" cy="398.1" r="0.62" fill="#a51f38"/>
<circle cx="231.5" cy="386.2" r="0.62" fill="#a51f38"/>
<circle cx="239.6" cy="396.2" r="0.62" fill="#a51f38"/>
<circle cx="231.8" cy="384.8" r="0.62" fill="#a51f38"/>
<circle cx="234.7" cy="379.5" r="0.62" fill="#a51f38"/>
<circle cx="240.2" cy="382.3" r="0.62" fill="#a51f38"/>
<circle cx="234.6" cy="375.0" r="0.62" fill="#a51f38"/>
<circle cx="236.3" cy="376.8" r="0.62" fill="#a51f38"/>
<circle cx="232.8" cy="397.3" r="0.62" fill="#a51f38"/>
<circle cx="235.2" cy="375.1" r="0.62" fill="#a51f38"/>
<circle cx="239.8" cy="391.3" r="0.62" fill="#a51f38"/>
<circle cx="234.0" cy="374.3" r="0.62" fill="#a51f38"/>
<circle cx="233.0" cy="378.9" r="0.62" fill="#a51f38"/>
<circle cx="237.5" cy="380.5" r="0.62" fill="#a51f38"/>
<circle cx="232.5" cy="391.6" r="0.62" fill="#a51f38"/>
<circle cx="233.5" cy="378.9" r="0.62" fill="#a51f38"/>
<circle cx="237.5" cy="378.5" r="0.62" fill="#a51f38"/>
<circle cx="235.9" cy="382.9" r="0.62" fill="#a51f38"/>
<circle cx="235.3" cy="398.5" r="0.62" fill="#a51f38"/>
<circle cx="239.3" cy="381.3" r="0.62" fill="#a51f38"/>
<circle cx="234.7" cy="401.5" r="0.62" fill="#a51f38"/>
<circle cx="240.3" cy="390.2" r="0.62" fill="#a51f38"/>
<circle cx="232.4" cy="388.2" r="0.62" fill="#a51f38"/>
<circle cx="237.2" cy="374.7" r="0.62" fill="#a51f38"/>
<circle cx="234.5" cy="398.0" r="0.62" fill="#a51f38"/>
<circle cx="235.6" cy="389.6" r="0.62" fill="#a51f38"/>
<circle cx="240.3" cy="381.7" r="0.62" fill="#a51f38"/>
<circle cx="232.8" cy="393.6" r="0.62" fill="#a51f38"/>
<circle cx="235.3" cy="373.5" r="0.62" fill="#a51f38"/>
<circle cx="238.6" cy="384.7" r="0.62" fill="#a51f38"/>
<circle cx="236.3" cy="395.3" r="0.62" fill="#a51f38"/>
<circle cx="232.8" cy="378.1" r="0.62" fill="#a51f38"/>
<circle cx="232.9" cy="383.2" r="0.62" fill="#a51f38"/>
<circle cx="235.5" cy="400.1" r="0.62" fill="#a51f38"/>
<circle cx="240.4" cy="392.9" r="0.62" fill="#a51f38"/>
<circle cx="235.7" cy="381.5" r="0.62" fill="#a51f38"/>
<circle cx="237.4" cy="377.9" r="0.62" fill="#a51f38"/>
<circle cx="236.1" cy="373.2" r="0.62" fill="#a51f38"/>
<circle cx="237.5" cy="399.4" r="0.62" fill="#a51f38"/>
<circle cx="234.2" cy="375.8" r="0.62" fill="#a51f38"/>
<circle cx="231.8" cy="395.4" r="0.62" fill="#a51f38"/>
<circle cx="235.1" cy="388.1" r="0.62" fill="#a51f38"/>
<circle cx="235.7" cy="402.8" r="0.62" fill="#a51f38"/>
<circle cx="234.2" cy="399.8" r="0.62" fill="#a51f38"/>
<circle cx="234.8" cy="397.7" r="0.62" fill="#a51f38"/>
<circle cx="233.5" cy="401.6" r="0.62" fill="#a51f38"/>
<circle cx="233.4" cy="398.8" r="0.62" fill="#a51f38"/>
<circle cx="235.7" cy="390.0" r="0.62" fill="#a51f38"/>
<circle cx="238.0" cy="378.1" r="0.62" fill="#a51f38"/>
<circle cx="233.4" cy="382.9" r="0.62" fill="#a51f38"/>
<circle cx="234.4" cy="375.6" r="0.62" fill="#a51f38"/>
<circle cx="237.7" cy="387.7" r="0.62" fill="#a51f38"/>
<circle cx="237.4" cy="384.4" r="0.62" fill="#a51f38"/>
<circle cx="234.8" cy="376.5" r="0.62" fill="#a51f38"/>
<circle cx="240.5" cy="387.5" r="0.62" fill="#a51f38"/>
<circle cx="236.4" cy="398.9" r="0.62" fill="#a51f38"/>
<circle cx="235.1" cy="373.6" r="0.62" fill="#a51f38"/>
<circle cx="233.0" cy="395.2" r="0.62" fill="#a51f38"/>
<circle cx="235.0" cy="390.7" r="0.62" fill="#a51f38"/>
<circle cx="236.7" cy="373.5" r="0.62" fill="#a51f38"/>
<circle cx="233.2" cy="398.0" r="0.62" fill="#a51f38"/>
<circle cx="233.2" cy="392.3" r="0.62" fill="#a51f38"/>
<circle cx="235.8" cy="384.9" r="0.62" fill="#a51f38"/>
<circle cx="233.7" cy="382.4" r="0.62" fill="#a51f38"/>
<circle cx="237.2" cy="385.4" r="0.62" fill="#a51f38"/>
<circle cx="232.4" cy="381.1" r="0.62" fill="#a51f38"/>
<circle cx="233.9" cy="395.9" r="0.62" fill="#a51f38"/>
<circle cx="235.6" cy="402.5" r="0.62" fill="#a51f38"/>
<circle cx="233.9" cy="395.6" r="0.62" fill="#a51f38"/>
<circle cx="232.6" cy="398.8" r="0.62" fill="#a51f38"/>
<circle cx="232.5" cy="377.6" r="0.62" fill="#a51f38"/>
<circle cx="237.4" cy="394.2" r="0.62" fill="#a51f38"/>
<circle cx="234.6" cy="378.8" r="0.62" fill="#a51f38"/>
<circle cx="236.0" cy="399.1" r="0.62" fill="#a51f38"/>
<circle cx="233.9" cy="376.0" r="0.62" fill="#a51f38"/>
<circle cx="232.5" cy="378.1" r="0.62" fill="#a51f38"/>
<circle cx="230.7" cy="385.8" r="0.62" fill="#a51f38"/>
<circle cx="235.1" cy="401.7" r="0.62" fill="#a51f38"/>
<circle cx="237.0" cy="389.1" r="0.62" fill="#a51f38"/>
<circle cx="238.0" cy="397.0" r="0.62" fill="#a51f38"/>
<circle cx="233.5" cy="385.2" r="0.62" fill="#a51f38"/>
<circle cx="230.1" cy="386.0" r="0.62" fill="#a51f38"/>
<circle cx="237.6" cy="385.6" r="0.62" fill="#a51f38"/>
<circle cx="236.1" cy="403.6" r="0.62" fill="#a51f38"/>
<circle cx="236.5" cy="393.7" r="0.62" fill="#a51f38"/>
<circle cx="234.9" cy="373.8" r="0.62" fill="#a51f38"/>
<circle cx="237.0" cy="383.8" r="0.62" fill="#a51f38"/>
<circle cx="234.7" cy="376.5" r="0.62" fill="#a51f38"/>
<circle cx="238.5" cy="389.0" r="0.62" fill="#a51f38"/>
<circle cx="236.2" cy="398.8" r="0.62" fill="#a51f38"/>
<circle cx="237.5" cy="378.1" r="0.62" fill="#a51f38"/>
<circle cx="235.6" cy="401.2" r="0.62" fill="#a51f38"/>
<circle cx="235.4" cy="384.1" r="0.62" fill="#a51f38"/>
<circle cx="236.9" cy="377.6" r="0.62" fill="#a51f38"/>
<circle cx="235.4" cy="403.8" r="0.62" fill="#a51f38"/>
<circle cx="238.4" cy="395.4" r="0.62" fill="#a51f38"/>
<circle cx="239.4" cy="379.3" r="0.62" fill="#a51f38"/>
<circle cx="232.3" cy="392.6" r="0.62" fill="#a51f38"/>
<circle cx="234.0" cy="375.8" r="0.62" fill="#a51f38"/>
<circle cx="237.5" cy="391.1" r="0.62" fill="#a51f38"/>
<circle cx="239.9" cy="383.4" r="0.62" fill="#a51f38"/>
<circle cx="235.0" cy="384.4" r="0.62" fill="#a51f38"/>
<circle cx="238.5" cy="377.0" r="0.62" fill="#a51f38"/>
<circle cx="238.2" cy="377.4" r="0.62" fill="#a51f38"/>
<circle cx="236.1" cy="390.0" r="0.62" fill="#a51f38"/>
<circle cx="232.9" cy="390.6" r="0.62" fill="#a51f38"/>
<circle cx="237.7" cy="401.4" r="0.62" fill="#a51f38"/>
<circle cx="236.1" cy="398.5" r="0.62" fill="#a51f38"/>
<circle cx="237.5" cy="377.0" r="0.62" fill="#a51f38"/>
<circle cx="239.4" cy="382.1" r="0.62" fill="#a51f38"/>
<circle cx="236.1" cy="380.7" r="0.62" fill="#a51f38"/>
<circle cx="233.3" cy="399.0" r="0.62" fill="#a51f38"/>
<circle cx="230.9" cy="390.2" r="0.62" fill="#a51f38"/>
<circle cx="234.3" cy="374.2" r="0.62" fill="#a51f38"/>
<circle cx="236.4" cy="403.8" r="0.62" fill="#a51f38"/>
<circle cx="233.5" cy="393.6" r="0.62" fill="#a51f38"/>
<circle cx="237.7" cy="394.0" r="0.62" fill="#a51f38"/>
<circle cx="254.3" cy="382.2" r="0.6" fill="#a51f38"/>
<circle cx="253.7" cy="386.2" r="0.6" fill="#a51f38"/>
<circle cx="254.2" cy="380.6" r="0.6" fill="#a51f38"/>
<circle cx="254.1" cy="380.0" r="0.6" fill="#a51f38"/>
<circle cx="253.9" cy="384.0" r="0.6" fill="#a51f38"/>
<circle cx="254.0" cy="383.5" r="0.6" fill="#a51f38"/>
<circle cx="254.0" cy="384.0" r="0.6" fill="#a51f38"/>
<circle cx="253.7" cy="384.7" r="0.6" fill="#a51f38"/>
<polygon points="253.60,383.00 253.40,389.00 251.70,389.90 248.70,390.40 247.90,390.80 247.80,392.80 260.60,392.80 260.50,390.80 259.70,390.40 256.70,389.90 255.00,389.00 254.80,383.00" fill="#a51f38" opacity="0.85"/>
<circle cx="252.6" cy="389.6" r="0.62" fill="#a51f38"/>
<circle cx="255.5" cy="392.4" r="0.62" fill="#a51f38"/>
<circle cx="254.0" cy="387.6" r="0.62" fill="#a51f38"/>
<circle cx="254.7" cy="389.1" r="0.62" fill="#a51f38"/>
<circle cx="257.1" cy="390.4" r="0.62" fill="#a51f38"/>
<circle cx="255.2" cy="387.8" r="0.62" fill="#a51f38"/>
<circle cx="258.9" cy="391.2" r="0.62" fill="#a51f38"/>
<circle cx="254.1" cy="387.0" r="0.62" fill="#a51f38"/>
<circle cx="255.1" cy="388.5" r="0.62" fill="#a51f38"/>
<circle cx="254.3" cy="388.2" r="0.62" fill="#a51f38"/>
<circle cx="255.0" cy="387.2" r="0.62" fill="#a51f38"/>
<circle cx="253.3" cy="386.1" r="0.62" fill="#a51f38"/>
<circle cx="257.5" cy="390.1" r="0.62" fill="#a51f38"/>
<circle cx="255.1" cy="390.2" r="0.62" fill="#a51f38"/>
<circle cx="252.0" cy="390.4" r="0.62" fill="#a51f38"/>
<circle cx="253.3" cy="388.8" r="0.62" fill="#a51f38"/>
<circle cx="254.1" cy="384.2" r="0.62" fill="#a51f38"/>
<circle cx="254.0" cy="387.9" r="0.62" fill="#a51f38"/>
<circle cx="254.6" cy="383.5" r="0.62" fill="#a51f38"/>
<circle cx="253.6" cy="388.2" r="0.62" fill="#a51f38"/>
<circle cx="254.0" cy="386.0" r="0.62" fill="#a51f38"/>
<circle cx="253.4" cy="385.3" r="0.62" fill="#a51f38"/>
<circle cx="260.4" cy="391.9" r="0.62" fill="#a51f38"/>
<circle cx="255.7" cy="389.5" r="0.62" fill="#a51f38"/>
<circle cx="254.8" cy="387.1" r="0.62" fill="#a51f38"/>
<circle cx="254.7" cy="385.2" r="0.62" fill="#a51f38"/>
<circle cx="255.1" cy="388.6" r="0.62" fill="#a51f38"/>
<circle cx="254.7" cy="384.0" r="0.62" fill="#a51f38"/>
<circle cx="254.3" cy="384.2" r="0.62" fill="#a51f38"/>
<circle cx="247.5" cy="392.3" r="0.62" fill="#a51f38"/>
<circle cx="253.8" cy="385.4" r="0.62" fill="#a51f38"/>
<circle cx="253.3" cy="386.2" r="0.62" fill="#a51f38"/>
<circle cx="258.4" cy="391.8" r="0.62" fill="#a51f38"/>
<circle cx="253.9" cy="386.9" r="0.62" fill="#a51f38"/>
<circle cx="253.2" cy="388.7" r="0.62" fill="#a51f38"/>
<circle cx="254.9" cy="383.3" r="0.62" fill="#a51f38"/>
<circle cx="254.2" cy="386.0" r="0.62" fill="#a51f38"/>
<circle cx="260.6" cy="392.2" r="0.62" fill="#a51f38"/>
<circle cx="253.6" cy="387.6" r="0.62" fill="#a51f38"/>
<circle cx="255.0" cy="385.9" r="0.62" fill="#a51f38"/>
<circle cx="250.2" cy="391.8" r="0.62" fill="#a51f38"/>
<circle cx="252.3" cy="391.2" r="0.62" fill="#a51f38"/>
<circle cx="253.5" cy="387.6" r="0.62" fill="#a51f38"/>
<circle cx="260.8" cy="391.6" r="0.62" fill="#a51f38"/>
<circle cx="254.5" cy="385.0" r="0.62" fill="#a51f38"/>
<line x1="295.50" y1="343.00" x2="295.50" y2="354.30" stroke="#231f20" stroke-width="1.0" />
<line x1="295.50" y1="358.90" x2="295.50" y2="407.00" stroke="#231f20" stroke-width="1.0" />
<line x1="295.00" y1="406.50" x2="389.10" y2="406.50" stroke="#231f20" stroke-width="1.0" />
<line x1="292.20" y1="344.50" x2="295.50" y2="344.50" stroke="#231f20" stroke-width="1.0" />
<text x="289.70" y="346.70" font-size="5.2" fill="#231f20" text-anchor="end" >120</text>
<line x1="292.20" y1="348.50" x2="295.50" y2="348.50" stroke="#231f20" stroke-width="1.0" />
<text x="289.70" y="350.10" font-size="5.2" fill="#231f20" text-anchor="end" >100</text>
<line x1="292.20" y1="352.50" x2="295.50" y2="352.50" stroke="#231f20" stroke-width="1.0" />
<text x="289.70" y="353.90" font-size="5.2" fill="#231f20" text-anchor="end" >80</text>
<line x1="292.20" y1="359.50" x2="295.50" y2="359.50" stroke="#231f20" stroke-width="1.0" />
<text x="289.70" y="361.60" font-size="6.6" fill="#231f20" text-anchor="end" >30</text>
<line x1="292.20" y1="366.50" x2="295.50" y2="366.50" stroke="#231f20" stroke-width="1.0" />
<text x="289.70" y="369.10" font-size="6.6" fill="#231f20" text-anchor="end" >25</text>
<line x1="292.20" y1="374.50" x2="295.50" y2="374.50" stroke="#231f20" stroke-width="1.0" />
<text x="289.70" y="376.50" font-size="6.6" fill="#231f20" text-anchor="end" >20</text>
<line x1="292.20" y1="382.50" x2="295.50" y2="382.50" stroke="#231f20" stroke-width="1.0" />
<text x="289.70" y="384.40" font-size="6.6" fill="#231f20" text-anchor="end" >15</text>
<line x1="292.20" y1="390.50" x2="295.50" y2="390.50" stroke="#231f20" stroke-width="1.0" />
<text x="289.70" y="392.80" font-size="6.6" fill="#231f20" text-anchor="end" >10</text>
<line x1="292.20" y1="398.50" x2="295.50" y2="398.50" stroke="#231f20" stroke-width="1.0" />
<text x="289.70" y="400.70" font-size="6.6" fill="#231f20" text-anchor="end" >5</text>
<line x1="292.20" y1="406.50" x2="295.50" y2="406.50" stroke="#231f20" stroke-width="1.0" />
<text x="289.70" y="408.60" font-size="6.6" fill="#231f20" text-anchor="end" >0</text>
<path d="M293.90,354.90 L295.50,352.90 L297.10,354.90 Z" fill="#231f20"/>
<line x1="293.30" y1="359.40" x2="297.70" y2="359.40" stroke="#231f20" stroke-width="1.0" />
<line x1="306.50" y1="406.50" x2="306.50" y2="409.30" stroke="#231f20" stroke-width="1.0" />
<text x="0" y="0" font-size="6.8" fill="#231f20" text-anchor="end" transform="translate(309.80,417.50) rotate(-45)" textLength="18.5" lengthAdjust="spacingAndGlyphs">HOVON</text>
<line x1="325.50" y1="406.50" x2="325.50" y2="409.30" stroke="#231f20" stroke-width="1.0" />
<text x="0" y="0" font-size="6.8" fill="#231f20" text-anchor="end" transform="translate(328.50,417.50) rotate(-45)" textLength="20.5" lengthAdjust="spacingAndGlyphs">German</text>
<line x1="344.50" y1="406.50" x2="344.50" y2="409.30" stroke="#231f20" stroke-width="1.0" />
<text x="0" y="0" font-size="6.8" fill="#231f20" text-anchor="end" transform="translate(347.70,417.50) rotate(-45)" textLength="15.5" lengthAdjust="spacingAndGlyphs">TCGA</text>
<line x1="362.50" y1="406.50" x2="362.50" y2="409.30" stroke="#231f20" stroke-width="1.0" />
<text x="0" y="0" font-size="6.8" fill="#231f20" text-anchor="end" transform="translate(365.00,417.50) rotate(-45)" textLength="24" lengthAdjust="spacingAndGlyphs">Beat AML</text>
<line x1="380.50" y1="406.50" x2="380.50" y2="409.30" stroke="#231f20" stroke-width="1.0" />
<text x="0" y="0" font-size="6.8" fill="#231f20" text-anchor="end" transform="translate(383.80,417.50) rotate(-45)" textLength="21" lengthAdjust="spacingAndGlyphs">TARGET</text>
<text x="0" y="0" font-size="10.4" fill="#231f20" transform="translate(274.40,400.60) rotate(-90)" textLength="62.6" lengthAdjust="spacingAndGlyphs"><tspan font-style="italic">LSP1</tspan> mRNA (log<tspan font-size="6" dy="2">2</tspan><tspan dy="-2">)</tspan></text>
<rect x="296.50" y="330.20" width="2.4" height="2.0" fill="#3c5f8e"/>
<text x="301.30" y="333.10" font-size="5.6" fill="#231f20" text-anchor="start" textLength="23.00" lengthAdjust="spacingAndGlyphs" >Affimetrix</text>
<rect x="296.50" y="336.60" width="2.4" height="2.0" fill="#a51f38"/>
<text x="301.30" y="339.40" font-size="5.6" fill="#231f20" text-anchor="start" textLength="37.00" lengthAdjust="spacingAndGlyphs" >RNA sequencing</text>
<polygon points="306.40,389.30 306.10,392.00 304.60,393.50 301.00,394.60 301.20,396.20 304.80,397.20 306.20,398.00 307.40,398.00 308.80,397.20 312.40,396.20 312.60,394.60 309.00,393.50 307.50,392.00 307.20,389.30" fill="#3c5f8e" opacity="0.85"/>
<circle cx="307.5" cy="391.0" r="0.62" fill="#3c5f8e"/>
<circle cx="306.2" cy="389.7" r="0.62" fill="#3c5f8e"/>
<circle cx="304.6" cy="395.6" r="0.62" fill="#3c5f8e"/>
<circle cx="308.7" cy="397.1" r="0.62" fill="#3c5f8e"/>
<circle cx="302.4" cy="395.5" r="0.62" fill="#3c5f8e"/>
<circle cx="312.1" cy="395.4" r="0.62" fill="#3c5f8e"/>
<circle cx="305.0" cy="393.2" r="0.62" fill="#3c5f8e"/>
<circle cx="306.4" cy="391.2" r="0.62" fill="#3c5f8e"/>
<circle cx="303.2" cy="395.5" r="0.62" fill="#3c5f8e"/>
<circle cx="306.3" cy="390.9" r="0.62" fill="#3c5f8e"/>
<circle cx="310.3" cy="395.1" r="0.62" fill="#3c5f8e"/>
<circle cx="307.3" cy="392.5" r="0.62" fill="#3c5f8e"/>
<circle cx="307.3" cy="397.0" r="0.62" fill="#3c5f8e"/>
<circle cx="306.4" cy="391.3" r="0.62" fill="#3c5f8e"/>
<circle cx="307.5" cy="397.4" r="0.62" fill="#3c5f8e"/>
<circle cx="307.1" cy="391.7" r="0.62" fill="#3c5f8e"/>
<circle cx="307.6" cy="390.1" r="0.62" fill="#3c5f8e"/>
<circle cx="306.9" cy="393.1" r="0.62" fill="#3c5f8e"/>
<circle cx="303.3" cy="393.9" r="0.62" fill="#3c5f8e"/>
<circle cx="304.3" cy="394.5" r="0.62" fill="#3c5f8e"/>
<circle cx="307.4" cy="391.5" r="0.62" fill="#3c5f8e"/>
<circle cx="306.5" cy="390.1" r="0.62" fill="#3c5f8e"/>
<circle cx="303.8" cy="395.9" r="0.62" fill="#3c5f8e"/>
<circle cx="306.9" cy="391.7" r="0.62" fill="#3c5f8e"/>
<circle cx="307.5" cy="390.9" r="0.62" fill="#3c5f8e"/>
<circle cx="305.8" cy="397.9" r="0.62" fill="#3c5f8e"/>
<circle cx="308.0" cy="393.3" r="0.62" fill="#3c5f8e"/>
<circle cx="308.2" cy="392.6" r="0.62" fill="#3c5f8e"/>
<circle cx="304.9" cy="393.6" r="0.62" fill="#3c5f8e"/>
<circle cx="308.1" cy="394.1" r="0.62" fill="#3c5f8e"/>
<circle cx="307.3" cy="392.4" r="0.62" fill="#3c5f8e"/>
<circle cx="307.0" cy="396.1" r="0.62" fill="#3c5f8e"/>
<circle cx="309.0" cy="393.7" r="0.62" fill="#3c5f8e"/>
<circle cx="307.0" cy="395.3" r="0.62" fill="#3c5f8e"/>
<circle cx="305.7" cy="397.6" r="0.62" fill="#3c5f8e"/>
<circle cx="302.8" cy="396.1" r="0.62" fill="#3c5f8e"/>
<circle cx="303.6" cy="394.6" r="0.62" fill="#3c5f8e"/>
<circle cx="308.0" cy="393.1" r="0.62" fill="#3c5f8e"/>
<circle cx="310.2" cy="396.1" r="0.62" fill="#3c5f8e"/>
<circle cx="306.8" cy="391.4" r="0.62" fill="#3c5f8e"/>
<circle cx="306.9" cy="391.2" r="0.62" fill="#3c5f8e"/>
<circle cx="304.0" cy="393.6" r="0.62" fill="#3c5f8e"/>
<circle cx="309.3" cy="394.5" r="0.62" fill="#3c5f8e"/>
<circle cx="310.6" cy="394.3" r="0.62" fill="#3c5f8e"/>
<circle cx="306.2" cy="390.9" r="0.62" fill="#3c5f8e"/>
<circle cx="306.8" cy="389.5" r="0.62" fill="#3c5f8e"/>
<circle cx="306.6" cy="393.1" r="0.62" fill="#3c5f8e"/>
<circle cx="307.4" cy="391.6" r="0.62" fill="#3c5f8e"/>
<circle cx="307.4" cy="389.9" r="0.62" fill="#3c5f8e"/>
<circle cx="307.2" cy="394.2" r="0.62" fill="#3c5f8e"/>
<circle cx="303.7" cy="396.2" r="0.62" fill="#3c5f8e"/>
<circle cx="306.5" cy="390.6" r="0.62" fill="#3c5f8e"/>
<circle cx="306.5" cy="389.7" r="0.62" fill="#3c5f8e"/>
<circle cx="307.1" cy="394.7" r="0.62" fill="#3c5f8e"/>
<circle cx="307.0" cy="391.6" r="0.62" fill="#3c5f8e"/>
<circle cx="307.3" cy="390.1" r="0.62" fill="#3c5f8e"/>
<circle cx="306.4" cy="390.8" r="0.62" fill="#3c5f8e"/>
<circle cx="307.1" cy="390.7" r="0.62" fill="#3c5f8e"/>
<circle cx="309.5" cy="396.5" r="0.62" fill="#3c5f8e"/>
<circle cx="306.7" cy="389.8" r="0.62" fill="#3c5f8e"/>
<polygon points="325.10,390.80 324.70,393.00 323.00,394.40 319.50,395.30 319.90,397.00 324.00,397.80 327.00,397.80 331.10,397.00 331.50,395.30 328.00,394.40 326.30,393.00 325.90,390.80" fill="#3c5f8e" opacity="0.85"/>
<circle cx="324.6" cy="393.4" r="0.62" fill="#3c5f8e"/>
<circle cx="322.9" cy="397.6" r="0.62" fill="#3c5f8e"/>
<circle cx="326.9" cy="394.2" r="0.62" fill="#3c5f8e"/>
<circle cx="323.9" cy="397.7" r="0.62" fill="#3c5f8e"/>
<circle cx="326.6" cy="394.0" r="0.62" fill="#3c5f8e"/>
<circle cx="325.1" cy="391.1" r="0.62" fill="#3c5f8e"/>
<circle cx="321.4" cy="397.0" r="0.62" fill="#3c5f8e"/>
<circle cx="324.8" cy="393.6" r="0.62" fill="#3c5f8e"/>
<circle cx="323.8" cy="393.8" r="0.62" fill="#3c5f8e"/>
<circle cx="326.2" cy="391.0" r="0.62" fill="#3c5f8e"/>
<circle cx="328.4" cy="396.1" r="0.62" fill="#3c5f8e"/>
<circle cx="325.0" cy="392.4" r="0.62" fill="#3c5f8e"/>
<circle cx="323.5" cy="394.7" r="0.62" fill="#3c5f8e"/>
<circle cx="327.5" cy="394.0" r="0.62" fill="#3c5f8e"/>
<circle cx="325.0" cy="393.3" r="0.62" fill="#3c5f8e"/>
<circle cx="326.0" cy="397.7" r="0.62" fill="#3c5f8e"/>
<circle cx="325.4" cy="391.1" r="0.62" fill="#3c5f8e"/>
<circle cx="319.9" cy="395.3" r="0.62" fill="#3c5f8e"/>
<circle cx="326.0" cy="393.2" r="0.62" fill="#3c5f8e"/>
<circle cx="326.6" cy="396.9" r="0.62" fill="#3c5f8e"/>
<circle cx="325.1" cy="397.0" r="0.62" fill="#3c5f8e"/>
<circle cx="326.7" cy="393.6" r="0.62" fill="#3c5f8e"/>
<circle cx="326.4" cy="393.5" r="0.62" fill="#3c5f8e"/>
<circle cx="325.2" cy="392.3" r="0.62" fill="#3c5f8e"/>
<circle cx="325.6" cy="392.1" r="0.62" fill="#3c5f8e"/>
<circle cx="325.0" cy="391.9" r="0.62" fill="#3c5f8e"/>
<circle cx="325.4" cy="392.3" r="0.62" fill="#3c5f8e"/>
<circle cx="325.4" cy="393.0" r="0.62" fill="#3c5f8e"/>
<circle cx="326.2" cy="397.8" r="0.62" fill="#3c5f8e"/>
<circle cx="322.0" cy="396.8" r="0.62" fill="#3c5f8e"/>
<circle cx="324.1" cy="393.5" r="0.62" fill="#3c5f8e"/>
<circle cx="323.8" cy="395.6" r="0.62" fill="#3c5f8e"/>
<circle cx="324.5" cy="392.7" r="0.62" fill="#3c5f8e"/>
<circle cx="325.1" cy="392.1" r="0.62" fill="#3c5f8e"/>
<circle cx="327.0" cy="393.6" r="0.62" fill="#3c5f8e"/>
<circle cx="322.6" cy="395.8" r="0.62" fill="#3c5f8e"/>
<circle cx="324.5" cy="393.3" r="0.62" fill="#3c5f8e"/>
<circle cx="324.4" cy="397.4" r="0.62" fill="#3c5f8e"/>
<circle cx="328.2" cy="396.2" r="0.62" fill="#3c5f8e"/>
<circle cx="320.6" cy="397.1" r="0.62" fill="#3c5f8e"/>
<circle cx="325.2" cy="393.1" r="0.62" fill="#3c5f8e"/>
<circle cx="326.1" cy="391.4" r="0.62" fill="#3c5f8e"/>
<circle cx="326.1" cy="393.1" r="0.62" fill="#3c5f8e"/>
<circle cx="322.9" cy="394.4" r="0.62" fill="#3c5f8e"/>
<circle cx="324.6" cy="393.6" r="0.62" fill="#3c5f8e"/>
<circle cx="325.0" cy="391.1" r="0.62" fill="#3c5f8e"/>
<circle cx="320.8" cy="395.0" r="0.62" fill="#3c5f8e"/>
<circle cx="325.3" cy="393.0" r="0.62" fill="#3c5f8e"/>
<circle cx="322.9" cy="394.6" r="0.62" fill="#3c5f8e"/>
<circle cx="322.5" cy="395.7" r="0.62" fill="#3c5f8e"/>
<circle cx="327.5" cy="395.9" r="0.62" fill="#3c5f8e"/>
<circle cx="325.0" cy="391.8" r="0.62" fill="#3c5f8e"/>
<circle cx="325.9" cy="392.8" r="0.62" fill="#3c5f8e"/>
<circle cx="325.1" cy="393.6" r="0.62" fill="#3c5f8e"/>
<circle cx="322.2" cy="396.9" r="0.62" fill="#3c5f8e"/>
<circle cx="325.2" cy="392.8" r="0.62" fill="#3c5f8e"/>
<circle cx="324.6" cy="392.3" r="0.62" fill="#3c5f8e"/>
<circle cx="325.7" cy="391.0" r="0.62" fill="#3c5f8e"/>
<circle cx="328.1" cy="394.8" r="0.62" fill="#3c5f8e"/>
<circle cx="324.4" cy="397.6" r="0.62" fill="#3c5f8e"/>
<polygon points="344.00,346.60 343.10,348.00 341.40,350.00 339.40,352.50 338.40,354.30 351.00,354.30 350.00,352.50 348.00,350.00 346.30,348.00 345.40,346.60" fill="#a51f38" opacity="0.92"/>
<circle cx="348.9" cy="351.8" r="0.62" fill="#a51f38"/>
<circle cx="345.5" cy="348.3" r="0.62" fill="#a51f38"/>
<circle cx="349.2" cy="351.7" r="0.62" fill="#a51f38"/>
<circle cx="341.5" cy="353.3" r="0.62" fill="#a51f38"/>
<circle cx="340.8" cy="351.5" r="0.62" fill="#a51f38"/>
<circle cx="343.9" cy="349.9" r="0.62" fill="#a51f38"/>
<circle cx="344.4" cy="347.1" r="0.62" fill="#a51f38"/>
<circle cx="344.7" cy="349.1" r="0.62" fill="#a51f38"/>
<circle cx="343.0" cy="348.8" r="0.62" fill="#a51f38"/>
<circle cx="344.5" cy="349.7" r="0.62" fill="#a51f38"/>
<circle cx="345.3" cy="347.9" r="0.62" fill="#a51f38"/>
<circle cx="342.8" cy="348.4" r="0.62" fill="#a51f38"/>
<circle cx="344.2" cy="349.2" r="0.62" fill="#a51f38"/>
<circle cx="345.0" cy="347.8" r="0.62" fill="#a51f38"/>
<circle cx="345.3" cy="352.0" r="0.62" fill="#a51f38"/>
<circle cx="339.7" cy="352.0" r="0.62" fill="#a51f38"/>
<circle cx="343.8" cy="349.6" r="0.62" fill="#a51f38"/>
<circle cx="344.4" cy="347.1" r="0.62" fill="#a51f38"/>
<circle cx="344.7" cy="347.0" r="0.62" fill="#a51f38"/>
<circle cx="344.4" cy="351.1" r="0.62" fill="#a51f38"/>
<circle cx="343.3" cy="349.1" r="0.62" fill="#a51f38"/>
<circle cx="344.4" cy="346.8" r="0.62" fill="#a51f38"/>
<circle cx="345.5" cy="353.5" r="0.62" fill="#a51f38"/>
<circle cx="345.5" cy="348.6" r="0.62" fill="#a51f38"/>
<circle cx="344.6" cy="348.0" r="0.62" fill="#a51f38"/>
<circle cx="348.9" cy="351.3" r="0.62" fill="#a51f38"/>
<circle cx="345.2" cy="349.4" r="0.62" fill="#a51f38"/>
<circle cx="348.1" cy="353.9" r="0.62" fill="#a51f38"/>
<circle cx="345.8" cy="351.4" r="0.62" fill="#a51f38"/>
<circle cx="344.1" cy="349.8" r="0.62" fill="#a51f38"/>
<circle cx="346.4" cy="348.7" r="0.62" fill="#a51f38"/>
<circle cx="343.3" cy="353.4" r="0.62" fill="#a51f38"/>
<circle cx="339.0" cy="353.6" r="0.62" fill="#a51f38"/>
<circle cx="344.7" cy="347.6" r="0.62" fill="#a51f38"/>
<circle cx="343.9" cy="349.0" r="0.62" fill="#a51f38"/>
<circle cx="340.1" cy="354.1" r="0.62" fill="#a51f38"/>
<circle cx="343.6" cy="348.1" r="0.62" fill="#a51f38"/>
<circle cx="342.0" cy="351.8" r="0.62" fill="#a51f38"/>
<circle cx="344.8" cy="346.6" r="0.62" fill="#a51f38"/>
<circle cx="343.0" cy="349.6" r="0.62" fill="#a51f38"/>
<circle cx="345.9" cy="350.4" r="0.62" fill="#a51f38"/>
<circle cx="345.8" cy="350.8" r="0.62" fill="#a51f38"/>
<circle cx="347.6" cy="350.9" r="0.62" fill="#a51f38"/>
<circle cx="342.5" cy="354.1" r="0.62" fill="#a51f38"/>
<circle cx="347.0" cy="349.3" r="0.62" fill="#a51f38"/>
<circle cx="345.9" cy="349.0" r="0.62" fill="#a51f38"/>
<circle cx="346.6" cy="352.0" r="0.62" fill="#a51f38"/>
<circle cx="348.9" cy="354.0" r="0.62" fill="#a51f38"/>
<circle cx="345.1" cy="347.8" r="0.62" fill="#a51f38"/>
<circle cx="345.2" cy="350.4" r="0.62" fill="#a51f38"/>
<circle cx="343.4" cy="349.4" r="0.62" fill="#a51f38"/>
<circle cx="345.1" cy="352.4" r="0.62" fill="#a51f38"/>
<circle cx="343.6" cy="348.4" r="0.62" fill="#a51f38"/>
<circle cx="342.9" cy="349.1" r="0.62" fill="#a51f38"/>
<circle cx="341.7" cy="350.6" r="0.62" fill="#a51f38"/>
<circle cx="343.6" cy="347.1" r="0.62" fill="#a51f38"/>
<circle cx="345.3" cy="347.4" r="0.62" fill="#a51f38"/>
<circle cx="344.5" cy="347.5" r="0.62" fill="#a51f38"/>
<circle cx="344.5" cy="352.5" r="0.62" fill="#a51f38"/>
<circle cx="346.0" cy="347.9" r="0.62" fill="#a51f38"/>
<circle cx="339.3" cy="353.3" r="0.62" fill="#a51f38"/>
<circle cx="344.7" cy="348.6" r="0.62" fill="#a51f38"/>
<circle cx="343.5" cy="352.7" r="0.62" fill="#a51f38"/>
<circle cx="342.1" cy="352.1" r="0.62" fill="#a51f38"/>
<circle cx="342.9" cy="352.1" r="0.62" fill="#a51f38"/>
<circle cx="346.2" cy="349.2" r="0.62" fill="#a51f38"/>
<circle cx="348.6" cy="353.1" r="0.62" fill="#a51f38"/>
<circle cx="344.0" cy="351.0" r="0.62" fill="#a51f38"/>
<circle cx="346.0" cy="352.0" r="0.62" fill="#a51f38"/>
<circle cx="348.2" cy="353.0" r="0.62" fill="#a51f38"/>
<circle cx="344.6" cy="342.8" r="0.7" fill="#a51f38"/>
<circle cx="344.5" cy="344.2" r="0.7" fill="#a51f38"/>
<polygon points="343.40,360.00 343.40,375.00 343.50,385.00 343.10,392.00 342.50,400.00 342.30,406.00 347.10,406.00 346.90,400.00 346.30,392.00 345.90,385.00 346.00,375.00 346.00,360.00" fill="#a51f38" opacity="0.45"/>
<circle cx="343.1" cy="368.5" r="0.72" fill="#a51f38"/>
<circle cx="346.1" cy="386.9" r="0.72" fill="#a51f38"/>
<circle cx="342.8" cy="404.6" r="0.72" fill="#a51f38"/>
<circle cx="344.4" cy="391.6" r="0.72" fill="#a51f38"/>
<circle cx="344.3" cy="389.0" r="0.72" fill="#a51f38"/>
<circle cx="347.2" cy="402.9" r="0.72" fill="#a51f38"/>
<circle cx="345.4" cy="362.2" r="0.72" fill="#a51f38"/>
<circle cx="343.2" cy="365.4" r="0.72" fill="#a51f38"/>
<circle cx="345.4" cy="373.2" r="0.72" fill="#a51f38"/>
<circle cx="342.7" cy="405.7" r="0.72" fill="#a51f38"/>
<circle cx="343.2" cy="375.2" r="0.72" fill="#a51f38"/>
<circle cx="344.6" cy="385.0" r="0.72" fill="#a51f38"/>
<circle cx="344.1" cy="377.2" r="0.72" fill="#a51f38"/>
<circle cx="346.2" cy="396.8" r="0.72" fill="#a51f38"/>
<circle cx="344.4" cy="373.1" r="0.72" fill="#a51f38"/>
<circle cx="345.6" cy="388.4" r="0.72" fill="#a51f38"/>
<circle cx="344.1" cy="405.1" r="0.72" fill="#a51f38"/>
<circle cx="344.9" cy="391.9" r="0.72" fill="#a51f38"/>
<circle cx="343.1" cy="396.8" r="0.72" fill="#a51f38"/>
<circle cx="343.4" cy="368.1" r="0.72" fill="#a51f38"/>
<circle cx="343.4" cy="402.9" r="0.72" fill="#a51f38"/>
<circle cx="343.5" cy="382.5" r="0.72" fill="#a51f38"/>
<circle cx="343.2" cy="374.9" r="0.72" fill="#a51f38"/>
<circle cx="343.6" cy="386.0" r="0.72" fill="#a51f38"/>
<circle cx="343.9" cy="388.8" r="0.72" fill="#a51f38"/>
<circle cx="344.6" cy="370.5" r="0.72" fill="#a51f38"/>
<circle cx="343.9" cy="376.8" r="0.72" fill="#a51f38"/>
<circle cx="343.3" cy="362.4" r="0.72" fill="#a51f38"/>
<circle cx="343.7" cy="401.1" r="0.72" fill="#a51f38"/>
<circle cx="343.7" cy="363.6" r="0.72" fill="#a51f38"/>
<circle cx="346.2" cy="382.2" r="0.72" fill="#a51f38"/>
<circle cx="345.9" cy="369.3" r="0.72" fill="#a51f38"/>
<circle cx="344.4" cy="382.3" r="0.72" fill="#a51f38"/>
<circle cx="344.2" cy="397.1" r="0.72" fill="#a51f38"/>
<circle cx="344.9" cy="362.7" r="0.72" fill="#a51f38"/>
<circle cx="345.1" cy="390.2" r="0.72" fill="#a51f38"/>
<circle cx="346.1" cy="372.7" r="0.72" fill="#a51f38"/>
<circle cx="347.2" cy="399.8" r="0.72" fill="#a51f38"/>
<circle cx="345.7" cy="380.4" r="0.72" fill="#a51f38"/>
<circle cx="343.4" cy="393.3" r="0.72" fill="#a51f38"/>
<circle cx="343.6" cy="361.2" r="0.72" fill="#a51f38"/>
<circle cx="343.3" cy="365.5" r="0.72" fill="#a51f38"/>
<circle cx="345.5" cy="376.5" r="0.72" fill="#a51f38"/>
<circle cx="344.7" cy="374.3" r="0.72" fill="#a51f38"/>
<circle cx="343.8" cy="360.5" r="0.72" fill="#a51f38"/>
<circle cx="342.1" cy="404.1" r="0.72" fill="#a51f38"/>
<circle cx="345.6" cy="384.3" r="0.72" fill="#a51f38"/>
<circle cx="345.8" cy="396.4" r="0.72" fill="#a51f38"/>
<circle cx="345.6" cy="378.4" r="0.72" fill="#a51f38"/>
<circle cx="346.0" cy="398.1" r="0.72" fill="#a51f38"/>
<circle cx="342.6" cy="405.4" r="0.72" fill="#a51f38"/>
<circle cx="344.2" cy="403.7" r="0.72" fill="#a51f38"/>
<circle cx="343.7" cy="392.4" r="0.72" fill="#a51f38"/>
<circle cx="342.3" cy="401.8" r="0.72" fill="#a51f38"/>
<circle cx="343.8" cy="386.5" r="0.72" fill="#a51f38"/>
<circle cx="344.3" cy="377.9" r="0.72" fill="#a51f38"/>
<circle cx="345.8" cy="390.2" r="0.72" fill="#a51f38"/>
<circle cx="345.1" cy="376.8" r="0.72" fill="#a51f38"/>
<circle cx="344.0" cy="376.3" r="0.72" fill="#a51f38"/>
<circle cx="343.8" cy="401.6" r="0.72" fill="#a51f38"/>
<circle cx="344.2" cy="364.3" r="0.72" fill="#a51f38"/>
<circle cx="343.5" cy="394.1" r="0.72" fill="#a51f38"/>
<circle cx="344.9" cy="394.2" r="0.72" fill="#a51f38"/>
<circle cx="343.5" cy="391.3" r="0.72" fill="#a51f38"/>
<circle cx="343.6" cy="364.9" r="0.72" fill="#a51f38"/>
<circle cx="344.5" cy="376.1" r="0.72" fill="#a51f38"/>
<circle cx="344.7" cy="360.4" r="0.72" fill="#a51f38"/>
<circle cx="344.1" cy="378.6" r="0.72" fill="#a51f38"/>
<circle cx="346.1" cy="384.7" r="0.72" fill="#a51f38"/>
<circle cx="345.9" cy="369.4" r="0.72" fill="#a51f38"/>
<circle cx="345.5" cy="374.8" r="0.72" fill="#a51f38"/>
<circle cx="346.3" cy="365.0" r="0.72" fill="#a51f38"/>
<circle cx="346.1" cy="379.8" r="0.72" fill="#a51f38"/>
<circle cx="344.4" cy="370.1" r="0.72" fill="#a51f38"/>
<circle cx="343.5" cy="392.5" r="0.72" fill="#a51f38"/>
<circle cx="345.3" cy="372.6" r="0.72" fill="#a51f38"/>
<circle cx="343.8" cy="403.6" r="0.72" fill="#a51f38"/>
<circle cx="344.2" cy="368.4" r="0.72" fill="#a51f38"/>
<circle cx="342.8" cy="405.5" r="0.72" fill="#a51f38"/>
<circle cx="344.3" cy="389.2" r="0.72" fill="#a51f38"/>
<circle cx="343.7" cy="389.6" r="0.72" fill="#a51f38"/>
<circle cx="346.0" cy="388.3" r="0.72" fill="#a51f38"/>
<circle cx="345.3" cy="399.4" r="0.72" fill="#a51f38"/>
<circle cx="344.9" cy="383.2" r="0.72" fill="#a51f38"/>
<circle cx="345.8" cy="365.3" r="0.72" fill="#a51f38"/>
<circle cx="344.5" cy="391.7" r="0.72" fill="#a51f38"/>
<circle cx="344.4" cy="390.6" r="0.72" fill="#a51f38"/>
<circle cx="343.9" cy="377.7" r="0.72" fill="#a51f38"/>
<circle cx="344.9" cy="387.6" r="0.72" fill="#a51f38"/>
<circle cx="343.3" cy="383.7" r="0.72" fill="#a51f38"/>
<polygon points="360.00,388.50 357.00,389.50 356.00,391.00 356.50,394.00 358.00,397.00 360.00,400.00 361.50,402.90 362.50,402.90 364.00,400.00 366.00,397.00 367.50,394.00 368.00,391.00 367.00,389.50 364.00,388.50" fill="#a51f38" opacity="0.85"/>
<circle cx="361.6" cy="397.5" r="0.62" fill="#a51f38"/>
<circle cx="362.8" cy="397.0" r="0.62" fill="#a51f38"/>
<circle cx="361.1" cy="401.9" r="0.62" fill="#a51f38"/>
<circle cx="367.1" cy="395.2" r="0.62" fill="#a51f38"/>
<circle cx="360.9" cy="399.1" r="0.62" fill="#a51f38"/>
<circle cx="364.8" cy="399.1" r="0.62" fill="#a51f38"/>
<circle cx="366.2" cy="394.3" r="0.62" fill="#a51f38"/>
<circle cx="367.7" cy="390.3" r="0.62" fill="#a51f38"/>
<circle cx="359.3" cy="395.6" r="0.62" fill="#a51f38"/>
<circle cx="362.6" cy="400.6" r="0.62" fill="#a51f38"/>
<circle cx="362.8" cy="402.0" r="0.62" fill="#a51f38"/>
<circle cx="362.1" cy="400.0" r="0.62" fill="#a51f38"/>
<circle cx="361.3" cy="402.8" r="0.62" fill="#a51f38"/>
<circle cx="362.7" cy="401.0" r="0.62" fill="#a51f38"/>
<circle cx="365.8" cy="392.1" r="0.62" fill="#a51f38"/>
<circle cx="362.4" cy="395.0" r="0.62" fill="#a51f38"/>
<circle cx="360.9" cy="401.0" r="0.62" fill="#a51f38"/>
<circle cx="363.7" cy="392.5" r="0.62" fill="#a51f38"/>
<circle cx="362.6" cy="389.6" r="0.62" fill="#a51f38"/>
<circle cx="362.0" cy="399.8" r="0.62" fill="#a51f38"/>
<circle cx="365.7" cy="392.0" r="0.62" fill="#a51f38"/>
<circle cx="363.0" cy="400.8" r="0.62" fill="#a51f38"/>
<circle cx="365.7" cy="396.4" r="0.62" fill="#a51f38"/>
<circle cx="360.4" cy="400.0" r="0.62" fill="#a51f38"/>
<circle cx="357.3" cy="393.8" r="0.62" fill="#a51f38"/>
<circle cx="360.8" cy="389.0" r="0.62" fill="#a51f38"/>
<circle cx="363.2" cy="401.0" r="0.62" fill="#a51f38"/>
<circle cx="358.3" cy="390.2" r="0.62" fill="#a51f38"/>
<circle cx="366.0" cy="394.1" r="0.62" fill="#a51f38"/>
<circle cx="365.2" cy="397.4" r="0.62" fill="#a51f38"/>
<circle cx="367.2" cy="389.5" r="0.62" fill="#a51f38"/>
<circle cx="363.6" cy="391.5" r="0.62" fill="#a51f38"/>
<circle cx="362.8" cy="401.1" r="0.62" fill="#a51f38"/>
<circle cx="364.1" cy="391.3" r="0.62" fill="#a51f38"/>
<circle cx="356.7" cy="394.7" r="0.62" fill="#a51f38"/>
<circle cx="359.8" cy="393.4" r="0.62" fill="#a51f38"/>
<circle cx="360.3" cy="397.6" r="0.62" fill="#a51f38"/>
<circle cx="363.6" cy="397.2" r="0.62" fill="#a51f38"/>
<circle cx="357.3" cy="391.1" r="0.62" fill="#a51f38"/>
<circle cx="361.8" cy="398.5" r="0.62" fill="#a51f38"/>
<circle cx="357.5" cy="390.4" r="0.62" fill="#a51f38"/>
<circle cx="362.3" cy="402.1" r="0.62" fill="#a51f38"/>
<circle cx="358.4" cy="393.6" r="0.62" fill="#a51f38"/>
<circle cx="362.3" cy="402.8" r="0.62" fill="#a51f38"/>
<circle cx="361.2" cy="399.1" r="0.62" fill="#a51f38"/>
<circle cx="360.9" cy="393.0" r="0.62" fill="#a51f38"/>
<circle cx="363.6" cy="390.6" r="0.62" fill="#a51f38"/>
<circle cx="365.5" cy="394.6" r="0.62" fill="#a51f38"/>
<circle cx="361.5" cy="394.4" r="0.62" fill="#a51f38"/>
<circle cx="366.3" cy="395.8" r="0.62" fill="#a51f38"/>
<circle cx="364.4" cy="393.5" r="0.62" fill="#a51f38"/>
<circle cx="363.0" cy="391.9" r="0.62" fill="#a51f38"/>
<circle cx="366.5" cy="392.6" r="0.62" fill="#a51f38"/>
<circle cx="366.3" cy="392.6" r="0.62" fill="#a51f38"/>
<circle cx="361.7" cy="398.2" r="0.62" fill="#a51f38"/>
<circle cx="361.7" cy="401.9" r="0.62" fill="#a51f38"/>
<circle cx="362.6" cy="399.2" r="0.62" fill="#a51f38"/>
<circle cx="357.4" cy="395.0" r="0.62" fill="#a51f38"/>
<circle cx="359.6" cy="394.5" r="0.62" fill="#a51f38"/>
<circle cx="366.9" cy="394.8" r="0.62" fill="#a51f38"/>
<circle cx="364.3" cy="392.7" r="0.62" fill="#a51f38"/>
<circle cx="360.2" cy="398.2" r="0.62" fill="#a51f38"/>
<circle cx="357.9" cy="394.4" r="0.62" fill="#a51f38"/>
<circle cx="361.2" cy="401.4" r="0.62" fill="#a51f38"/>
<circle cx="360.3" cy="394.6" r="0.62" fill="#a51f38"/>
<circle cx="363.5" cy="400.3" r="0.62" fill="#a51f38"/>
<circle cx="362.4" cy="397.0" r="0.62" fill="#a51f38"/>
<circle cx="366.4" cy="389.9" r="0.62" fill="#a51f38"/>
<circle cx="360.5" cy="389.8" r="0.62" fill="#a51f38"/>
<circle cx="364.6" cy="393.9" r="0.62" fill="#a51f38"/>
<circle cx="360.9" cy="398.1" r="0.62" fill="#a51f38"/>
<circle cx="363.4" cy="401.4" r="0.62" fill="#a51f38"/>
<circle cx="362.9" cy="388.8" r="0.62" fill="#a51f38"/>
<circle cx="360.6" cy="395.3" r="0.62" fill="#a51f38"/>
<circle cx="360.1" cy="395.2" r="0.62" fill="#a51f38"/>
<circle cx="362.7" cy="398.2" r="0.62" fill="#a51f38"/>
<circle cx="363.0" cy="402.5" r="0.62" fill="#a51f38"/>
<circle cx="361.8" cy="402.8" r="0.62" fill="#a51f38"/>
<circle cx="362.6" cy="400.4" r="0.62" fill="#a51f38"/>
<circle cx="365.2" cy="398.6" r="0.62" fill="#a51f38"/>
<circle cx="361.6" cy="389.5" r="0.62" fill="#a51f38"/>
<circle cx="363.8" cy="394.3" r="0.62" fill="#a51f38"/>
<circle cx="368.1" cy="391.6" r="0.62" fill="#a51f38"/>
<circle cx="360.4" cy="391.5" r="0.62" fill="#a51f38"/>
<circle cx="360.7" cy="390.6" r="0.62" fill="#a51f38"/>
<circle cx="359.6" cy="399.2" r="0.62" fill="#a51f38"/>
<circle cx="363.9" cy="390.9" r="0.62" fill="#a51f38"/>
<circle cx="363.9" cy="397.5" r="0.62" fill="#a51f38"/>
<circle cx="365.8" cy="392.1" r="0.62" fill="#a51f38"/>
<circle cx="363.6" cy="399.0" r="0.62" fill="#a51f38"/>
<circle cx="361.6" cy="390.2" r="0.62" fill="#a51f38"/>
<circle cx="364.1" cy="388.7" r="0.62" fill="#a51f38"/>
<circle cx="363.0" cy="402.1" r="0.62" fill="#a51f38"/>
<circle cx="361.0" cy="388.8" r="0.62" fill="#a51f38"/>
<circle cx="362.3" cy="396.2" r="0.62" fill="#a51f38"/>
<circle cx="365.3" cy="390.1" r="0.62" fill="#a51f38"/>
<circle cx="362.1" cy="392.8" r="0.62" fill="#a51f38"/>
<circle cx="362.8" cy="390.3" r="0.62" fill="#a51f38"/>
<circle cx="357.2" cy="390.4" r="0.62" fill="#a51f38"/>
<circle cx="360.0" cy="395.9" r="0.62" fill="#a51f38"/>
<circle cx="360.7" cy="399.7" r="0.62" fill="#a51f38"/>
<circle cx="357.0" cy="394.5" r="0.62" fill="#a51f38"/>
<circle cx="361.4" cy="391.6" r="0.62" fill="#a51f38"/>
<circle cx="361.6" cy="396.5" r="0.62" fill="#a51f38"/>
<circle cx="360.5" cy="400.8" r="0.62" fill="#a51f38"/>
<circle cx="360.7" cy="400.7" r="0.62" fill="#a51f38"/>
<circle cx="362.1" cy="402.5" r="0.62" fill="#a51f38"/>
<circle cx="363.3" cy="394.4" r="0.62" fill="#a51f38"/>
<circle cx="363.7" cy="400.9" r="0.62" fill="#a51f38"/>
<circle cx="356.5" cy="394.5" r="0.62" fill="#a51f38"/>
<polygon points="380.20,348.50 379.60,350.00 378.60,351.50 376.30,352.80 375.00,353.60 374.70,354.30 386.90,354.30 386.60,353.60 385.30,352.80 383.00,351.50 382.00,350.00 381.40,348.50" fill="#a51f38" opacity="0.92"/>
<circle cx="381.6" cy="349.4" r="0.62" fill="#a51f38"/>
<circle cx="382.8" cy="352.8" r="0.62" fill="#a51f38"/>
<circle cx="380.9" cy="349.4" r="0.62" fill="#a51f38"/>
<circle cx="380.0" cy="348.7" r="0.62" fill="#a51f38"/>
<circle cx="382.4" cy="350.2" r="0.62" fill="#a51f38"/>
<circle cx="383.4" cy="352.2" r="0.62" fill="#a51f38"/>
<circle cx="380.6" cy="348.8" r="0.62" fill="#a51f38"/>
<circle cx="380.3" cy="349.0" r="0.62" fill="#a51f38"/>
<circle cx="381.8" cy="349.1" r="0.62" fill="#a51f38"/>
<circle cx="380.8" cy="350.4" r="0.62" fill="#a51f38"/>
<circle cx="383.8" cy="352.3" r="0.62" fill="#a51f38"/>
<circle cx="381.7" cy="354.0" r="0.62" fill="#a51f38"/>
<circle cx="382.8" cy="351.4" r="0.62" fill="#a51f38"/>
<circle cx="380.0" cy="350.8" r="0.62" fill="#a51f38"/>
<circle cx="378.5" cy="352.8" r="0.62" fill="#a51f38"/>
<circle cx="380.5" cy="350.6" r="0.62" fill="#a51f38"/>
<circle cx="380.1" cy="351.3" r="0.62" fill="#a51f38"/>
<circle cx="380.6" cy="351.0" r="0.62" fill="#a51f38"/>
<circle cx="381.5" cy="348.8" r="0.62" fill="#a51f38"/>
<circle cx="380.9" cy="348.9" r="0.62" fill="#a51f38"/>
<circle cx="380.2" cy="351.7" r="0.62" fill="#a51f38"/>
<circle cx="379.7" cy="349.8" r="0.62" fill="#a51f38"/>
<circle cx="380.1" cy="350.7" r="0.62" fill="#a51f38"/>
<circle cx="379.5" cy="351.3" r="0.62" fill="#a51f38"/>
<circle cx="380.7" cy="352.8" r="0.62" fill="#a51f38"/>
<circle cx="380.6" cy="348.6" r="0.62" fill="#a51f38"/>
<circle cx="374.6" cy="354.1" r="0.62" fill="#a51f38"/>
<circle cx="383.8" cy="351.9" r="0.62" fill="#a51f38"/>
<circle cx="381.2" cy="350.6" r="0.62" fill="#a51f38"/>
<circle cx="380.0" cy="350.6" r="0.62" fill="#a51f38"/>
<circle cx="381.4" cy="352.0" r="0.62" fill="#a51f38"/>
<circle cx="380.8" cy="350.3" r="0.62" fill="#a51f38"/>
<circle cx="382.1" cy="351.5" r="0.62" fill="#a51f38"/>
<circle cx="380.0" cy="348.8" r="0.62" fill="#a51f38"/>
<circle cx="380.1" cy="350.0" r="0.62" fill="#a51f38"/>
<circle cx="380.0" cy="353.1" r="0.62" fill="#a51f38"/>
<circle cx="379.6" cy="353.5" r="0.62" fill="#a51f38"/>
<circle cx="381.4" cy="350.2" r="0.62" fill="#a51f38"/>
<circle cx="381.9" cy="349.0" r="0.62" fill="#a51f38"/>
<circle cx="378.9" cy="353.3" r="0.62" fill="#a51f38"/>
<circle cx="381.9" cy="350.3" r="0.62" fill="#a51f38"/>
<circle cx="382.3" cy="353.1" r="0.62" fill="#a51f38"/>
<circle cx="381.3" cy="348.8" r="0.62" fill="#a51f38"/>
<circle cx="381.1" cy="348.8" r="0.62" fill="#a51f38"/>
<circle cx="383.2" cy="351.7" r="0.62" fill="#a51f38"/>
<circle cx="377.2" cy="352.2" r="0.62" fill="#a51f38"/>
<circle cx="384.0" cy="353.9" r="0.62" fill="#a51f38"/>
<circle cx="377.7" cy="351.9" r="0.62" fill="#a51f38"/>
<circle cx="380.0" cy="352.8" r="0.62" fill="#a51f38"/>
<circle cx="384.8" cy="352.4" r="0.62" fill="#a51f38"/>
<circle cx="375.5" cy="353.8" r="0.62" fill="#a51f38"/>
<circle cx="380.2" cy="353.0" r="0.62" fill="#a51f38"/>
<circle cx="379.6" cy="352.9" r="0.62" fill="#a51f38"/>
<circle cx="380.5" cy="351.1" r="0.62" fill="#a51f38"/>
<circle cx="380.4" cy="349.2" r="0.62" fill="#a51f38"/>
<circle cx="380.5" cy="347.8" r="0.7" fill="#a51f38"/>
<circle cx="381.1" cy="346.3" r="0.7" fill="#a51f38"/>
<circle cx="380.8" cy="347.7" r="0.7" fill="#a51f38"/>
<circle cx="380.6" cy="342.8" r="0.7" fill="#a51f38"/>
<circle cx="381.1" cy="343.3" r="0.7" fill="#a51f38"/>
<polygon points="379.50,358.00 379.50,385.00 379.40,392.00 377.80,396.00 377.30,399.00 378.40,403.00 378.80,406.00 382.80,406.00 383.20,403.00 384.30,399.00 383.80,396.00 382.20,392.00 382.10,385.00 382.10,358.00" fill="#a51f38" opacity="0.6"/>
<circle cx="382.2" cy="384.9" r="0.75" fill="#a51f38"/>
<circle cx="380.5" cy="368.1" r="0.75" fill="#a51f38"/>
<circle cx="381.9" cy="383.7" r="0.75" fill="#a51f38"/>
<circle cx="382.0" cy="363.9" r="0.75" fill="#a51f38"/>
<circle cx="379.3" cy="380.7" r="0.75" fill="#a51f38"/>
<circle cx="380.4" cy="378.7" r="0.75" fill="#a51f38"/>
<circle cx="382.2" cy="390.4" r="0.75" fill="#a51f38"/>
<circle cx="381.4" cy="381.7" r="0.75" fill="#a51f38"/>
<circle cx="381.7" cy="376.6" r="0.75" fill="#a51f38"/>
<circle cx="381.6" cy="363.1" r="0.75" fill="#a51f38"/>
<circle cx="381.1" cy="366.0" r="0.75" fill="#a51f38"/>
<circle cx="380.3" cy="367.7" r="0.75" fill="#a51f38"/>
<circle cx="380.3" cy="365.9" r="0.75" fill="#a51f38"/>
<circle cx="380.9" cy="386.4" r="0.75" fill="#a51f38"/>
<circle cx="381.0" cy="376.7" r="0.75" fill="#a51f38"/>
<circle cx="379.7" cy="398.4" r="0.75" fill="#a51f38"/>
<circle cx="380.7" cy="386.0" r="0.75" fill="#a51f38"/>
<circle cx="380.0" cy="405.1" r="0.75" fill="#a51f38"/>
<circle cx="379.9" cy="391.5" r="0.75" fill="#a51f38"/>
<circle cx="381.5" cy="370.5" r="0.75" fill="#a51f38"/>
<circle cx="380.0" cy="385.6" r="0.75" fill="#a51f38"/>
<circle cx="381.8" cy="361.1" r="0.75" fill="#a51f38"/>
<circle cx="381.5" cy="376.1" r="0.75" fill="#a51f38"/>
<circle cx="381.2" cy="378.8" r="0.75" fill="#a51f38"/>
<circle cx="382.3" cy="384.9" r="0.75" fill="#a51f38"/>
<circle cx="380.5" cy="401.7" r="0.75" fill="#a51f38"/>
<circle cx="379.9" cy="381.4" r="0.75" fill="#a51f38"/>
<circle cx="378.8" cy="394.2" r="0.75" fill="#a51f38"/>
<circle cx="381.9" cy="372.7" r="0.75" fill="#a51f38"/>
<circle cx="381.4" cy="359.7" r="0.75" fill="#a51f38"/>
<circle cx="381.0" cy="385.3" r="0.75" fill="#a51f38"/>
<circle cx="379.7" cy="374.0" r="0.75" fill="#a51f38"/>
<circle cx="382.2" cy="403.6" r="0.75" fill="#a51f38"/>
<circle cx="378.1" cy="396.7" r="0.75" fill="#a51f38"/>
<circle cx="379.0" cy="395.6" r="0.75" fill="#a51f38"/>
<circle cx="380.9" cy="367.6" r="0.75" fill="#a51f38"/>
<circle cx="379.6" cy="387.3" r="0.75" fill="#a51f38"/>
<circle cx="381.3" cy="394.7" r="0.75" fill="#a51f38"/>
<circle cx="383.5" cy="401.2" r="0.75" fill="#a51f38"/>
<circle cx="380.3" cy="391.1" r="0.75" fill="#a51f38"/>
<circle cx="381.9" cy="403.6" r="0.75" fill="#a51f38"/>
<circle cx="381.9" cy="372.0" r="0.75" fill="#a51f38"/>
<circle cx="379.8" cy="392.9" r="0.75" fill="#a51f38"/>
<circle cx="379.3" cy="370.0" r="0.75" fill="#a51f38"/>
<circle cx="380.0" cy="383.8" r="0.75" fill="#a51f38"/>
<circle cx="380.0" cy="372.1" r="0.75" fill="#a51f38"/>
<circle cx="380.8" cy="364.3" r="0.75" fill="#a51f38"/>
<circle cx="380.1" cy="371.1" r="0.75" fill="#a51f38"/>
<circle cx="380.8" cy="371.3" r="0.75" fill="#a51f38"/>
<circle cx="378.4" cy="399.9" r="0.75" fill="#a51f38"/>
<circle cx="383.4" cy="399.3" r="0.75" fill="#a51f38"/>
<circle cx="380.9" cy="387.3" r="0.75" fill="#a51f38"/>
<circle cx="381.0" cy="393.2" r="0.75" fill="#a51f38"/>
<circle cx="382.2" cy="389.7" r="0.75" fill="#a51f38"/>
<circle cx="379.4" cy="395.2" r="0.75" fill="#a51f38"/>
<circle cx="382.2" cy="360.6" r="0.75" fill="#a51f38"/>
<circle cx="381.7" cy="375.4" r="0.75" fill="#a51f38"/>
<circle cx="380.6" cy="369.2" r="0.75" fill="#a51f38"/>
<circle cx="381.5" cy="375.8" r="0.75" fill="#a51f38"/>
<circle cx="380.8" cy="403.3" r="0.75" fill="#a51f38"/>
<circle cx="380.3" cy="385.2" r="0.75" fill="#a51f38"/>
<circle cx="382.2" cy="369.1" r="0.75" fill="#a51f38"/>
<circle cx="382.2" cy="363.3" r="0.75" fill="#a51f38"/>
<circle cx="379.4" cy="389.5" r="0.75" fill="#a51f38"/>
<circle cx="378.3" cy="401.3" r="0.75" fill="#a51f38"/>
<circle cx="379.6" cy="385.1" r="0.75" fill="#a51f38"/>
<circle cx="379.9" cy="405.5" r="0.75" fill="#a51f38"/>
<circle cx="377.7" cy="399.9" r="0.75" fill="#a51f38"/>
<circle cx="379.4" cy="390.0" r="0.75" fill="#a51f38"/>
<circle cx="381.0" cy="359.4" r="0.75" fill="#a51f38"/>
<circle cx="381.7" cy="405.2" r="0.75" fill="#a51f38"/>
<circle cx="383.0" cy="399.1" r="0.75" fill="#a51f38"/>
<circle cx="379.4" cy="383.0" r="0.75" fill="#a51f38"/>
<circle cx="379.8" cy="383.3" r="0.75" fill="#a51f38"/>
<circle cx="380.3" cy="383.3" r="0.75" fill="#a51f38"/>
<circle cx="379.8" cy="382.0" r="0.75" fill="#a51f38"/>
<circle cx="380.5" cy="391.8" r="0.75" fill="#a51f38"/>
<circle cx="379.5" cy="381.3" r="0.75" fill="#a51f38"/>
<circle cx="381.0" cy="381.4" r="0.75" fill="#a51f38"/>
<circle cx="381.1" cy="404.7" r="0.75" fill="#a51f38"/>
<circle cx="380.2" cy="364.5" r="0.75" fill="#a51f38"/>
<circle cx="381.4" cy="374.1" r="0.75" fill="#a51f38"/>
<circle cx="383.4" cy="403.1" r="0.75" fill="#a51f38"/>
<circle cx="383.0" cy="403.6" r="0.75" fill="#a51f38"/>
<circle cx="384.1" cy="399.2" r="0.75" fill="#a51f38"/>
<circle cx="380.8" cy="359.0" r="0.75" fill="#a51f38"/>
<circle cx="381.4" cy="386.4" r="0.75" fill="#a51f38"/>
<circle cx="381.2" cy="387.4" r="0.75" fill="#a51f38"/>
<circle cx="378.5" cy="402.8" r="0.75" fill="#a51f38"/>
<circle cx="382.3" cy="382.9" r="0.75" fill="#a51f38"/>
<circle cx="379.6" cy="359.5" r="0.75" fill="#a51f38"/>
<circle cx="384.1" cy="399.7" r="0.75" fill="#a51f38"/>
<circle cx="379.3" cy="359.2" r="0.75" fill="#a51f38"/>
<circle cx="382.2" cy="397.8" r="0.75" fill="#a51f38"/>
<circle cx="381.1" cy="382.9" r="0.75" fill="#a51f38"/>
<circle cx="382.4" cy="394.4" r="0.75" fill="#a51f38"/>
<circle cx="379.4" cy="358.0" r="0.75" fill="#a51f38"/>
<circle cx="384.0" cy="396.1" r="0.75" fill="#a51f38"/>
<circle cx="380.1" cy="398.0" r="0.75" fill="#a51f38"/>
<circle cx="380.3" cy="374.1" r="0.75" fill="#a51f38"/>
<line x1="374.30" y1="362.20" x2="387.30" y2="362.20" stroke="#2b2b2b" stroke-width="0.9" />
<line x1="377.80" y1="365.50" x2="383.80" y2="365.50" stroke="#c05070" stroke-width="1.0" />
<line x1="417.50" y1="343.00" x2="417.50" y2="353.90" stroke="#231f20" stroke-width="1.0" />
<line x1="417.50" y1="358.90" x2="417.50" y2="407.00" stroke="#231f20" stroke-width="1.0" />
<line x1="417.00" y1="406.50" x2="512.10" y2="406.50" stroke="#231f20" stroke-width="1.0" />
<line x1="414.20" y1="345.50" x2="417.50" y2="345.50" stroke="#231f20" stroke-width="1.0" />
<text x="411.70" y="347.60" font-size="6.6" fill="#231f20" text-anchor="end" >80</text>
<line x1="414.20" y1="350.50" x2="417.50" y2="350.50" stroke="#231f20" stroke-width="1.0" />
<text x="411.70" y="352.60" font-size="6.6" fill="#231f20" text-anchor="end" >40</text>
<line x1="414.20" y1="359.50" x2="417.50" y2="359.50" stroke="#231f20" stroke-width="1.0" />
<text x="411.70" y="361.60" font-size="6.6" fill="#231f20" text-anchor="end" >10</text>
<line x1="414.20" y1="368.50" x2="417.50" y2="368.50" stroke="#231f20" stroke-width="1.0" />
<text x="411.70" y="370.90" font-size="6.6" fill="#231f20" text-anchor="end" >8</text>
<line x1="414.20" y1="378.50" x2="417.50" y2="378.50" stroke="#231f20" stroke-width="1.0" />
<text x="411.70" y="380.30" font-size="6.6" fill="#231f20" text-anchor="end" >6</text>
<line x1="414.20" y1="387.50" x2="417.50" y2="387.50" stroke="#231f20" stroke-width="1.0" />
<text x="411.70" y="389.80" font-size="6.6" fill="#231f20" text-anchor="end" >4</text>
<line x1="414.20" y1="396.50" x2="417.50" y2="396.50" stroke="#231f20" stroke-width="1.0" />
<text x="411.70" y="399.10" font-size="6.6" fill="#231f20" text-anchor="end" >2</text>
<line x1="414.20" y1="406.50" x2="417.50" y2="406.50" stroke="#231f20" stroke-width="1.0" />
<text x="411.70" y="408.60" font-size="6.6" fill="#231f20" text-anchor="end" >0</text>
<path d="M415.90,354.50 L417.50,352.50 L419.10,354.50 Z" fill="#231f20"/>
<line x1="415.30" y1="359.40" x2="419.70" y2="359.40" stroke="#231f20" stroke-width="1.0" />
<line x1="429.50" y1="406.50" x2="429.50" y2="409.30" stroke="#231f20" stroke-width="1.0" />
<text x="0" y="0" font-size="6.8" fill="#231f20" text-anchor="end" transform="translate(432.30,417.50) rotate(-45)" textLength="18.5" lengthAdjust="spacingAndGlyphs">HOVON</text>
<line x1="448.50" y1="406.50" x2="448.50" y2="409.30" stroke="#231f20" stroke-width="1.0" />
<text x="0" y="0" font-size="6.8" fill="#231f20" text-anchor="end" transform="translate(451.00,417.50) rotate(-45)" textLength="20.5" lengthAdjust="spacingAndGlyphs">German</text>
<line x1="466.50" y1="406.50" x2="466.50" y2="409.30" stroke="#231f20" stroke-width="1.0" />
<text x="0" y="0" font-size="6.8" fill="#231f20" text-anchor="end" transform="translate(469.30,417.50) rotate(-45)" textLength="15.5" lengthAdjust="spacingAndGlyphs">TCGA</text>
<line x1="484.50" y1="406.50" x2="484.50" y2="409.30" stroke="#231f20" stroke-width="1.0" />
<text x="0" y="0" font-size="6.8" fill="#231f20" text-anchor="end" transform="translate(488.00,417.50) rotate(-45)" textLength="24" lengthAdjust="spacingAndGlyphs">Beat AML</text>
<line x1="504.50" y1="406.50" x2="504.50" y2="409.30" stroke="#231f20" stroke-width="1.0" />
<text x="0" y="0" font-size="6.8" fill="#231f20" text-anchor="end" transform="translate(507.20,417.50) rotate(-45)" textLength="21" lengthAdjust="spacingAndGlyphs">TARGET</text>
<text x="0" y="0" font-size="10.4" fill="#231f20" transform="translate(396.90,399.50) rotate(-90)" textLength="64.3" lengthAdjust="spacingAndGlyphs"><tspan font-style="italic">CD109</tspan> mRNA (log<tspan font-size="6" dy="2">2</tspan><tspan dy="-2">)</tspan></text>
<rect x="422.00" y="330.20" width="2.4" height="2.0" fill="#3c5f8e"/>
<text x="426.80" y="333.10" font-size="5.6" fill="#231f20" text-anchor="start" textLength="23.00" lengthAdjust="spacingAndGlyphs" >Affimetrix</text>
<rect x="422.00" y="336.60" width="2.4" height="2.0" fill="#a51f38"/>
<text x="426.80" y="339.40" font-size="5.6" fill="#231f20" text-anchor="start" textLength="37.00" lengthAdjust="spacingAndGlyphs" >RNA sequencing</text>
<polygon points="428.50,359.30 428.30,366.00 427.60,370.00 426.50,373.00 425.00,376.00 423.70,379.00 423.10,381.20 423.80,382.30 434.80,382.30 435.50,381.20 434.90,379.00 433.60,376.00 432.10,373.00 431.00,370.00 430.30,366.00 430.10,359.30" fill="#3c5f8e" opacity="0.7"/>
<circle cx="429.9" cy="359.6" r="0.62" fill="#3c5f8e"/>
<circle cx="429.5" cy="365.3" r="0.62" fill="#3c5f8e"/>
<circle cx="428.5" cy="371.4" r="0.62" fill="#3c5f8e"/>
<circle cx="428.9" cy="374.8" r="0.62" fill="#3c5f8e"/>
<circle cx="430.3" cy="364.7" r="0.62" fill="#3c5f8e"/>
<circle cx="428.4" cy="363.3" r="0.62" fill="#3c5f8e"/>
<circle cx="429.2" cy="365.1" r="0.62" fill="#3c5f8e"/>
<circle cx="427.6" cy="377.3" r="0.62" fill="#3c5f8e"/>
<circle cx="429.7" cy="364.8" r="0.62" fill="#3c5f8e"/>
<circle cx="429.4" cy="365.3" r="0.62" fill="#3c5f8e"/>
<circle cx="430.3" cy="365.2" r="0.62" fill="#3c5f8e"/>
<circle cx="428.6" cy="363.5" r="0.62" fill="#3c5f8e"/>
<circle cx="428.8" cy="366.2" r="0.62" fill="#3c5f8e"/>
<circle cx="430.9" cy="376.0" r="0.62" fill="#3c5f8e"/>
<circle cx="429.7" cy="377.5" r="0.62" fill="#3c5f8e"/>
<circle cx="429.9" cy="361.1" r="0.62" fill="#3c5f8e"/>
<circle cx="428.6" cy="364.9" r="0.62" fill="#3c5f8e"/>
<circle cx="431.1" cy="368.8" r="0.62" fill="#3c5f8e"/>
<circle cx="428.8" cy="367.8" r="0.62" fill="#3c5f8e"/>
<circle cx="435.4" cy="380.3" r="0.62" fill="#3c5f8e"/>
<circle cx="428.1" cy="368.2" r="0.62" fill="#3c5f8e"/>
<circle cx="432.3" cy="377.5" r="0.62" fill="#3c5f8e"/>
<circle cx="430.2" cy="367.1" r="0.62" fill="#3c5f8e"/>
<circle cx="428.6" cy="368.0" r="0.62" fill="#3c5f8e"/>
<circle cx="430.8" cy="372.9" r="0.62" fill="#3c5f8e"/>
<circle cx="430.6" cy="370.2" r="0.62" fill="#3c5f8e"/>
<circle cx="429.3" cy="359.6" r="0.62" fill="#3c5f8e"/>
<circle cx="427.9" cy="368.0" r="0.62" fill="#3c5f8e"/>
<circle cx="424.8" cy="380.3" r="0.62" fill="#3c5f8e"/>
<circle cx="430.2" cy="364.0" r="0.62" fill="#3c5f8e"/>
<circle cx="434.8" cy="381.4" r="0.62" fill="#3c5f8e"/>
<circle cx="430.6" cy="367.2" r="0.62" fill="#3c5f8e"/>
<circle cx="429.8" cy="362.6" r="0.62" fill="#3c5f8e"/>
<circle cx="425.3" cy="381.0" r="0.62" fill="#3c5f8e"/>
<circle cx="429.7" cy="362.4" r="0.62" fill="#3c5f8e"/>
<circle cx="432.0" cy="379.6" r="0.62" fill="#3c5f8e"/>
<circle cx="428.7" cy="381.1" r="0.62" fill="#3c5f8e"/>
<circle cx="428.1" cy="367.9" r="0.62" fill="#3c5f8e"/>
<circle cx="430.4" cy="365.6" r="0.62" fill="#3c5f8e"/>
<circle cx="428.6" cy="360.9" r="0.62" fill="#3c5f8e"/>
<circle cx="427.9" cy="367.3" r="0.62" fill="#3c5f8e"/>
<circle cx="428.4" cy="366.4" r="0.62" fill="#3c5f8e"/>
<circle cx="429.4" cy="362.1" r="0.62" fill="#3c5f8e"/>
<circle cx="429.7" cy="371.7" r="0.62" fill="#3c5f8e"/>
<circle cx="429.6" cy="376.8" r="0.62" fill="#3c5f8e"/>
<circle cx="423.9" cy="381.1" r="0.62" fill="#3c5f8e"/>
<circle cx="428.2" cy="364.4" r="0.62" fill="#3c5f8e"/>
<circle cx="430.0" cy="366.4" r="0.62" fill="#3c5f8e"/>
<circle cx="429.3" cy="380.6" r="0.62" fill="#3c5f8e"/>
<circle cx="428.9" cy="363.0" r="0.62" fill="#3c5f8e"/>
<circle cx="428.1" cy="372.4" r="0.62" fill="#3c5f8e"/>
<circle cx="434.3" cy="377.5" r="0.62" fill="#3c5f8e"/>
<circle cx="429.7" cy="369.9" r="0.62" fill="#3c5f8e"/>
<circle cx="428.9" cy="378.8" r="0.62" fill="#3c5f8e"/>
<circle cx="430.4" cy="363.7" r="0.62" fill="#3c5f8e"/>
<circle cx="423.5" cy="381.8" r="0.62" fill="#3c5f8e"/>
<circle cx="428.3" cy="376.8" r="0.62" fill="#3c5f8e"/>
<circle cx="428.5" cy="360.5" r="0.62" fill="#3c5f8e"/>
<circle cx="429.9" cy="363.3" r="0.62" fill="#3c5f8e"/>
<circle cx="428.1" cy="364.2" r="0.62" fill="#3c5f8e"/>
<circle cx="430.0" cy="364.4" r="0.62" fill="#3c5f8e"/>
<circle cx="430.0" cy="370.8" r="0.62" fill="#3c5f8e"/>
<circle cx="428.0" cy="370.0" r="0.62" fill="#3c5f8e"/>
<circle cx="428.9" cy="359.6" r="0.62" fill="#3c5f8e"/>
<circle cx="428.8" cy="360.3" r="0.62" fill="#3c5f8e"/>
<circle cx="428.4" cy="373.5" r="0.62" fill="#3c5f8e"/>
<circle cx="429.8" cy="370.2" r="0.62" fill="#3c5f8e"/>
<circle cx="428.9" cy="366.6" r="0.62" fill="#3c5f8e"/>
<circle cx="430.3" cy="379.6" r="0.62" fill="#3c5f8e"/>
<circle cx="429.4" cy="368.9" r="0.62" fill="#3c5f8e"/>
<circle cx="428.6" cy="369.9" r="0.62" fill="#3c5f8e"/>
<circle cx="426.0" cy="380.3" r="0.62" fill="#3c5f8e"/>
<circle cx="433.8" cy="380.8" r="0.62" fill="#3c5f8e"/>
<circle cx="425.2" cy="379.6" r="0.62" fill="#3c5f8e"/>
<circle cx="431.6" cy="371.0" r="0.62" fill="#3c5f8e"/>
<circle cx="428.4" cy="365.9" r="0.62" fill="#3c5f8e"/>
<circle cx="426.9" cy="375.9" r="0.62" fill="#3c5f8e"/>
<circle cx="427.2" cy="372.7" r="0.62" fill="#3c5f8e"/>
<circle cx="426.5" cy="381.1" r="0.62" fill="#3c5f8e"/>
<circle cx="429.7" cy="361.5" r="0.62" fill="#3c5f8e"/>
<circle cx="429.5" cy="367.3" r="0.62" fill="#3c5f8e"/>
<circle cx="431.2" cy="370.7" r="0.62" fill="#3c5f8e"/>
<circle cx="428.7" cy="371.1" r="0.62" fill="#3c5f8e"/>
<circle cx="429.3" cy="359.3" r="0.62" fill="#3c5f8e"/>
<circle cx="429.5" cy="365.5" r="0.62" fill="#3c5f8e"/>
<circle cx="429.0" cy="373.8" r="0.62" fill="#3c5f8e"/>
<circle cx="429.3" cy="361.4" r="0.62" fill="#3c5f8e"/>
<circle cx="429.9" cy="370.4" r="0.62" fill="#3c5f8e"/>
<circle cx="426.6" cy="381.6" r="0.62" fill="#3c5f8e"/>
<circle cx="427.7" cy="369.5" r="0.62" fill="#3c5f8e"/>
<circle cx="426.5" cy="377.7" r="0.62" fill="#3c5f8e"/>
<circle cx="432.7" cy="378.4" r="0.62" fill="#3c5f8e"/>
<circle cx="430.3" cy="365.2" r="0.62" fill="#3c5f8e"/>
<circle cx="429.0" cy="370.9" r="0.62" fill="#3c5f8e"/>
<circle cx="431.8" cy="372.1" r="0.62" fill="#3c5f8e"/>
<circle cx="429.2" cy="370.6" r="0.62" fill="#3c5f8e"/>
<circle cx="430.2" cy="366.0" r="0.62" fill="#3c5f8e"/>
<circle cx="428.6" cy="370.9" r="0.62" fill="#3c5f8e"/>
<circle cx="428.6" cy="363.8" r="0.62" fill="#3c5f8e"/>
<circle cx="432.7" cy="378.5" r="0.62" fill="#3c5f8e"/>
<circle cx="434.4" cy="381.8" r="0.62" fill="#3c5f8e"/>
<circle cx="431.8" cy="375.1" r="0.62" fill="#3c5f8e"/>
<circle cx="432.0" cy="375.7" r="0.62" fill="#3c5f8e"/>
<circle cx="425.8" cy="377.7" r="0.62" fill="#3c5f8e"/>
<circle cx="427.1" cy="378.0" r="0.62" fill="#3c5f8e"/>
<circle cx="430.4" cy="364.9" r="0.62" fill="#3c5f8e"/>
<circle cx="429.3" cy="359.8" r="0.62" fill="#3c5f8e"/>
<circle cx="430.2" cy="367.2" r="0.62" fill="#3c5f8e"/>
<circle cx="432.0" cy="373.3" r="0.62" fill="#3c5f8e"/>
<circle cx="431.1" cy="380.7" r="0.62" fill="#3c5f8e"/>
<circle cx="429.7" cy="360.8" r="0.62" fill="#3c5f8e"/>
<circle cx="430.4" cy="361.8" r="0.62" fill="#3c5f8e"/>
<circle cx="427.0" cy="379.3" r="0.62" fill="#3c5f8e"/>
<circle cx="429.8" cy="363.6" r="0.62" fill="#3c5f8e"/>
<circle cx="434.1" cy="376.7" r="0.62" fill="#3c5f8e"/>
<circle cx="426.7" cy="373.6" r="0.62" fill="#3c5f8e"/>
<circle cx="425.2" cy="376.0" r="0.62" fill="#3c5f8e"/>
<circle cx="432.5" cy="379.3" r="0.62" fill="#3c5f8e"/>
<circle cx="433.2" cy="377.4" r="0.62" fill="#3c5f8e"/>
<circle cx="431.9" cy="372.4" r="0.62" fill="#3c5f8e"/>
<circle cx="429.2" cy="374.0" r="0.62" fill="#3c5f8e"/>
<circle cx="428.8" cy="368.1" r="0.62" fill="#3c5f8e"/>
<circle cx="428.5" cy="359.8" r="0.62" fill="#3c5f8e"/>
<circle cx="426.4" cy="377.6" r="0.62" fill="#3c5f8e"/>
<circle cx="431.4" cy="374.3" r="0.62" fill="#3c5f8e"/>
<circle cx="429.4" cy="375.3" r="0.62" fill="#3c5f8e"/>
<circle cx="428.7" cy="366.6" r="0.62" fill="#3c5f8e"/>
<circle cx="429.7" cy="363.6" r="0.62" fill="#3c5f8e"/>
<circle cx="433.0" cy="375.1" r="0.62" fill="#3c5f8e"/>
<circle cx="430.5" cy="366.9" r="0.62" fill="#3c5f8e"/>
<circle cx="426.7" cy="380.3" r="0.62" fill="#3c5f8e"/>
<circle cx="430.9" cy="381.2" r="0.62" fill="#3c5f8e"/>
<circle cx="432.8" cy="381.4" r="0.62" fill="#3c5f8e"/>
<circle cx="428.7" cy="367.0" r="0.62" fill="#3c5f8e"/>
<circle cx="429.2" cy="371.3" r="0.62" fill="#3c5f8e"/>
<circle cx="430.1" cy="360.1" r="0.62" fill="#3c5f8e"/>
<circle cx="429.2" cy="371.6" r="0.62" fill="#3c5f8e"/>
<circle cx="426.9" cy="376.4" r="0.62" fill="#3c5f8e"/>
<circle cx="429.5" cy="363.9" r="0.62" fill="#3c5f8e"/>
<circle cx="428.9" cy="364.9" r="0.62" fill="#3c5f8e"/>
<circle cx="428.3" cy="360.9" r="0.62" fill="#3c5f8e"/>
<circle cx="429.4" cy="367.5" r="0.62" fill="#3c5f8e"/>
<circle cx="431.1" cy="381.1" r="0.62" fill="#3c5f8e"/>
<circle cx="429.0" cy="368.8" r="0.62" fill="#3c5f8e"/>
<circle cx="429.2" cy="364.7" r="0.62" fill="#3c5f8e"/>
<circle cx="424.5" cy="381.4" r="0.62" fill="#3c5f8e"/>
<circle cx="430.0" cy="369.3" r="0.62" fill="#3c5f8e"/>
<circle cx="429.8" cy="376.8" r="0.62" fill="#3c5f8e"/>
<circle cx="432.5" cy="374.0" r="0.62" fill="#3c5f8e"/>
<circle cx="426.2" cy="380.1" r="0.62" fill="#3c5f8e"/>
<line x1="422.30" y1="373.10" x2="436.30" y2="373.10" stroke="#2b2b2b" stroke-width="0.9" />
<polygon points="447.00,359.30 446.50,366.00 445.60,371.00 444.40,375.00 442.80,379.00 441.80,382.00 441.60,383.60 442.50,384.60 453.50,384.60 454.40,383.60 454.20,382.00 453.20,379.00 451.60,375.00 450.40,371.00 449.50,366.00 449.00,359.30" fill="#3c5f8e" opacity="0.7"/>
<circle cx="451.3" cy="373.0" r="0.62" fill="#3c5f8e"/>
<circle cx="446.0" cy="372.7" r="0.62" fill="#3c5f8e"/>
<circle cx="443.2" cy="378.7" r="0.62" fill="#3c5f8e"/>
<circle cx="448.2" cy="363.1" r="0.62" fill="#3c5f8e"/>
<circle cx="448.8" cy="366.2" r="0.62" fill="#3c5f8e"/>
<circle cx="446.2" cy="377.7" r="0.62" fill="#3c5f8e"/>
<circle cx="449.6" cy="378.7" r="0.62" fill="#3c5f8e"/>
<circle cx="447.6" cy="377.2" r="0.62" fill="#3c5f8e"/>
<circle cx="446.0" cy="370.2" r="0.62" fill="#3c5f8e"/>
<circle cx="450.5" cy="371.3" r="0.62" fill="#3c5f8e"/>
<circle cx="442.3" cy="381.8" r="0.62" fill="#3c5f8e"/>
<circle cx="447.3" cy="361.1" r="0.62" fill="#3c5f8e"/>
<circle cx="447.4" cy="376.9" r="0.62" fill="#3c5f8e"/>
<circle cx="447.8" cy="362.5" r="0.62" fill="#3c5f8e"/>
<circle cx="449.7" cy="373.8" r="0.62" fill="#3c5f8e"/>
<circle cx="448.7" cy="369.5" r="0.62" fill="#3c5f8e"/>
<circle cx="449.0" cy="376.5" r="0.62" fill="#3c5f8e"/>
<circle cx="448.6" cy="360.5" r="0.62" fill="#3c5f8e"/>
<circle cx="446.6" cy="362.6" r="0.62" fill="#3c5f8e"/>
<circle cx="445.3" cy="371.3" r="0.62" fill="#3c5f8e"/>
<circle cx="447.7" cy="361.1" r="0.62" fill="#3c5f8e"/>
<circle cx="445.8" cy="371.2" r="0.62" fill="#3c5f8e"/>
<circle cx="452.7" cy="383.4" r="0.62" fill="#3c5f8e"/>
<circle cx="448.5" cy="371.6" r="0.62" fill="#3c5f8e"/>
<circle cx="450.0" cy="367.3" r="0.62" fill="#3c5f8e"/>
<circle cx="447.4" cy="362.3" r="0.62" fill="#3c5f8e"/>
<circle cx="449.3" cy="364.9" r="0.62" fill="#3c5f8e"/>
<circle cx="447.5" cy="372.2" r="0.62" fill="#3c5f8e"/>
<circle cx="449.9" cy="369.4" r="0.62" fill="#3c5f8e"/>
<circle cx="449.0" cy="365.8" r="0.62" fill="#3c5f8e"/>
<circle cx="447.5" cy="377.2" r="0.62" fill="#3c5f8e"/>
<circle cx="447.7" cy="368.6" r="0.62" fill="#3c5f8e"/>
<circle cx="447.0" cy="370.8" r="0.62" fill="#3c5f8e"/>
<circle cx="447.3" cy="375.1" r="0.62" fill="#3c5f8e"/>
<circle cx="449.1" cy="367.0" r="0.62" fill="#3c5f8e"/>
<circle cx="447.9" cy="370.8" r="0.62" fill="#3c5f8e"/>
<circle cx="447.4" cy="381.6" r="0.62" fill="#3c5f8e"/>
<circle cx="449.8" cy="368.8" r="0.62" fill="#3c5f8e"/>
<circle cx="451.6" cy="384.0" r="0.62" fill="#3c5f8e"/>
<circle cx="448.8" cy="369.5" r="0.62" fill="#3c5f8e"/>
<circle cx="445.9" cy="378.0" r="0.62" fill="#3c5f8e"/>
<circle cx="452.5" cy="377.6" r="0.62" fill="#3c5f8e"/>
<circle cx="449.4" cy="375.9" r="0.62" fill="#3c5f8e"/>
<circle cx="448.8" cy="370.3" r="0.62" fill="#3c5f8e"/>
<circle cx="448.9" cy="365.0" r="0.62" fill="#3c5f8e"/>
<circle cx="451.2" cy="372.9" r="0.62" fill="#3c5f8e"/>
<circle cx="448.9" cy="367.9" r="0.62" fill="#3c5f8e"/>
<circle cx="447.8" cy="359.7" r="0.62" fill="#3c5f8e"/>
<circle cx="445.4" cy="378.7" r="0.62" fill="#3c5f8e"/>
<circle cx="445.9" cy="374.8" r="0.62" fill="#3c5f8e"/>
<circle cx="450.4" cy="369.4" r="0.62" fill="#3c5f8e"/>
<circle cx="449.4" cy="364.3" r="0.62" fill="#3c5f8e"/>
<circle cx="448.2" cy="360.8" r="0.62" fill="#3c5f8e"/>
<circle cx="452.0" cy="380.1" r="0.62" fill="#3c5f8e"/>
<circle cx="448.4" cy="369.2" r="0.62" fill="#3c5f8e"/>
<circle cx="450.5" cy="377.3" r="0.62" fill="#3c5f8e"/>
<circle cx="448.8" cy="378.2" r="0.62" fill="#3c5f8e"/>
<circle cx="448.7" cy="365.7" r="0.62" fill="#3c5f8e"/>
<circle cx="448.3" cy="373.5" r="0.62" fill="#3c5f8e"/>
<circle cx="443.6" cy="384.3" r="0.62" fill="#3c5f8e"/>
<circle cx="446.1" cy="379.1" r="0.62" fill="#3c5f8e"/>
<circle cx="452.5" cy="377.7" r="0.62" fill="#3c5f8e"/>
<circle cx="448.2" cy="366.2" r="0.62" fill="#3c5f8e"/>
<circle cx="448.0" cy="372.7" r="0.62" fill="#3c5f8e"/>
<circle cx="448.4" cy="363.5" r="0.62" fill="#3c5f8e"/>
<circle cx="450.1" cy="381.9" r="0.62" fill="#3c5f8e"/>
<circle cx="449.2" cy="366.6" r="0.62" fill="#3c5f8e"/>
<circle cx="446.2" cy="369.9" r="0.62" fill="#3c5f8e"/>
<circle cx="447.7" cy="374.6" r="0.62" fill="#3c5f8e"/>
<circle cx="451.2" cy="372.7" r="0.62" fill="#3c5f8e"/>
<circle cx="451.2" cy="373.7" r="0.62" fill="#3c5f8e"/>
<circle cx="449.1" cy="368.2" r="0.62" fill="#3c5f8e"/>
<circle cx="447.4" cy="361.2" r="0.62" fill="#3c5f8e"/>
<circle cx="449.8" cy="376.8" r="0.62" fill="#3c5f8e"/>
<circle cx="446.6" cy="380.3" r="0.62" fill="#3c5f8e"/>
<circle cx="447.5" cy="366.2" r="0.62" fill="#3c5f8e"/>
<circle cx="444.9" cy="372.9" r="0.62" fill="#3c5f8e"/>
<circle cx="448.7" cy="368.8" r="0.62" fill="#3c5f8e"/>
<circle cx="447.4" cy="363.1" r="0.62" fill="#3c5f8e"/>
<circle cx="453.5" cy="381.4" r="0.62" fill="#3c5f8e"/>
<circle cx="446.9" cy="365.6" r="0.62" fill="#3c5f8e"/>
<circle cx="446.7" cy="362.3" r="0.62" fill="#3c5f8e"/>
<circle cx="450.7" cy="379.4" r="0.62" fill="#3c5f8e"/>
<circle cx="448.0" cy="366.0" r="0.62" fill="#3c5f8e"/>
<circle cx="443.6" cy="376.9" r="0.62" fill="#3c5f8e"/>
<circle cx="452.2" cy="380.0" r="0.62" fill="#3c5f8e"/>
<circle cx="448.7" cy="364.6" r="0.62" fill="#3c5f8e"/>
<circle cx="446.5" cy="377.0" r="0.62" fill="#3c5f8e"/>
<circle cx="444.4" cy="381.5" r="0.62" fill="#3c5f8e"/>
<circle cx="447.0" cy="371.3" r="0.62" fill="#3c5f8e"/>
<circle cx="449.6" cy="370.5" r="0.62" fill="#3c5f8e"/>
<circle cx="448.8" cy="373.7" r="0.62" fill="#3c5f8e"/>
<circle cx="444.6" cy="384.3" r="0.62" fill="#3c5f8e"/>
<circle cx="448.4" cy="364.9" r="0.62" fill="#3c5f8e"/>
<circle cx="449.5" cy="363.1" r="0.62" fill="#3c5f8e"/>
<circle cx="447.7" cy="367.9" r="0.62" fill="#3c5f8e"/>
<circle cx="449.7" cy="370.2" r="0.62" fill="#3c5f8e"/>
<circle cx="450.3" cy="382.5" r="0.62" fill="#3c5f8e"/>
<circle cx="447.5" cy="363.6" r="0.62" fill="#3c5f8e"/>
<circle cx="445.3" cy="377.2" r="0.62" fill="#3c5f8e"/>
<circle cx="452.7" cy="381.6" r="0.62" fill="#3c5f8e"/>
<circle cx="447.5" cy="365.0" r="0.62" fill="#3c5f8e"/>
<circle cx="448.8" cy="365.1" r="0.62" fill="#3c5f8e"/>
<circle cx="448.5" cy="360.5" r="0.62" fill="#3c5f8e"/>
<circle cx="449.0" cy="360.9" r="0.62" fill="#3c5f8e"/>
<circle cx="448.6" cy="373.0" r="0.62" fill="#3c5f8e"/>
<circle cx="446.7" cy="361.7" r="0.62" fill="#3c5f8e"/>
<circle cx="450.1" cy="368.2" r="0.62" fill="#3c5f8e"/>
<circle cx="450.7" cy="374.5" r="0.62" fill="#3c5f8e"/>
<circle cx="446.9" cy="360.9" r="0.62" fill="#3c5f8e"/>
<circle cx="448.5" cy="359.8" r="0.62" fill="#3c5f8e"/>
<circle cx="447.3" cy="363.8" r="0.62" fill="#3c5f8e"/>
<circle cx="449.7" cy="376.2" r="0.62" fill="#3c5f8e"/>
<circle cx="447.9" cy="367.5" r="0.62" fill="#3c5f8e"/>
<circle cx="448.2" cy="366.6" r="0.62" fill="#3c5f8e"/>
<circle cx="447.4" cy="368.3" r="0.62" fill="#3c5f8e"/>
<circle cx="447.3" cy="365.6" r="0.62" fill="#3c5f8e"/>
<circle cx="446.3" cy="365.9" r="0.62" fill="#3c5f8e"/>
<circle cx="448.4" cy="367.2" r="0.62" fill="#3c5f8e"/>
<circle cx="446.6" cy="366.1" r="0.62" fill="#3c5f8e"/>
<circle cx="447.6" cy="380.7" r="0.62" fill="#3c5f8e"/>
<circle cx="446.8" cy="372.2" r="0.62" fill="#3c5f8e"/>
<circle cx="451.3" cy="381.7" r="0.62" fill="#3c5f8e"/>
<circle cx="449.3" cy="375.1" r="0.62" fill="#3c5f8e"/>
<circle cx="448.0" cy="376.8" r="0.62" fill="#3c5f8e"/>
<circle cx="447.5" cy="369.8" r="0.62" fill="#3c5f8e"/>
<circle cx="447.8" cy="372.1" r="0.62" fill="#3c5f8e"/>
<circle cx="448.2" cy="372.7" r="0.62" fill="#3c5f8e"/>
<circle cx="452.4" cy="379.3" r="0.62" fill="#3c5f8e"/>
<circle cx="446.4" cy="365.0" r="0.62" fill="#3c5f8e"/>
<circle cx="446.2" cy="366.9" r="0.62" fill="#3c5f8e"/>
<circle cx="449.4" cy="379.4" r="0.62" fill="#3c5f8e"/>
<circle cx="446.8" cy="366.5" r="0.62" fill="#3c5f8e"/>
<circle cx="452.2" cy="381.3" r="0.62" fill="#3c5f8e"/>
<circle cx="449.7" cy="376.6" r="0.62" fill="#3c5f8e"/>
<circle cx="447.5" cy="378.1" r="0.62" fill="#3c5f8e"/>
<circle cx="448.3" cy="369.4" r="0.62" fill="#3c5f8e"/>
<circle cx="454.2" cy="381.6" r="0.62" fill="#3c5f8e"/>
<circle cx="452.4" cy="382.5" r="0.62" fill="#3c5f8e"/>
<circle cx="447.3" cy="361.2" r="0.62" fill="#3c5f8e"/>
<circle cx="448.6" cy="383.9" r="0.62" fill="#3c5f8e"/>
<circle cx="446.8" cy="372.3" r="0.62" fill="#3c5f8e"/>
<circle cx="448.2" cy="381.1" r="0.62" fill="#3c5f8e"/>
<circle cx="442.9" cy="384.4" r="0.62" fill="#3c5f8e"/>
<circle cx="442.2" cy="384.4" r="0.62" fill="#3c5f8e"/>
<circle cx="447.7" cy="363.1" r="0.62" fill="#3c5f8e"/>
<circle cx="444.8" cy="375.5" r="0.62" fill="#3c5f8e"/>
<circle cx="451.0" cy="373.5" r="0.62" fill="#3c5f8e"/>
<circle cx="449.4" cy="370.3" r="0.62" fill="#3c5f8e"/>
<circle cx="448.6" cy="374.3" r="0.62" fill="#3c5f8e"/>
<circle cx="447.9" cy="363.7" r="0.62" fill="#3c5f8e"/>
<circle cx="450.3" cy="382.1" r="0.62" fill="#3c5f8e"/>
<circle cx="447.8" cy="364.8" r="0.62" fill="#3c5f8e"/>
<circle cx="446.9" cy="373.1" r="0.62" fill="#3c5f8e"/>
<circle cx="448.9" cy="373.9" r="0.62" fill="#3c5f8e"/>
<circle cx="447.3" cy="359.8" r="0.62" fill="#3c5f8e"/>
<circle cx="445.6" cy="375.9" r="0.62" fill="#3c5f8e"/>
<circle cx="448.8" cy="361.1" r="0.62" fill="#3c5f8e"/>
<circle cx="449.9" cy="367.7" r="0.62" fill="#3c5f8e"/>
<circle cx="445.3" cy="373.4" r="0.62" fill="#3c5f8e"/>
<circle cx="446.1" cy="375.4" r="0.62" fill="#3c5f8e"/>
<circle cx="450.6" cy="379.9" r="0.62" fill="#3c5f8e"/>
<circle cx="443.3" cy="378.5" r="0.62" fill="#3c5f8e"/>
<circle cx="448.8" cy="360.2" r="0.62" fill="#3c5f8e"/>
<circle cx="447.1" cy="362.9" r="0.62" fill="#3c5f8e"/>
<circle cx="447.1" cy="360.1" r="0.62" fill="#3c5f8e"/>
<circle cx="450.6" cy="371.3" r="0.62" fill="#3c5f8e"/>
<circle cx="447.0" cy="367.4" r="0.62" fill="#3c5f8e"/>
<circle cx="444.3" cy="380.2" r="0.62" fill="#3c5f8e"/>
<circle cx="448.9" cy="375.4" r="0.62" fill="#3c5f8e"/>
<line x1="440.50" y1="373.10" x2="455.50" y2="373.10" stroke="#2b2b2b" stroke-width="0.9" />
<circle cx="464.9" cy="373.1" r="0.7" fill="#a51f38"/>
<circle cx="465.9" cy="361.9" r="0.7" fill="#a51f38"/>
<circle cx="465.6" cy="369.7" r="0.7" fill="#a51f38"/>
<circle cx="465.4" cy="366.4" r="0.7" fill="#a51f38"/>
<circle cx="467.7" cy="359.8" r="0.7" fill="#a51f38"/>
<circle cx="465.6" cy="352.1" r="0.7" fill="#a51f38"/>
<circle cx="466.8" cy="372.5" r="0.7" fill="#a51f38"/>
<circle cx="465.4" cy="346.9" r="0.7" fill="#a51f38"/>
<circle cx="465.7" cy="352.0" r="0.7" fill="#a51f38"/>
<circle cx="466.9" cy="370.3" r="0.7" fill="#a51f38"/>
<circle cx="466.8" cy="374.4" r="0.7" fill="#a51f38"/>
<circle cx="465.9" cy="363.8" r="0.7" fill="#a51f38"/>
<circle cx="466.3" cy="366.5" r="0.7" fill="#a51f38"/>
<circle cx="466.3" cy="346.7" r="0.7" fill="#a51f38"/>
<polygon points="465.50,375.00 465.30,399.00 464.70,403.00 462.30,405.00 460.50,406.30 472.10,406.30 470.30,405.00 467.90,403.00 467.30,399.00 467.10,375.00" fill="#a51f38" opacity="0.7"/>
<circle cx="466.4" cy="387.0" r="0.7" fill="#a51f38"/>
<circle cx="465.2" cy="376.5" r="0.7" fill="#a51f38"/>
<circle cx="464.9" cy="405.8" r="0.7" fill="#a51f38"/>
<circle cx="465.5" cy="385.3" r="0.7" fill="#a51f38"/>
<circle cx="467.3" cy="393.5" r="0.7" fill="#a51f38"/>
<circle cx="466.3" cy="380.6" r="0.7" fill="#a51f38"/>
<circle cx="467.0" cy="390.6" r="0.7" fill="#a51f38"/>
<circle cx="465.6" cy="392.7" r="0.7" fill="#a51f38"/>
<circle cx="466.8" cy="380.9" r="0.7" fill="#a51f38"/>
<circle cx="467.1" cy="377.4" r="0.7" fill="#a51f38"/>
<circle cx="465.6" cy="376.0" r="0.7" fill="#a51f38"/>
<circle cx="467.1" cy="389.6" r="0.7" fill="#a51f38"/>
<circle cx="466.9" cy="394.4" r="0.7" fill="#a51f38"/>
<circle cx="466.9" cy="398.8" r="0.7" fill="#a51f38"/>
<circle cx="467.0" cy="376.6" r="0.7" fill="#a51f38"/>
<circle cx="465.5" cy="379.6" r="0.7" fill="#a51f38"/>
<circle cx="465.3" cy="376.2" r="0.7" fill="#a51f38"/>
<circle cx="465.9" cy="402.4" r="0.7" fill="#a51f38"/>
<circle cx="465.3" cy="377.7" r="0.7" fill="#a51f38"/>
<circle cx="466.6" cy="401.5" r="0.7" fill="#a51f38"/>
<circle cx="463.8" cy="403.7" r="0.7" fill="#a51f38"/>
<circle cx="465.8" cy="378.5" r="0.7" fill="#a51f38"/>
<circle cx="465.4" cy="381.0" r="0.7" fill="#a51f38"/>
<circle cx="466.6" cy="381.3" r="0.7" fill="#a51f38"/>
<circle cx="465.5" cy="380.3" r="0.7" fill="#a51f38"/>
<circle cx="466.0" cy="391.8" r="0.7" fill="#a51f38"/>
<circle cx="466.5" cy="379.7" r="0.7" fill="#a51f38"/>
<circle cx="466.0" cy="390.9" r="0.7" fill="#a51f38"/>
<circle cx="465.2" cy="389.8" r="0.7" fill="#a51f38"/>
<circle cx="465.5" cy="394.3" r="0.7" fill="#a51f38"/>
<circle cx="465.1" cy="385.5" r="0.7" fill="#a51f38"/>
<circle cx="466.6" cy="402.8" r="0.7" fill="#a51f38"/>
<circle cx="466.4" cy="387.3" r="0.7" fill="#a51f38"/>
<circle cx="463.6" cy="404.4" r="0.7" fill="#a51f38"/>
<circle cx="466.8" cy="387.0" r="0.7" fill="#a51f38"/>
<circle cx="466.8" cy="386.6" r="0.7" fill="#a51f38"/>
<circle cx="464.1" cy="403.4" r="0.7" fill="#a51f38"/>
<circle cx="465.8" cy="383.9" r="0.7" fill="#a51f38"/>
<circle cx="467.0" cy="398.5" r="0.7" fill="#a51f38"/>
<circle cx="467.4" cy="396.9" r="0.7" fill="#a51f38"/>
<circle cx="466.1" cy="380.8" r="0.7" fill="#a51f38"/>
<circle cx="467.2" cy="401.7" r="0.7" fill="#a51f38"/>
<circle cx="467.4" cy="378.5" r="0.7" fill="#a51f38"/>
<circle cx="467.2" cy="398.2" r="0.7" fill="#a51f38"/>
<circle cx="466.6" cy="386.3" r="0.7" fill="#a51f38"/>
<line x1="460.10" y1="385.30" x2="472.50" y2="385.30" stroke="#2b2b2b" stroke-width="0.9" />
<line x1="464.10" y1="381.70" x2="468.50" y2="381.70" stroke="#e0a0b0" stroke-width="1.0" />
<line x1="464.10" y1="388.30" x2="468.50" y2="388.30" stroke="#e0a0b0" stroke-width="1.0" />
<line x1="478.00" y1="392.70" x2="492.00" y2="392.70" stroke="#2b2b2b" stroke-width="0.9" />
<circle cx="485.2" cy="370.9" r="0.7" fill="#a51f38"/>
<polygon points="484.00,373.50 482.80,375.00 480.70,378.00 479.70,381.00 479.60,390.00 480.40,396.00 480.70,406.30 489.30,406.30 489.60,396.00 490.40,390.00 490.30,381.00 489.30,378.00 487.20,375.00 486.00,373.50" fill="#a51f38" opacity="0.5"/>
<circle cx="489.2" cy="392.4" r="0.7" fill="#a51f38"/>
<circle cx="488.1" cy="406.3" r="0.7" fill="#a51f38"/>
<circle cx="489.6" cy="395.0" r="0.7" fill="#a51f38"/>
<circle cx="484.1" cy="378.2" r="0.7" fill="#a51f38"/>
<circle cx="481.0" cy="392.0" r="0.7" fill="#a51f38"/>
<circle cx="480.8" cy="399.1" r="0.7" fill="#a51f38"/>
<circle cx="482.7" cy="394.1" r="0.7" fill="#a51f38"/>
<circle cx="486.2" cy="384.1" r="0.7" fill="#a51f38"/>
<circle cx="484.5" cy="379.8" r="0.7" fill="#a51f38"/>
<circle cx="489.6" cy="401.6" r="0.7" fill="#a51f38"/>
<circle cx="483.5" cy="382.1" r="0.7" fill="#a51f38"/>
<circle cx="482.0" cy="396.3" r="0.7" fill="#a51f38"/>
<circle cx="482.1" cy="401.4" r="0.7" fill="#a51f38"/>
<circle cx="483.2" cy="391.8" r="0.7" fill="#a51f38"/>
<circle cx="483.7" cy="373.5" r="0.7" fill="#a51f38"/>
<circle cx="484.5" cy="373.6" r="0.7" fill="#a51f38"/>
<circle cx="490.5" cy="382.5" r="0.7" fill="#a51f38"/>
<circle cx="480.6" cy="394.4" r="0.7" fill="#a51f38"/>
<circle cx="482.4" cy="397.0" r="0.7" fill="#a51f38"/>
<circle cx="487.5" cy="389.3" r="0.7" fill="#a51f38"/>
<circle cx="489.1" cy="401.6" r="0.7" fill="#a51f38"/>
<circle cx="482.9" cy="387.3" r="0.7" fill="#a51f38"/>
<circle cx="482.9" cy="386.5" r="0.7" fill="#a51f38"/>
<circle cx="484.6" cy="397.8" r="0.7" fill="#a51f38"/>
<circle cx="481.6" cy="396.0" r="0.7" fill="#a51f38"/>
<circle cx="489.5" cy="399.2" r="0.7" fill="#a51f38"/>
<circle cx="486.2" cy="380.2" r="0.7" fill="#a51f38"/>
<circle cx="480.5" cy="378.8" r="0.7" fill="#a51f38"/>
<circle cx="481.4" cy="387.1" r="0.7" fill="#a51f38"/>
<circle cx="485.7" cy="397.5" r="0.7" fill="#a51f38"/>
<circle cx="489.6" cy="395.6" r="0.7" fill="#a51f38"/>
<circle cx="482.8" cy="375.4" r="0.7" fill="#a51f38"/>
<circle cx="484.8" cy="374.7" r="0.7" fill="#a51f38"/>
<circle cx="486.8" cy="400.5" r="0.7" fill="#a51f38"/>
<circle cx="488.9" cy="391.5" r="0.7" fill="#a51f38"/>
<circle cx="480.6" cy="385.7" r="0.7" fill="#a51f38"/>
<circle cx="480.2" cy="394.5" r="0.7" fill="#a51f38"/>
<circle cx="479.7" cy="381.0" r="0.7" fill="#a51f38"/>
<circle cx="480.8" cy="378.8" r="0.7" fill="#a51f38"/>
<circle cx="480.9" cy="390.9" r="0.7" fill="#a51f38"/>
<circle cx="488.4" cy="393.3" r="0.7" fill="#a51f38"/>
<circle cx="480.7" cy="384.8" r="0.7" fill="#a51f38"/>
<circle cx="487.3" cy="395.5" r="0.7" fill="#a51f38"/>
<circle cx="485.5" cy="402.5" r="0.7" fill="#a51f38"/>
<circle cx="488.9" cy="392.6" r="0.7" fill="#a51f38"/>
<circle cx="489.7" cy="395.7" r="0.7" fill="#a51f38"/>
<circle cx="488.1" cy="382.9" r="0.7" fill="#a51f38"/>
<circle cx="484.7" cy="394.3" r="0.7" fill="#a51f38"/>
<circle cx="484.9" cy="373.9" r="0.7" fill="#a51f38"/>
<circle cx="486.1" cy="382.1" r="0.7" fill="#a51f38"/>
<circle cx="485.1" cy="390.2" r="0.7" fill="#a51f38"/>
<circle cx="482.9" cy="375.4" r="0.7" fill="#a51f38"/>
<circle cx="486.9" cy="393.4" r="0.7" fill="#a51f38"/>
<circle cx="487.7" cy="406.0" r="0.7" fill="#a51f38"/>
<circle cx="484.5" cy="383.0" r="0.7" fill="#a51f38"/>
<circle cx="488.5" cy="390.1" r="0.7" fill="#a51f38"/>
<circle cx="489.8" cy="386.4" r="0.7" fill="#a51f38"/>
<circle cx="483.8" cy="389.4" r="0.7" fill="#a51f38"/>
<circle cx="483.4" cy="389.2" r="0.7" fill="#a51f38"/>
<circle cx="480.8" cy="406.3" r="0.7" fill="#a51f38"/>
<circle cx="480.2" cy="386.6" r="0.7" fill="#a51f38"/>
<circle cx="481.6" cy="395.7" r="0.7" fill="#a51f38"/>
<circle cx="484.3" cy="378.4" r="0.7" fill="#a51f38"/>
<circle cx="487.8" cy="393.2" r="0.7" fill="#a51f38"/>
<circle cx="482.7" cy="388.1" r="0.7" fill="#a51f38"/>
<circle cx="489.4" cy="385.6" r="0.7" fill="#a51f38"/>
<circle cx="479.7" cy="380.5" r="0.7" fill="#a51f38"/>
<circle cx="484.8" cy="402.6" r="0.7" fill="#a51f38"/>
<circle cx="481.7" cy="377.8" r="0.7" fill="#a51f38"/>
<circle cx="487.3" cy="402.7" r="0.7" fill="#a51f38"/>
<circle cx="486.0" cy="375.6" r="0.7" fill="#a51f38"/>
<circle cx="484.4" cy="380.5" r="0.7" fill="#a51f38"/>
<circle cx="480.3" cy="393.3" r="0.7" fill="#a51f38"/>
<circle cx="483.5" cy="404.2" r="0.7" fill="#a51f38"/>
<circle cx="487.6" cy="378.2" r="0.7" fill="#a51f38"/>
<circle cx="481.3" cy="377.1" r="0.7" fill="#a51f38"/>
<circle cx="484.7" cy="394.9" r="0.7" fill="#a51f38"/>
<circle cx="487.7" cy="403.0" r="0.7" fill="#a51f38"/>
<circle cx="480.1" cy="380.3" r="0.7" fill="#a51f38"/>
<circle cx="484.7" cy="393.3" r="0.7" fill="#a51f38"/>
<circle cx="489.7" cy="383.4" r="0.7" fill="#a51f38"/>
<circle cx="486.5" cy="380.3" r="0.7" fill="#a51f38"/>
<circle cx="487.7" cy="375.9" r="0.7" fill="#a51f38"/>
<circle cx="486.1" cy="404.6" r="0.7" fill="#a51f38"/>
<circle cx="487.5" cy="384.0" r="0.7" fill="#a51f38"/>
<circle cx="487.8" cy="403.1" r="0.7" fill="#a51f38"/>
<circle cx="485.0" cy="374.8" r="0.7" fill="#a51f38"/>
<circle cx="485.4" cy="378.1" r="0.7" fill="#a51f38"/>
<circle cx="488.4" cy="404.7" r="0.7" fill="#a51f38"/>
<circle cx="485.6" cy="381.7" r="0.7" fill="#a51f38"/>
<circle cx="481.3" cy="383.9" r="0.7" fill="#a51f38"/>
<circle cx="487.5" cy="397.9" r="0.7" fill="#a51f38"/>
<circle cx="484.1" cy="384.5" r="0.7" fill="#a51f38"/>
<circle cx="487.2" cy="396.3" r="0.7" fill="#a51f38"/>
<circle cx="480.7" cy="388.7" r="0.7" fill="#a51f38"/>
<circle cx="482.6" cy="376.6" r="0.7" fill="#a51f38"/>
<circle cx="485.0" cy="400.6" r="0.7" fill="#a51f38"/>
<circle cx="483.6" cy="394.6" r="0.7" fill="#a51f38"/>
<circle cx="481.3" cy="385.6" r="0.7" fill="#a51f38"/>
<circle cx="486.0" cy="405.5" r="0.7" fill="#a51f38"/>
<circle cx="486.8" cy="377.7" r="0.7" fill="#a51f38"/>
<circle cx="486.2" cy="393.1" r="0.7" fill="#a51f38"/>
<circle cx="486.0" cy="398.8" r="0.7" fill="#a51f38"/>
<circle cx="489.4" cy="402.2" r="0.7" fill="#a51f38"/>
<circle cx="486.7" cy="386.8" r="0.7" fill="#a51f38"/>
<circle cx="484.0" cy="385.8" r="0.7" fill="#a51f38"/>
<circle cx="486.7" cy="385.5" r="0.7" fill="#a51f38"/>
<circle cx="483.3" cy="385.1" r="0.7" fill="#a51f38"/>
<circle cx="487.8" cy="401.3" r="0.7" fill="#a51f38"/>
<circle cx="488.4" cy="395.7" r="0.7" fill="#a51f38"/>
<circle cx="486.6" cy="386.2" r="0.7" fill="#a51f38"/>
<circle cx="482.9" cy="381.7" r="0.7" fill="#a51f38"/>
<circle cx="487.2" cy="376.8" r="0.7" fill="#a51f38"/>
<circle cx="483.2" cy="403.7" r="0.7" fill="#a51f38"/>
<circle cx="480.7" cy="385.9" r="0.7" fill="#a51f38"/>
<circle cx="486.3" cy="378.2" r="0.7" fill="#a51f38"/>
<circle cx="481.1" cy="402.8" r="0.7" fill="#a51f38"/>
<circle cx="487.9" cy="381.9" r="0.7" fill="#a51f38"/>
<circle cx="489.2" cy="380.9" r="0.7" fill="#a51f38"/>
<circle cx="484.7" cy="385.1" r="0.7" fill="#a51f38"/>
<circle cx="482.8" cy="380.1" r="0.7" fill="#a51f38"/>
<circle cx="482.5" cy="387.4" r="0.7" fill="#a51f38"/>
<circle cx="480.4" cy="397.4" r="0.7" fill="#a51f38"/>
<circle cx="488.1" cy="394.5" r="0.7" fill="#a51f38"/>
<circle cx="481.5" cy="384.2" r="0.7" fill="#a51f38"/>
<circle cx="481.4" cy="377.4" r="0.7" fill="#a51f38"/>
<circle cx="486.0" cy="399.5" r="0.7" fill="#a51f38"/>
<circle cx="484.8" cy="374.0" r="0.7" fill="#a51f38"/>
<circle cx="483.1" cy="393.1" r="0.7" fill="#a51f38"/>
<circle cx="484.7" cy="374.6" r="0.7" fill="#a51f38"/>
<circle cx="490.3" cy="385.1" r="0.7" fill="#a51f38"/>
<circle cx="489.8" cy="385.3" r="0.7" fill="#a51f38"/>
<circle cx="485.7" cy="402.0" r="0.7" fill="#a51f38"/>
<circle cx="487.7" cy="377.6" r="0.7" fill="#a51f38"/>
<circle cx="485.4" cy="376.5" r="0.7" fill="#a51f38"/>
<circle cx="482.0" cy="376.7" r="0.7" fill="#a51f38"/>
<circle cx="481.1" cy="387.0" r="0.7" fill="#a51f38"/>
<circle cx="485.7" cy="406.0" r="0.7" fill="#a51f38"/>
<circle cx="489.3" cy="402.9" r="0.7" fill="#a51f38"/>
<circle cx="486.4" cy="398.4" r="0.7" fill="#a51f38"/>
<circle cx="488.2" cy="389.0" r="0.7" fill="#a51f38"/>
<circle cx="481.6" cy="395.5" r="0.7" fill="#a51f38"/>
<circle cx="484.0" cy="390.9" r="0.7" fill="#a51f38"/>
<circle cx="487.4" cy="390.4" r="0.7" fill="#a51f38"/>
<circle cx="485.7" cy="396.1" r="0.7" fill="#a51f38"/>
<circle cx="488.1" cy="399.4" r="0.7" fill="#a51f38"/>
<circle cx="482.5" cy="376.5" r="0.7" fill="#a51f38"/>
<circle cx="483.3" cy="375.0" r="0.7" fill="#a51f38"/>
<circle cx="483.2" cy="405.0" r="0.7" fill="#a51f38"/>
<circle cx="484.6" cy="387.9" r="0.7" fill="#a51f38"/>
<circle cx="482.6" cy="392.0" r="0.7" fill="#a51f38"/>
<circle cx="483.4" cy="399.0" r="0.7" fill="#a51f38"/>
<circle cx="487.9" cy="401.2" r="0.7" fill="#a51f38"/>
<circle cx="485.1" cy="373.5" r="0.7" fill="#a51f38"/>
<circle cx="487.8" cy="376.6" r="0.7" fill="#a51f38"/>
<circle cx="483.6" cy="375.8" r="0.7" fill="#a51f38"/>
<circle cx="485.9" cy="398.7" r="0.7" fill="#a51f38"/>
<circle cx="484.1" cy="395.4" r="0.7" fill="#a51f38"/>
<circle cx="481.7" cy="390.6" r="0.7" fill="#a51f38"/>
<circle cx="482.2" cy="388.7" r="0.7" fill="#a51f38"/>
<circle cx="481.1" cy="395.7" r="0.7" fill="#a51f38"/>
<circle cx="482.2" cy="378.0" r="0.7" fill="#a51f38"/>
<circle cx="485.9" cy="391.0" r="0.7" fill="#a51f38"/>
<circle cx="486.3" cy="373.6" r="0.7" fill="#a51f38"/>
<circle cx="483.9" cy="400.9" r="0.7" fill="#a51f38"/>
<circle cx="488.2" cy="378.7" r="0.7" fill="#a51f38"/>
<circle cx="482.0" cy="405.5" r="0.7" fill="#a51f38"/>
<circle cx="488.1" cy="398.3" r="0.7" fill="#a51f38"/>
<circle cx="482.3" cy="404.2" r="0.7" fill="#a51f38"/>
<circle cx="482.2" cy="377.5" r="0.7" fill="#a51f38"/>
<circle cx="489.5" cy="381.1" r="0.7" fill="#a51f38"/>
<circle cx="484.8" cy="403.3" r="0.7" fill="#a51f38"/>
<circle cx="483.7" cy="377.7" r="0.7" fill="#a51f38"/>
<circle cx="486.7" cy="381.4" r="0.7" fill="#a51f38"/>
<circle cx="487.7" cy="397.1" r="0.7" fill="#a51f38"/>
<circle cx="484.5" cy="387.8" r="0.7" fill="#a51f38"/>
<circle cx="483.5" cy="388.8" r="0.7" fill="#a51f38"/>
<circle cx="487.1" cy="388.4" r="0.7" fill="#a51f38"/>
<circle cx="483.3" cy="396.8" r="0.7" fill="#a51f38"/>
<circle cx="481.2" cy="392.1" r="0.7" fill="#a51f38"/>
<circle cx="484.4" cy="375.0" r="0.7" fill="#a51f38"/>
<circle cx="479.7" cy="385.3" r="0.7" fill="#a51f38"/>
<circle cx="484.5" cy="376.1" r="0.7" fill="#a51f38"/>
<circle cx="488.1" cy="404.4" r="0.7" fill="#a51f38"/>
<circle cx="484.2" cy="374.5" r="0.7" fill="#a51f38"/>
<circle cx="482.9" cy="385.6" r="0.7" fill="#a51f38"/>
<circle cx="485.8" cy="378.0" r="0.7" fill="#a51f38"/>
<circle cx="483.9" cy="401.0" r="0.7" fill="#a51f38"/>
<circle cx="481.0" cy="379.3" r="0.7" fill="#a51f38"/>
<circle cx="485.9" cy="374.0" r="0.7" fill="#a51f38"/>
<circle cx="487.5" cy="381.1" r="0.7" fill="#a51f38"/>
<circle cx="481.0" cy="399.4" r="0.7" fill="#a51f38"/>
<circle cx="483.1" cy="379.7" r="0.7" fill="#a51f38"/>
<circle cx="487.3" cy="398.7" r="0.7" fill="#a51f38"/>
<circle cx="484.5" cy="383.4" r="0.7" fill="#a51f38"/>
<circle cx="484.7" cy="385.1" r="0.7" fill="#a51f38"/>
<circle cx="482.7" cy="399.5" r="0.7" fill="#a51f38"/>
<circle cx="489.0" cy="400.1" r="0.7" fill="#a51f38"/>
<circle cx="489.8" cy="393.2" r="0.7" fill="#a51f38"/>
<circle cx="481.9" cy="404.3" r="0.7" fill="#a51f38"/>
<circle cx="482.2" cy="406.0" r="0.7" fill="#a51f38"/>
<circle cx="481.4" cy="399.9" r="0.7" fill="#a51f38"/>
<circle cx="484.3" cy="383.4" r="0.7" fill="#a51f38"/>
<circle cx="486.7" cy="401.0" r="0.7" fill="#a51f38"/>
<circle cx="489.2" cy="380.2" r="0.7" fill="#a51f38"/>
<circle cx="485.1" cy="401.9" r="0.7" fill="#a51f38"/>
<circle cx="483.9" cy="375.2" r="0.7" fill="#a51f38"/>
<circle cx="484.1" cy="383.1" r="0.7" fill="#a51f38"/>
<circle cx="485.9" cy="404.4" r="0.7" fill="#a51f38"/>
<circle cx="480.9" cy="400.4" r="0.7" fill="#a51f38"/>
<circle cx="487.6" cy="381.6" r="0.7" fill="#a51f38"/>
<circle cx="481.9" cy="384.7" r="0.7" fill="#a51f38"/>
<circle cx="482.4" cy="375.6" r="0.7" fill="#a51f38"/>
<circle cx="485.5" cy="387.0" r="0.7" fill="#a51f38"/>
<circle cx="485.7" cy="386.6" r="0.7" fill="#a51f38"/>
<circle cx="479.6" cy="383.0" r="0.7" fill="#a51f38"/>
<circle cx="483.4" cy="395.6" r="0.7" fill="#a51f38"/>
<circle cx="483.6" cy="389.6" r="0.7" fill="#a51f38"/>
<circle cx="480.0" cy="382.4" r="0.7" fill="#a51f38"/>
<circle cx="482.7" cy="383.2" r="0.7" fill="#a51f38"/>
<circle cx="481.2" cy="377.3" r="0.7" fill="#a51f38"/>
<circle cx="479.5" cy="389.3" r="0.7" fill="#a51f38"/>
<circle cx="483.7" cy="402.3" r="0.7" fill="#a51f38"/>
<circle cx="485.3" cy="388.1" r="0.7" fill="#a51f38"/>
<circle cx="483.5" cy="374.3" r="0.7" fill="#a51f38"/>
<circle cx="485.5" cy="399.3" r="0.7" fill="#a51f38"/>
<circle cx="483.2" cy="389.7" r="0.7" fill="#a51f38"/>
<circle cx="485.0" cy="398.1" r="0.7" fill="#a51f38"/>
<circle cx="488.2" cy="399.5" r="0.7" fill="#a51f38"/>
<circle cx="487.1" cy="402.8" r="0.7" fill="#a51f38"/>
<circle cx="484.6" cy="395.6" r="0.7" fill="#a51f38"/>
<circle cx="485.9" cy="391.0" r="0.7" fill="#a51f38"/>
<circle cx="488.6" cy="390.7" r="0.7" fill="#a51f38"/>
<circle cx="480.8" cy="401.6" r="0.7" fill="#a51f38"/>
<circle cx="486.1" cy="398.2" r="0.7" fill="#a51f38"/>
<circle cx="489.3" cy="393.1" r="0.7" fill="#a51f38"/>
<circle cx="484.9" cy="375.1" r="0.7" fill="#a51f38"/>
<circle cx="490.1" cy="385.8" r="0.7" fill="#a51f38"/>
<circle cx="485.6" cy="378.9" r="0.7" fill="#a51f38"/>
<circle cx="487.4" cy="378.2" r="0.7" fill="#a51f38"/>
<circle cx="487.7" cy="389.5" r="0.7" fill="#a51f38"/>
<circle cx="489.3" cy="383.6" r="0.7" fill="#a51f38"/>
<circle cx="484.2" cy="373.7" r="0.7" fill="#a51f38"/>
<circle cx="488.7" cy="397.6" r="0.7" fill="#a51f38"/>
<circle cx="482.8" cy="399.0" r="0.7" fill="#a51f38"/>
<circle cx="486.4" cy="376.2" r="0.7" fill="#a51f38"/>
<circle cx="480.7" cy="397.5" r="0.7" fill="#a51f38"/>
<circle cx="485.3" cy="404.2" r="0.7" fill="#a51f38"/>
<circle cx="484.9" cy="374.6" r="0.7" fill="#a51f38"/>
<circle cx="480.5" cy="384.6" r="0.7" fill="#a51f38"/>
<circle cx="489.1" cy="402.5" r="0.7" fill="#a51f38"/>
<circle cx="484.5" cy="377.6" r="0.7" fill="#a51f38"/>
<circle cx="486.9" cy="382.5" r="0.7" fill="#a51f38"/>
<circle cx="483.7" cy="377.1" r="0.7" fill="#a51f38"/>
<circle cx="484.7" cy="387.0" r="0.7" fill="#a51f38"/>
<circle cx="486.1" cy="387.8" r="0.7" fill="#a51f38"/>
<circle cx="489.0" cy="404.3" r="0.7" fill="#a51f38"/>
<circle cx="488.1" cy="403.3" r="0.7" fill="#a51f38"/>
<circle cx="482.1" cy="381.0" r="0.7" fill="#a51f38"/>
<circle cx="486.6" cy="388.6" r="0.7" fill="#a51f38"/>
<circle cx="483.4" cy="393.4" r="0.7" fill="#a51f38"/>
<circle cx="483.3" cy="406.0" r="0.7" fill="#a51f38"/>
<circle cx="483.5" cy="374.1" r="0.7" fill="#a51f38"/>
<circle cx="487.5" cy="380.4" r="0.7" fill="#a51f38"/>
<circle cx="480.6" cy="401.1" r="0.7" fill="#a51f38"/>
<circle cx="482.1" cy="381.3" r="0.7" fill="#a51f38"/>
<circle cx="488.8" cy="399.3" r="0.7" fill="#a51f38"/>
<circle cx="480.5" cy="382.1" r="0.7" fill="#a51f38"/>
<circle cx="489.4" cy="405.2" r="0.7" fill="#a51f38"/>
<circle cx="484.7" cy="397.0" r="0.7" fill="#a51f38"/>
<circle cx="487.6" cy="398.0" r="0.7" fill="#a51f38"/>
<circle cx="482.4" cy="390.2" r="0.7" fill="#a51f38"/>
<circle cx="486.8" cy="390.7" r="0.7" fill="#a51f38"/>
<circle cx="486.6" cy="384.1" r="0.7" fill="#a51f38"/>
<circle cx="489.4" cy="378.3" r="0.7" fill="#a51f38"/>
<circle cx="482.0" cy="380.4" r="0.7" fill="#a51f38"/>
<circle cx="489.2" cy="405.0" r="0.7" fill="#a51f38"/>
<circle cx="488.2" cy="403.8" r="0.7" fill="#a51f38"/>
<circle cx="488.0" cy="401.3" r="0.7" fill="#a51f38"/>
<circle cx="480.4" cy="392.1" r="0.7" fill="#a51f38"/>
<circle cx="504.9" cy="374.6" r="0.7" fill="#a51f38"/>
<circle cx="503.3" cy="376.8" r="0.7" fill="#a51f38"/>
<circle cx="504.7" cy="361.2" r="0.7" fill="#a51f38"/>
<circle cx="505.0" cy="369.8" r="0.7" fill="#a51f38"/>
<circle cx="504.1" cy="379.8" r="0.7" fill="#a51f38"/>
<circle cx="504.5" cy="373.5" r="0.7" fill="#a51f38"/>
<circle cx="503.9" cy="373.9" r="0.7" fill="#a51f38"/>
<circle cx="503.3" cy="372.8" r="0.7" fill="#a51f38"/>
<circle cx="504.6" cy="378.0" r="0.7" fill="#a51f38"/>
<circle cx="504.1" cy="376.1" r="0.7" fill="#a51f38"/>
<circle cx="504.1" cy="364.1" r="0.7" fill="#a51f38"/>
<circle cx="504.3" cy="373.6" r="0.7" fill="#a51f38"/>
<circle cx="503.2" cy="362.2" r="0.7" fill="#a51f38"/>
<circle cx="503.7" cy="368.0" r="0.7" fill="#a51f38"/>
<polygon points="503.20,380.00 502.80,392.00 502.00,397.00 501.00,402.00 499.70,404.50 498.40,406.30 510.00,406.30 508.70,404.50 507.40,402.00 506.40,397.00 505.60,392.00 505.20,380.00" fill="#a51f38" opacity="0.6"/>
<circle cx="503.4" cy="386.0" r="0.7" fill="#a51f38"/>
<circle cx="504.8" cy="390.9" r="0.7" fill="#a51f38"/>
<circle cx="505.8" cy="404.0" r="0.7" fill="#a51f38"/>
<circle cx="505.2" cy="380.5" r="0.7" fill="#a51f38"/>
<circle cx="505.3" cy="396.0" r="0.7" fill="#a51f38"/>
<circle cx="503.5" cy="396.1" r="0.7" fill="#a51f38"/>
<circle cx="502.8" cy="388.9" r="0.7" fill="#a51f38"/>
<circle cx="501.9" cy="397.5" r="0.7" fill="#a51f38"/>
<circle cx="506.4" cy="397.9" r="0.7" fill="#a51f38"/>
<circle cx="504.8" cy="397.6" r="0.7" fill="#a51f38"/>
<circle cx="507.3" cy="401.3" r="0.7" fill="#a51f38"/>
<circle cx="507.5" cy="401.4" r="0.7" fill="#a51f38"/>
<circle cx="502.5" cy="392.1" r="0.7" fill="#a51f38"/>
<circle cx="504.9" cy="396.2" r="0.7" fill="#a51f38"/>
<circle cx="505.1" cy="402.7" r="0.7" fill="#a51f38"/>
<circle cx="502.6" cy="389.6" r="0.7" fill="#a51f38"/>
<circle cx="505.1" cy="401.8" r="0.7" fill="#a51f38"/>
<circle cx="505.3" cy="405.9" r="0.7" fill="#a51f38"/>
<circle cx="506.2" cy="402.4" r="0.7" fill="#a51f38"/>
<circle cx="503.8" cy="406.1" r="0.7" fill="#a51f38"/>
<circle cx="503.3" cy="403.6" r="0.7" fill="#a51f38"/>
<circle cx="503.7" cy="380.3" r="0.7" fill="#a51f38"/>
<circle cx="505.8" cy="389.2" r="0.7" fill="#a51f38"/>
<circle cx="503.5" cy="390.4" r="0.7" fill="#a51f38"/>
<circle cx="502.0" cy="398.2" r="0.7" fill="#a51f38"/>
<circle cx="503.9" cy="388.0" r="0.7" fill="#a51f38"/>
<circle cx="504.5" cy="383.3" r="0.7" fill="#a51f38"/>
<circle cx="505.2" cy="391.1" r="0.7" fill="#a51f38"/>
<circle cx="505.7" cy="388.9" r="0.7" fill="#a51f38"/>
<circle cx="504.3" cy="385.1" r="0.7" fill="#a51f38"/>
<circle cx="502.7" cy="386.0" r="0.7" fill="#a51f38"/>
<circle cx="505.4" cy="387.9" r="0.7" fill="#a51f38"/>
<circle cx="504.2" cy="387.7" r="0.7" fill="#a51f38"/>
<circle cx="503.3" cy="393.8" r="0.7" fill="#a51f38"/>
<circle cx="502.4" cy="394.1" r="0.7" fill="#a51f38"/>
<circle cx="503.5" cy="389.2" r="0.7" fill="#a51f38"/>
<circle cx="506.0" cy="401.4" r="0.7" fill="#a51f38"/>
<circle cx="504.7" cy="398.4" r="0.7" fill="#a51f38"/>
<circle cx="506.1" cy="402.8" r="0.7" fill="#a51f38"/>
<circle cx="503.2" cy="381.5" r="0.7" fill="#a51f38"/>
<circle cx="506.3" cy="399.7" r="0.7" fill="#a51f38"/>
<circle cx="507.4" cy="406.0" r="0.7" fill="#a51f38"/>
<circle cx="504.4" cy="384.2" r="0.7" fill="#a51f38"/>
<circle cx="504.7" cy="396.4" r="0.7" fill="#a51f38"/>
<circle cx="505.5" cy="383.5" r="0.7" fill="#a51f38"/>
<circle cx="503.3" cy="393.4" r="0.7" fill="#a51f38"/>
<circle cx="502.9" cy="405.8" r="0.7" fill="#a51f38"/>
<circle cx="504.7" cy="381.8" r="0.7" fill="#a51f38"/>
<circle cx="503.3" cy="386.8" r="0.7" fill="#a51f38"/>
<circle cx="504.5" cy="388.0" r="0.7" fill="#a51f38"/>
<circle cx="504.7" cy="388.4" r="0.7" fill="#a51f38"/>
<circle cx="508.6" cy="403.8" r="0.7" fill="#a51f38"/>
<circle cx="507.8" cy="403.4" r="0.7" fill="#a51f38"/>
<circle cx="505.2" cy="386.7" r="0.7" fill="#a51f38"/>
<circle cx="504.4" cy="382.4" r="0.7" fill="#a51f38"/>
<circle cx="503.1" cy="382.0" r="0.7" fill="#a51f38"/>
<circle cx="500.4" cy="405.0" r="0.7" fill="#a51f38"/>
<circle cx="504.4" cy="398.9" r="0.7" fill="#a51f38"/>
<circle cx="505.0" cy="380.0" r="0.7" fill="#a51f38"/>
<circle cx="505.2" cy="381.6" r="0.7" fill="#a51f38"/>
<circle cx="504.2" cy="401.5" r="0.7" fill="#a51f38"/>
<circle cx="502.6" cy="391.7" r="0.7" fill="#a51f38"/>
<circle cx="501.6" cy="398.4" r="0.7" fill="#a51f38"/>
<circle cx="505.9" cy="393.8" r="0.7" fill="#a51f38"/>
<circle cx="502.2" cy="397.8" r="0.7" fill="#a51f38"/>
<circle cx="505.4" cy="399.0" r="0.7" fill="#a51f38"/>
<circle cx="505.1" cy="388.7" r="0.7" fill="#a51f38"/>
<circle cx="503.8" cy="395.2" r="0.7" fill="#a51f38"/>
<circle cx="503.3" cy="393.8" r="0.7" fill="#a51f38"/>
<circle cx="505.4" cy="387.6" r="0.7" fill="#a51f38"/>
<circle cx="505.1" cy="389.2" r="0.7" fill="#a51f38"/>
<circle cx="503.2" cy="389.6" r="0.7" fill="#a51f38"/>
<circle cx="505.4" cy="380.0" r="0.7" fill="#a51f38"/>
<circle cx="507.1" cy="399.8" r="0.7" fill="#a51f38"/>
<circle cx="502.2" cy="395.5" r="0.7" fill="#a51f38"/>
<line x1="498.00" y1="392.30" x2="510.40" y2="392.30" stroke="#2b2b2b" stroke-width="0.9" />
<rect x="0" y="0" width="520" height="1" fill="#070707"/><rect x="0" y="1" width="520" height="1" fill="#c4c4c4"/>
<rect x="0" y="0" width="1" height="443" fill="#474747"/><rect x="1" y="0" width="1" height="443" fill="#9a9a9a"/><rect x="2" y="0" width="1" height="443" fill="#eeeeee"/>
<rect x="517" y="0" width="1" height="443" fill="#e2e2e2"/><rect x="518" y="0" width="1" height="443" fill="#7a7a7a"/><rect x="519" y="0" width="1" height="443" fill="#444"/>
<rect x="0" y="441" width="520" height="1" fill="#999"/><rect x="0" y="442" width="520" height="1" fill="#444"/>
</svg></body></html>
